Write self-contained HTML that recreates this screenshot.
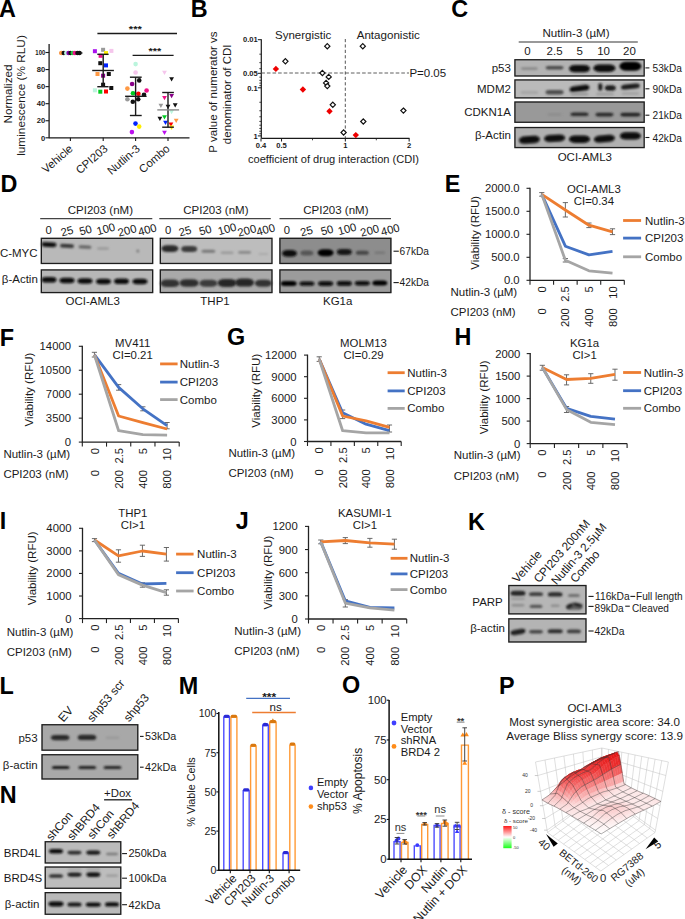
<!DOCTYPE html>
<html><head><meta charset="utf-8"><title>Figure</title>
<style>html,body{margin:0;padding:0;background:#fff;} body{width:685px;height:919px;overflow:hidden;} svg{display:block;} text{font-family:"Liberation Sans", sans-serif;}</style>
</head><body>
<svg width="685" height="919" viewBox="0 0 685 919">
<defs><filter id="bl5" x="-50%" y="-100%" width="200%" height="300%"><feGaussianBlur stdDeviation="0.5"/></filter><filter id="bl6" x="-50%" y="-100%" width="200%" height="300%"><feGaussianBlur stdDeviation="0.6"/></filter><filter id="bl7" x="-50%" y="-100%" width="200%" height="300%"><feGaussianBlur stdDeviation="0.7"/></filter><filter id="bl8" x="-50%" y="-100%" width="200%" height="300%"><feGaussianBlur stdDeviation="0.8"/></filter><filter id="bl9" x="-50%" y="-100%" width="200%" height="300%"><feGaussianBlur stdDeviation="0.9"/></filter><filter id="bl10" x="-50%" y="-100%" width="200%" height="300%"><feGaussianBlur stdDeviation="1.0"/></filter><filter id="bl11" x="-50%" y="-100%" width="200%" height="300%"><feGaussianBlur stdDeviation="1.1"/></filter><filter id="bl12" x="-50%" y="-100%" width="200%" height="300%"><feGaussianBlur stdDeviation="1.2"/></filter><filter id="bl13" x="-50%" y="-100%" width="200%" height="300%"><feGaussianBlur stdDeviation="1.3"/></filter><filter id="bl14" x="-50%" y="-100%" width="200%" height="300%"><feGaussianBlur stdDeviation="1.4"/></filter><filter id="bl15" x="-50%" y="-100%" width="200%" height="300%"><feGaussianBlur stdDeviation="1.5"/></filter><filter id="bl16" x="-50%" y="-100%" width="200%" height="300%"><feGaussianBlur stdDeviation="1.6"/></filter><filter id="bl17" x="-50%" y="-100%" width="200%" height="300%"><feGaussianBlur stdDeviation="1.7"/></filter><filter id="bl18" x="-50%" y="-100%" width="200%" height="300%"><feGaussianBlur stdDeviation="1.8"/></filter><filter id="bl19" x="-50%" y="-100%" width="200%" height="300%"><feGaussianBlur stdDeviation="1.9"/></filter><filter id="bl20" x="-50%" y="-100%" width="200%" height="300%"><feGaussianBlur stdDeviation="2.0"/></filter></defs>
<rect x="0" y="0" width="685" height="919" fill="#fff"/>
<text x="-1.14" y="16.50" font-size="23.4" text-anchor="start" font-weight="bold" fill="#000" >A</text>
<text transform="translate(11.60,94.00) rotate(-90)" font-size="11.7" text-anchor="middle" font-weight="normal" fill="#1a1a1a" >Normalized</text>
<text transform="translate(24.90,95.50) rotate(-90)" font-size="11.8" text-anchor="middle" font-weight="normal" fill="#1a1a1a" >luminescence (% RLU)</text>
<line x1="49.10" y1="43.90" x2="49.10" y2="138.30" stroke="#1a1a1a" stroke-width="1.3" />
<line x1="45.50" y1="137.80" x2="49.10" y2="137.80" stroke="#1a1a1a" stroke-width="1.1" />
<text x="45.30" y="140.50" font-size="7.6" text-anchor="end" font-weight="bold" fill="#1a1a1a" >0</text>
<line x1="45.50" y1="120.74" x2="49.10" y2="120.74" stroke="#1a1a1a" stroke-width="1.1" />
<text x="45.30" y="123.44" font-size="7.6" text-anchor="end" font-weight="bold" fill="#1a1a1a" >20</text>
<line x1="45.50" y1="103.68" x2="49.10" y2="103.68" stroke="#1a1a1a" stroke-width="1.1" />
<text x="45.30" y="106.38" font-size="7.6" text-anchor="end" font-weight="bold" fill="#1a1a1a" >40</text>
<line x1="45.50" y1="86.62" x2="49.10" y2="86.62" stroke="#1a1a1a" stroke-width="1.1" />
<text x="45.30" y="89.32" font-size="7.6" text-anchor="end" font-weight="bold" fill="#1a1a1a" >60</text>
<line x1="45.50" y1="69.56" x2="49.10" y2="69.56" stroke="#1a1a1a" stroke-width="1.1" />
<text x="45.30" y="72.26" font-size="7.6" text-anchor="end" font-weight="bold" fill="#1a1a1a" >80</text>
<line x1="45.50" y1="52.50" x2="49.10" y2="52.50" stroke="#1a1a1a" stroke-width="1.1" />
<text x="45.30" y="55.20" font-size="7.6" text-anchor="end" font-weight="bold" fill="#1a1a1a" textLength="10.0" lengthAdjust="spacingAndGlyphs" >100</text>
<line x1="49.10" y1="137.80" x2="189.50" y2="137.80" stroke="#1a1a1a" stroke-width="1.3" />
<line x1="70.40" y1="137.80" x2="70.40" y2="141.00" stroke="#1a1a1a" stroke-width="1.1" />
<text transform="translate(73.60,149.80) rotate(-41)" font-size="11.3" text-anchor="end" font-weight="normal" fill="#1a1a1a" >Vehicle</text>
<line x1="103.20" y1="137.80" x2="103.20" y2="141.00" stroke="#1a1a1a" stroke-width="1.1" />
<text transform="translate(108.40,149.80) rotate(-41)" font-size="11.3" text-anchor="end" font-weight="normal" fill="#1a1a1a" >CPI203</text>
<line x1="135.60" y1="137.80" x2="135.60" y2="141.00" stroke="#1a1a1a" stroke-width="1.1" />
<text transform="translate(140.80,149.80) rotate(-41)" font-size="11.3" text-anchor="end" font-weight="normal" fill="#1a1a1a" >Nutlin-3</text>
<line x1="168.00" y1="137.80" x2="168.00" y2="141.00" stroke="#1a1a1a" stroke-width="1.1" />
<text transform="translate(170.60,149.80) rotate(-41)" font-size="11.3" text-anchor="end" font-weight="normal" fill="#1a1a1a" >Combo</text>
<line x1="97.40" y1="33.50" x2="177.00" y2="33.50" stroke="#1a1a1a" stroke-width="1.3" />
<text x="135.30" y="32.00" font-size="9.5" text-anchor="middle" font-weight="bold" fill="#1a1a1a" textLength="13" lengthAdjust="spacingAndGlyphs" >***</text>
<line x1="132.60" y1="55.40" x2="173.60" y2="55.40" stroke="#1a1a1a" stroke-width="1.3" />
<text x="154.80" y="54.00" font-size="9.5" text-anchor="middle" font-weight="bold" fill="#1a1a1a" textLength="12.7" lengthAdjust="spacingAndGlyphs" >***</text>
<line x1="59.50" y1="53.00" x2="82.50" y2="53.00" stroke="#1a1a1a" stroke-width="1.2" />
<circle cx="61.3" cy="53.0" r="2.3" fill="#ff9944"/>
<circle cx="63.8" cy="53.0" r="2.3" fill="#111"/>
<circle cx="66.3" cy="53.0" r="2.3" fill="#bbf5dd"/>
<circle cx="68.6" cy="53.0" r="2.3" fill="#8800aa"/>
<circle cx="70.6" cy="53.0" r="2.3" fill="#111"/>
<circle cx="72.8" cy="53.0" r="2.3" fill="#22cc44"/>
<circle cx="74.8" cy="53.0" r="2.3" fill="#ee1188"/>
<circle cx="77.5" cy="53.0" r="2.3" fill="#111"/>
<circle cx="79.5" cy="53.0" r="2.3" fill="#111"/>
<rect x="92.90" y="49.20" width="4.00" height="4.00" fill="#aa11ee" stroke="none" stroke-width="0" />
<rect x="101.10" y="47.80" width="4.00" height="4.00" fill="#9a9a9a" stroke="none" stroke-width="0" />
<rect x="109.40" y="48.90" width="4.00" height="4.00" fill="#f5c6ec" stroke="none" stroke-width="0" />
<rect x="104.00" y="51.10" width="4.00" height="4.00" fill="#ffee00" stroke="none" stroke-width="0" />
<rect x="98.60" y="53.80" width="4.00" height="4.00" fill="#ee1188" stroke="none" stroke-width="0" />
<rect x="98.30" y="61.20" width="4.00" height="4.00" fill="#111" stroke="none" stroke-width="0" />
<rect x="104.00" y="63.40" width="4.00" height="4.00" fill="#0022ff" stroke="none" stroke-width="0" />
<rect x="95.50" y="72.00" width="4.00" height="4.00" fill="#ff9944" stroke="none" stroke-width="0" />
<rect x="101.10" y="73.70" width="4.00" height="4.00" fill="#880088" stroke="none" stroke-width="0" />
<rect x="106.80" y="72.00" width="4.00" height="4.00" fill="#111" stroke="none" stroke-width="0" />
<rect x="101.10" y="82.70" width="4.00" height="4.00" fill="#111" stroke="none" stroke-width="0" />
<rect x="109.30" y="86.00" width="4.00" height="4.00" fill="#111" stroke="none" stroke-width="0" />
<rect x="92.90" y="88.30" width="4.00" height="4.00" fill="#bbf5dd" stroke="none" stroke-width="0" />
<rect x="98.30" y="89.70" width="4.00" height="4.00" fill="#00cc22" stroke="none" stroke-width="0" />
<rect x="104.00" y="89.50" width="4.00" height="4.00" fill="#ff0000" stroke="none" stroke-width="0" />
<line x1="103.20" y1="54.30" x2="103.20" y2="86.70" stroke="#1a1a1a" stroke-width="1.4" />
<line x1="97.30" y1="54.30" x2="108.60" y2="54.30" stroke="#1a1a1a" stroke-width="1.4" />
<line x1="97.30" y1="86.70" x2="108.60" y2="86.70" stroke="#1a1a1a" stroke-width="1.4" />
<line x1="92.20" y1="70.50" x2="113.90" y2="70.50" stroke="#1a1a1a" stroke-width="1.4" />
<circle cx="135.6" cy="64.1" r="2.3" fill="#bbf5dd"/>
<circle cx="135.6" cy="72.5" r="2.3" fill="#f5c6ec"/>
<circle cx="139.2" cy="80.4" r="2.3" fill="#111"/>
<circle cx="132.1" cy="84.0" r="2.3" fill="#880088"/>
<circle cx="127.4" cy="88.6" r="2.3" fill="#ff9944"/>
<circle cx="146.6" cy="90.5" r="2.3" fill="#ee1188"/>
<circle cx="133.0" cy="93.2" r="2.3" fill="#00cc22"/>
<circle cx="138.4" cy="93.7" r="2.3" fill="#ff0000"/>
<circle cx="144.0" cy="94.7" r="2.3" fill="#111"/>
<circle cx="127.4" cy="99.3" r="2.3" fill="#9a9a9a"/>
<circle cx="138.2" cy="99.3" r="2.3" fill="#111"/>
<circle cx="132.8" cy="101.7" r="2.3" fill="#111"/>
<circle cx="135.5" cy="123.6" r="2.3" fill="#0022ff"/>
<circle cx="139.2" cy="126.6" r="2.3" fill="#ffee00"/>
<circle cx="131.9" cy="132.1" r="2.3" fill="#bb11ee"/>
<line x1="135.60" y1="77.20" x2="135.60" y2="115.50" stroke="#1a1a1a" stroke-width="1.4" />
<line x1="129.90" y1="77.20" x2="141.70" y2="77.20" stroke="#1a1a1a" stroke-width="1.4" />
<line x1="129.90" y1="115.50" x2="141.70" y2="115.50" stroke="#1a1a1a" stroke-width="1.4" />
<line x1="125.10" y1="96.30" x2="146.60" y2="96.30" stroke="#1a1a1a" stroke-width="1.4" />
<polygon points="162.10,70.80 166.90,70.80 164.50,75.10" fill="#f5c6ec"/>
<polygon points="169.20,77.20 174.00,77.20 171.60,81.50" fill="#111"/>
<polygon points="162.10,96.00 166.90,96.00 164.50,100.30" fill="#ee1188"/>
<polygon points="169.20,94.00 174.00,94.00 171.60,98.30" fill="#880088"/>
<polygon points="158.50,103.80 163.30,103.80 160.90,108.10" fill="#9a9a9a"/>
<polygon points="165.60,104.80 170.40,104.80 168.00,109.10" fill="#111"/>
<polygon points="172.80,103.30 177.60,103.30 175.20,107.60" fill="#111"/>
<polygon points="169.20,109.90 174.00,109.90 171.60,114.20" fill="#bbf5dd"/>
<polygon points="162.10,115.20 166.90,115.20 164.50,119.50" fill="#00cc22"/>
<polygon points="157.50,116.80 162.30,116.80 159.90,121.10" fill="#111"/>
<polygon points="173.80,118.80 178.60,118.80 176.20,123.10" fill="#ff9944"/>
<polygon points="163.10,120.80 167.90,120.80 165.50,125.10" fill="#0022ff"/>
<polygon points="168.50,122.60 173.30,122.60 170.90,126.90" fill="#ff0000"/>
<polygon points="169.20,125.60 174.00,125.60 171.60,129.90" fill="#ffee00"/>
<polygon points="162.10,130.70 166.90,130.70 164.50,135.00" fill="#bb11ee"/>
<line x1="168.00" y1="92.50" x2="168.00" y2="127.20" stroke="#1a1a1a" stroke-width="1.4" />
<line x1="162.20" y1="92.50" x2="173.90" y2="92.50" stroke="#1a1a1a" stroke-width="1.4" />
<line x1="162.20" y1="127.20" x2="173.90" y2="127.20" stroke="#1a1a1a" stroke-width="1.4" />
<line x1="157.30" y1="109.90" x2="179.10" y2="109.90" stroke="#888" stroke-width="1.4" />
<text x="190.68" y="16.60" font-size="23.4" text-anchor="start" font-weight="bold" fill="#000" >B</text>
<text transform="translate(217.40,92.00) rotate(-90)" font-size="11.5" text-anchor="middle" font-weight="normal" fill="#1a1a1a" >P value of numerator vs</text>
<text transform="translate(230.90,94.30) rotate(-90)" font-size="11.5" text-anchor="middle" font-weight="normal" fill="#1a1a1a" >denominator of CDI</text>
<line x1="261.30" y1="39.20" x2="261.30" y2="138.30" stroke="#1a1a1a" stroke-width="1.2" />
<line x1="257.80" y1="39.70" x2="261.30" y2="39.70" stroke="#1a1a1a" stroke-width="1.0" />
<text x="257.70" y="42.40" font-size="7.6" text-anchor="end" font-weight="bold" fill="#1a1a1a" >0.01</text>
<line x1="257.80" y1="73.32" x2="261.30" y2="73.32" stroke="#1a1a1a" stroke-width="1.0" />
<text x="257.70" y="76.02" font-size="7.6" text-anchor="end" font-weight="bold" fill="#1a1a1a" >0.05</text>
<line x1="257.80" y1="87.80" x2="261.30" y2="87.80" stroke="#1a1a1a" stroke-width="1.0" />
<text x="257.70" y="90.50" font-size="7.6" text-anchor="end" font-weight="bold" fill="#1a1a1a" >0.1</text>
<line x1="257.80" y1="135.90" x2="261.30" y2="135.90" stroke="#1a1a1a" stroke-width="1.0" />
<text x="257.70" y="138.60" font-size="7.6" text-anchor="end" font-weight="bold" fill="#1a1a1a" >1</text>
<line x1="259.30" y1="54.18" x2="261.30" y2="54.18" stroke="#1a1a1a" stroke-width="0.8" />
<line x1="259.30" y1="62.65" x2="261.30" y2="62.65" stroke="#1a1a1a" stroke-width="0.8" />
<line x1="259.30" y1="68.66" x2="261.30" y2="68.66" stroke="#1a1a1a" stroke-width="0.8" />
<line x1="259.30" y1="77.13" x2="261.30" y2="77.13" stroke="#1a1a1a" stroke-width="0.8" />
<line x1="259.30" y1="80.35" x2="261.30" y2="80.35" stroke="#1a1a1a" stroke-width="0.8" />
<line x1="259.30" y1="83.14" x2="261.30" y2="83.14" stroke="#1a1a1a" stroke-width="0.8" />
<line x1="259.30" y1="85.60" x2="261.30" y2="85.60" stroke="#1a1a1a" stroke-width="0.8" />
<line x1="259.30" y1="102.28" x2="261.30" y2="102.28" stroke="#1a1a1a" stroke-width="0.8" />
<line x1="259.30" y1="110.75" x2="261.30" y2="110.75" stroke="#1a1a1a" stroke-width="0.8" />
<line x1="259.30" y1="116.76" x2="261.30" y2="116.76" stroke="#1a1a1a" stroke-width="0.8" />
<line x1="259.30" y1="121.42" x2="261.30" y2="121.42" stroke="#1a1a1a" stroke-width="0.8" />
<line x1="259.30" y1="125.23" x2="261.30" y2="125.23" stroke="#1a1a1a" stroke-width="0.8" />
<line x1="259.30" y1="128.45" x2="261.30" y2="128.45" stroke="#1a1a1a" stroke-width="0.8" />
<line x1="259.30" y1="131.24" x2="261.30" y2="131.24" stroke="#1a1a1a" stroke-width="0.8" />
<line x1="259.30" y1="133.70" x2="261.30" y2="133.70" stroke="#1a1a1a" stroke-width="0.8" />
<line x1="261.30" y1="138.30" x2="409.50" y2="138.30" stroke="#1a1a1a" stroke-width="1.2" />
<line x1="261.00" y1="138.30" x2="261.00" y2="141.50" stroke="#1a1a1a" stroke-width="1.0" />
<text x="261.00" y="147.80" font-size="7.6" text-anchor="middle" font-weight="bold" fill="#1a1a1a" >0.4</text>
<line x1="281.54" y1="138.30" x2="281.54" y2="141.50" stroke="#1a1a1a" stroke-width="1.0" />
<text x="281.54" y="147.80" font-size="7.6" text-anchor="middle" font-weight="bold" fill="#1a1a1a" >0.5</text>
<line x1="345.34" y1="138.30" x2="345.34" y2="141.50" stroke="#1a1a1a" stroke-width="1.0" />
<text x="345.34" y="147.80" font-size="7.6" text-anchor="middle" font-weight="bold" fill="#1a1a1a" >1</text>
<line x1="409.15" y1="138.30" x2="409.15" y2="141.50" stroke="#1a1a1a" stroke-width="1.0" />
<text x="409.15" y="147.80" font-size="7.6" text-anchor="middle" font-weight="bold" fill="#1a1a1a" >2</text>
<line x1="312.51" y1="138.30" x2="312.51" y2="140.30" stroke="#1a1a1a" stroke-width="0.8" />
<line x1="376.32" y1="138.30" x2="376.32" y2="140.30" stroke="#1a1a1a" stroke-width="0.8" />
<line x1="261.30" y1="73.00" x2="409.00" y2="73.00" stroke="#5e5e5e" stroke-width="1.0" stroke-dasharray="3.6,2.0"/>
<line x1="345.30" y1="39.00" x2="345.30" y2="138.30" stroke="#444" stroke-width="0.9" stroke-dasharray="3.2,2.2"/>
<text x="409.40" y="76.80" font-size="11.5" text-anchor="start" font-weight="normal" fill="#1a1a1a" >P=0.05</text>
<text x="275.00" y="38.90" font-size="11.5" text-anchor="start" font-weight="normal" fill="#1a1a1a" textLength="56.2" lengthAdjust="spacingAndGlyphs" >Synergistic</text>
<text x="356.70" y="39.00" font-size="11.5" text-anchor="start" font-weight="normal" fill="#1a1a1a" textLength="63.1" lengthAdjust="spacingAndGlyphs" >Antagonistic</text>
<text x="248.00" y="163.00" font-size="11.5" text-anchor="start" font-weight="normal" fill="#1a1a1a" textLength="171" lengthAdjust="spacingAndGlyphs" >coefficient of drug interaction (CDI)</text>
<polygon points="327.30,43.60 329.90,46.20 327.30,48.80 324.70,46.20" fill="#fff" stroke="#111" stroke-width="1.2"/>
<polygon points="285.40,58.70 288.00,61.30 285.40,63.90 282.80,61.30" fill="#fff" stroke="#111" stroke-width="1.2"/>
<polygon points="322.40,70.40 325.00,73.00 322.40,75.60 319.80,73.00" fill="#fff" stroke="#111" stroke-width="1.2"/>
<polygon points="328.70,74.30 331.30,76.90 328.70,79.50 326.10,76.90" fill="#fff" stroke="#111" stroke-width="1.2"/>
<polygon points="326.10,80.30 328.70,82.90 326.10,85.50 323.50,82.90" fill="#fff" stroke="#111" stroke-width="1.2"/>
<polygon points="327.30,83.50 329.90,86.10 327.30,88.70 324.70,86.10" fill="#fff" stroke="#111" stroke-width="1.2"/>
<polygon points="332.80,102.20 335.40,104.80 332.80,107.40 330.20,104.80" fill="#fff" stroke="#111" stroke-width="1.2"/>
<polygon points="343.60,129.90 346.20,132.50 343.60,135.10 341.00,132.50" fill="#fff" stroke="#111" stroke-width="1.2"/>
<polygon points="362.80,43.60 365.40,46.20 362.80,48.80 360.20,46.20" fill="#fff" stroke="#111" stroke-width="1.2"/>
<polygon points="403.40,108.00 406.00,110.60 403.40,113.20 400.80,110.60" fill="#fff" stroke="#111" stroke-width="1.2"/>
<polygon points="363.30,118.90 365.90,121.50 363.30,124.10 360.70,121.50" fill="#fff" stroke="#111" stroke-width="1.2"/>
<polygon points="275.90,65.70 279.10,68.90 275.90,72.10 272.70,68.90" fill="#ee0000"/>
<polygon points="302.90,86.30 306.10,89.50 302.90,92.70 299.70,89.50" fill="#ee0000"/>
<polygon points="329.50,108.00 332.70,111.20 329.50,114.40 326.30,111.20" fill="#ee0000"/>
<polygon points="355.80,131.90 359.00,135.10 355.80,138.30 352.60,135.10" fill="#ee0000"/>
<text x="451.29" y="16.77" font-size="23.4" text-anchor="start" font-weight="bold" fill="#000" >C</text>
<text x="576.00" y="37.10" font-size="11.6" text-anchor="middle" font-weight="normal" fill="#1a1a1a" >Nutlin-3 (µM)</text>
<line x1="518.70" y1="41.90" x2="637.80" y2="41.90" stroke="#777" stroke-width="1.5" />
<text x="527.50" y="55.00" font-size="11.5" text-anchor="middle" font-weight="normal" fill="#1a1a1a" >0</text>
<text x="554.60" y="55.00" font-size="11.5" text-anchor="middle" font-weight="normal" fill="#1a1a1a" >2.5</text>
<text x="579.60" y="55.00" font-size="11.5" text-anchor="middle" font-weight="normal" fill="#1a1a1a" >5</text>
<text x="603.60" y="55.00" font-size="11.5" text-anchor="middle" font-weight="normal" fill="#1a1a1a" >10</text>
<text x="629.50" y="55.00" font-size="11.5" text-anchor="middle" font-weight="normal" fill="#1a1a1a" >20</text>
<rect x="514.30" y="59.10" width="130.50" height="17.50" fill="#b3b3b3"/>
<rect x="520.90" y="67.30" width="17.00" height="2.60" rx="2.08" ry="1.30" fill="#8a8a8a" filter="url(#bl10)" transform="rotate(0 529.40 68.60)"/>
<rect x="545.60" y="66.10" width="18.00" height="3.40" rx="2.72" ry="1.70" fill="#4a4a4a" filter="url(#bl10)" transform="rotate(0 554.60 67.80)"/>
<rect x="569.00" y="65.00" width="21.00" height="7.20" rx="5.76" ry="3.60" fill="#0a0a0a" filter="url(#bl10)" transform="rotate(0 579.50 68.60)"/>
<rect x="593.40" y="64.50" width="22.00" height="7.40" rx="5.92" ry="3.70" fill="#0a0a0a" filter="url(#bl10)" transform="rotate(0 604.40 68.20)"/>
<rect x="619.40" y="61.80" width="22.00" height="9.00" rx="7.20" ry="4.50" fill="#050505" filter="url(#bl10)" transform="rotate(0 630.40 66.30)"/>
<rect x="514.95" y="59.75" width="129.20" height="16.20" fill="none" stroke="#1e1e1e" stroke-width="1.3"/>
<rect x="514.30" y="79.30" width="130.50" height="19.20" fill="#bababa"/>
<rect x="520.40" y="91.00" width="18.00" height="3.00" rx="2.40" ry="1.50" fill="#a6a6a6" filter="url(#bl12)" transform="rotate(0 529.40 92.50)"/>
<rect x="545.60" y="90.00" width="18.00" height="4.40" rx="3.52" ry="2.20" fill="#4d4d4d" filter="url(#bl10)" transform="rotate(0 554.60 92.20)"/>
<rect x="569.50" y="85.40" width="20.00" height="6.00" rx="4.80" ry="3.00" fill="#111" filter="url(#bl9)" transform="rotate(-8 579.50 88.40)"/>
<rect x="570.50" y="92.50" width="18.00" height="3.00" rx="2.40" ry="1.50" fill="#9a9a9a" filter="url(#bl12)" transform="rotate(0 579.50 94.00)"/>
<rect x="598.30" y="83.25" width="4.00" height="7.50" rx="3.20" ry="2.00" fill="#1a1a1a" filter="url(#bl9)" transform="rotate(0 600.30 87.00)"/>
<rect x="604.80" y="85.25" width="11.00" height="5.50" rx="4.40" ry="2.75" fill="#1a1a1a" filter="url(#bl9)" transform="rotate(0 610.30 88.00)"/>
<rect x="596.00" y="92.50" width="18.00" height="3.00" rx="2.40" ry="1.50" fill="#9f9f9f" filter="url(#bl12)" transform="rotate(0 605.00 94.00)"/>
<rect x="620.90" y="84.10" width="19.00" height="5.00" rx="4.00" ry="2.50" fill="#1e1e1e" filter="url(#bl9)" transform="rotate(-6 630.40 86.60)"/>
<rect x="621.40" y="92.00" width="18.00" height="3.00" rx="2.40" ry="1.50" fill="#a4a4a4" filter="url(#bl12)" transform="rotate(0 630.40 93.50)"/>
<rect x="514.95" y="79.95" width="129.20" height="17.90" fill="none" stroke="#1e1e1e" stroke-width="1.3"/>
<rect x="514.30" y="101.40" width="130.50" height="21.50" fill="#999999"/>
<rect x="547.60" y="113.50" width="14.00" height="2.00" rx="1.60" ry="1.00" fill="#8a8a8a" filter="url(#bl10)" transform="rotate(0 554.60 114.50)"/>
<rect x="570.50" y="112.50" width="18.00" height="3.60" rx="2.88" ry="1.80" fill="#2a2a2a" filter="url(#bl10)" transform="rotate(0 579.50 114.30)"/>
<rect x="595.40" y="112.80" width="18.00" height="3.60" rx="2.88" ry="1.80" fill="#2a2a2a" filter="url(#bl10)" transform="rotate(0 604.40 114.60)"/>
<rect x="620.40" y="112.70" width="20.00" height="3.80" rx="3.04" ry="1.90" fill="#242424" filter="url(#bl10)" transform="rotate(0 630.40 114.60)"/>
<rect x="514.95" y="102.05" width="129.20" height="20.20" fill="none" stroke="#1e1e1e" stroke-width="1.3"/>
<rect x="514.30" y="126.90" width="130.50" height="21.30" fill="#b0b0b0"/>
<rect x="518.90" y="136.10" width="21.00" height="7.40" rx="5.92" ry="3.70" fill="#080808" filter="url(#bl8)" transform="rotate(-4 529.40 139.80)"/>
<rect x="544.10" y="134.80" width="21.00" height="7.00" rx="5.60" ry="3.50" fill="#080808" filter="url(#bl8)" transform="rotate(-3 554.60 138.30)"/>
<rect x="569.00" y="135.50" width="21.00" height="7.40" rx="5.92" ry="3.70" fill="#080808" filter="url(#bl8)" transform="rotate(0 579.50 139.20)"/>
<rect x="593.90" y="135.30" width="21.00" height="7.00" rx="5.60" ry="3.50" fill="#080808" filter="url(#bl8)" transform="rotate(-5 604.40 138.80)"/>
<rect x="619.90" y="132.20" width="21.00" height="7.40" rx="5.92" ry="3.70" fill="#080808" filter="url(#bl8)" transform="rotate(0 630.40 135.90)"/>
<rect x="514.95" y="127.55" width="129.20" height="20.00" fill="none" stroke="#1e1e1e" stroke-width="1.3"/>
<text x="510.90" y="71.50" font-size="11.5" text-anchor="end" font-weight="normal" fill="#1a1a1a" >p53</text>
<text x="510.90" y="93.40" font-size="11.5" text-anchor="end" font-weight="normal" fill="#1a1a1a" >MDM2</text>
<text x="510.90" y="116.40" font-size="11.5" text-anchor="end" font-weight="normal" fill="#1a1a1a" >CDKN1A</text>
<text x="510.90" y="139.30" font-size="11.5" text-anchor="end" font-weight="normal" fill="#1a1a1a" >β-Actin</text>
<line x1="645.40" y1="67.90" x2="649.40" y2="67.90" stroke="#1a1a1a" stroke-width="1.1" />
<text x="652.60" y="71.90" font-size="11.5" text-anchor="start" font-weight="normal" fill="#1a1a1a" textLength="29.3" lengthAdjust="spacingAndGlyphs" >53kDa</text>
<line x1="645.40" y1="88.80" x2="649.40" y2="88.80" stroke="#1a1a1a" stroke-width="1.1" />
<text x="652.60" y="92.80" font-size="11.5" text-anchor="start" font-weight="normal" fill="#1a1a1a" textLength="29.3" lengthAdjust="spacingAndGlyphs" >90kDa</text>
<line x1="645.40" y1="115.20" x2="649.40" y2="115.20" stroke="#1a1a1a" stroke-width="1.1" />
<text x="652.60" y="119.20" font-size="11.5" text-anchor="start" font-weight="normal" fill="#1a1a1a" textLength="29.3" lengthAdjust="spacingAndGlyphs" >21kDa</text>
<line x1="645.40" y1="137.50" x2="649.40" y2="137.50" stroke="#1a1a1a" stroke-width="1.1" />
<text x="652.60" y="141.50" font-size="11.5" text-anchor="start" font-weight="normal" fill="#1a1a1a" textLength="29.3" lengthAdjust="spacingAndGlyphs" >42kDa</text>
<text x="584.80" y="161.40" font-size="11.5" text-anchor="middle" font-weight="normal" fill="#1a1a1a" >OCI-AML3</text>
<text x="0.43" y="191.80" font-size="23.4" text-anchor="start" font-weight="bold" fill="#000" >D</text>
<text x="100.40" y="214.40" font-size="11.5" text-anchor="middle" font-weight="normal" fill="#1a1a1a" >CPI203 (nM)</text>
<line x1="40.20" y1="218.60" x2="152.30" y2="218.60" stroke="#444" stroke-width="1.1" />
<text x="48.70" y="234.20" font-size="11.3" text-anchor="middle" font-weight="normal" fill="#1a1a1a" >0</text>
<text transform="translate(62.00,236.60) rotate(-15)" font-size="11.3" text-anchor="start" font-weight="normal" fill="#1a1a1a" >25</text>
<text transform="translate(80.40,235.60) rotate(-15)" font-size="11.3" text-anchor="start" font-weight="normal" fill="#1a1a1a" >50</text>
<text transform="translate(97.70,235.20) rotate(-15)" font-size="11.3" text-anchor="start" font-weight="normal" fill="#1a1a1a" >100</text>
<text transform="translate(119.00,236.80) rotate(-15)" font-size="11.3" text-anchor="start" font-weight="normal" fill="#1a1a1a" >200</text>
<text transform="translate(139.20,236.00) rotate(-15)" font-size="11.3" text-anchor="start" font-weight="normal" fill="#1a1a1a" >400</text>
<rect x="40.70" y="237.70" width="112.60" height="26.40" fill="#b9b9b9"/>
<rect x="41.50" y="242.30" width="15.00" height="4.60" rx="3.68" ry="2.30" fill="#0d0d0d" filter="url(#bl10)" transform="rotate(3 49.00 244.60)"/>
<rect x="60.00" y="244.10" width="14.00" height="3.60" rx="2.88" ry="1.80" fill="#353535" filter="url(#bl10)" transform="rotate(3 67.00 245.90)"/>
<rect x="78.50" y="245.50" width="13.00" height="3.00" rx="2.40" ry="1.50" fill="#5e5e5e" filter="url(#bl10)" transform="rotate(3 85.00 247.00)"/>
<rect x="97.00" y="247.20" width="12.00" height="2.60" rx="2.08" ry="1.30" fill="#9a9a9a" filter="url(#bl10)" transform="rotate(0 103.00 248.50)"/>
<rect x="136.30" y="249.50" width="3.00" height="3.00" rx="2.40" ry="1.50" fill="#7a7a7a" filter="url(#bl8)" transform="rotate(0 137.80 251.00)"/>
<rect x="41.35" y="238.35" width="111.30" height="25.10" fill="none" stroke="#1e1e1e" stroke-width="1.3"/>
<rect x="40.70" y="269.30" width="112.60" height="23.90" fill="#b7b7b7"/>
<rect x="41.50" y="277.00" width="15.00" height="5.60" rx="4.48" ry="2.80" fill="#0a0a0a" filter="url(#bl10)" transform="rotate(0 49.00 279.80)"/>
<rect x="59.50" y="277.80" width="15.00" height="5.40" rx="4.32" ry="2.70" fill="#0f0f0f" filter="url(#bl10)" transform="rotate(0 67.00 280.50)"/>
<rect x="77.50" y="278.20" width="15.00" height="5.60" rx="4.48" ry="2.80" fill="#111" filter="url(#bl10)" transform="rotate(0 85.00 281.00)"/>
<rect x="96.00" y="278.70" width="15.00" height="5.60" rx="4.48" ry="2.80" fill="#111" filter="url(#bl10)" transform="rotate(0 103.50 281.50)"/>
<rect x="114.00" y="278.40" width="15.00" height="5.60" rx="4.48" ry="2.80" fill="#111" filter="url(#bl10)" transform="rotate(0 121.50 281.20)"/>
<rect x="132.50" y="278.70" width="15.00" height="5.60" rx="4.48" ry="2.80" fill="#111" filter="url(#bl10)" transform="rotate(0 140.00 281.50)"/>
<rect x="41.35" y="269.95" width="111.30" height="22.60" fill="none" stroke="#1e1e1e" stroke-width="1.3"/>
<text x="92.70" y="305.10" font-size="11.5" text-anchor="middle" font-weight="normal" fill="#1a1a1a" >OCI-AML3</text>
<text x="215.90" y="214.40" font-size="11.5" text-anchor="middle" font-weight="normal" fill="#1a1a1a" >CPI203 (nM)</text>
<line x1="159.30" y1="218.60" x2="270.80" y2="218.60" stroke="#444" stroke-width="1.1" />
<text x="168.20" y="234.20" font-size="11.3" text-anchor="middle" font-weight="normal" fill="#1a1a1a" >0</text>
<text transform="translate(179.90,236.60) rotate(-15)" font-size="11.3" text-anchor="start" font-weight="normal" fill="#1a1a1a" >25</text>
<text transform="translate(200.20,235.60) rotate(-15)" font-size="11.3" text-anchor="start" font-weight="normal" fill="#1a1a1a" >50</text>
<text transform="translate(218.90,235.20) rotate(-15)" font-size="11.3" text-anchor="start" font-weight="normal" fill="#1a1a1a" >100</text>
<text transform="translate(238.80,236.80) rotate(-15)" font-size="11.3" text-anchor="start" font-weight="normal" fill="#1a1a1a" >200</text>
<text transform="translate(257.50,236.00) rotate(-15)" font-size="11.3" text-anchor="start" font-weight="normal" fill="#1a1a1a" >400</text>
<rect x="159.70" y="237.70" width="112.90" height="26.40" fill="#bdbdbd"/>
<rect x="161.40" y="245.30" width="17.00" height="6.60" rx="5.28" ry="3.30" fill="#2a2a2a" filter="url(#bl9)" transform="rotate(0 169.90 248.60)"/>
<rect x="181.20" y="246.00" width="16.00" height="6.00" rx="4.80" ry="3.00" fill="#3a3a3a" filter="url(#bl9)" transform="rotate(0 189.20 249.00)"/>
<rect x="201.40" y="249.70" width="14.00" height="3.00" rx="2.40" ry="1.50" fill="#777" filter="url(#bl10)" transform="rotate(0 208.40 251.20)"/>
<rect x="220.60" y="251.60" width="13.00" height="2.40" rx="1.92" ry="1.20" fill="#9a9a9a" filter="url(#bl10)" transform="rotate(0 227.10 252.80)"/>
<rect x="238.10" y="251.00" width="13.00" height="2.80" rx="2.24" ry="1.40" fill="#888" filter="url(#bl10)" transform="rotate(0 244.60 252.40)"/>
<rect x="258.30" y="253.00" width="10.00" height="2.00" rx="1.60" ry="1.00" fill="#aaa" filter="url(#bl10)" transform="rotate(0 263.30 254.00)"/>
<rect x="160.35" y="238.35" width="111.60" height="25.10" fill="none" stroke="#1e1e1e" stroke-width="1.3"/>
<rect x="159.70" y="269.30" width="112.90" height="23.90" fill="#a9a9a9"/>
<rect x="160.40" y="279.55" width="19.00" height="7.50" rx="6.00" ry="3.75" fill="#333" filter="url(#bl13)" transform="rotate(0 169.90 283.30)"/>
<rect x="179.70" y="279.25" width="19.00" height="7.50" rx="6.00" ry="3.75" fill="#2e2e2e" filter="url(#bl13)" transform="rotate(0 189.20 283.00)"/>
<rect x="199.40" y="279.80" width="18.00" height="7.00" rx="5.60" ry="3.50" fill="#3a3a3a" filter="url(#bl13)" transform="rotate(0 208.40 283.30)"/>
<rect x="217.60" y="279.00" width="19.00" height="8.00" rx="6.40" ry="4.00" fill="#262626" filter="url(#bl13)" transform="rotate(0 227.10 283.00)"/>
<rect x="235.10" y="278.60" width="19.00" height="8.00" rx="6.40" ry="4.00" fill="#262626" filter="url(#bl13)" transform="rotate(0 244.60 282.60)"/>
<rect x="254.80" y="279.80" width="17.00" height="7.00" rx="5.60" ry="3.50" fill="#333" filter="url(#bl13)" transform="rotate(0 263.30 283.30)"/>
<rect x="160.35" y="269.95" width="111.60" height="22.60" fill="none" stroke="#1e1e1e" stroke-width="1.3"/>
<text x="215.00" y="305.10" font-size="11.5" text-anchor="middle" font-weight="normal" fill="#1a1a1a" >THP1</text>
<text x="335.90" y="214.40" font-size="11.5" text-anchor="middle" font-weight="normal" fill="#1a1a1a" >CPI203 (nM)</text>
<line x1="279.50" y1="218.60" x2="391.00" y2="218.60" stroke="#444" stroke-width="1.1" />
<text x="286.80" y="234.20" font-size="11.3" text-anchor="middle" font-weight="normal" fill="#1a1a1a" >0</text>
<text transform="translate(301.50,236.60) rotate(-15)" font-size="11.3" text-anchor="start" font-weight="normal" fill="#1a1a1a" >25</text>
<text transform="translate(321.90,235.60) rotate(-15)" font-size="11.3" text-anchor="start" font-weight="normal" fill="#1a1a1a" >50</text>
<text transform="translate(338.90,235.20) rotate(-15)" font-size="11.3" text-anchor="start" font-weight="normal" fill="#1a1a1a" >100</text>
<text transform="translate(361.60,236.80) rotate(-15)" font-size="11.3" text-anchor="start" font-weight="normal" fill="#1a1a1a" >200</text>
<text transform="translate(382.10,236.00) rotate(-15)" font-size="11.3" text-anchor="start" font-weight="normal" fill="#1a1a1a" >400</text>
<rect x="279.30" y="237.70" width="112.20" height="26.40" fill="#8d8d8d"/>
<rect x="282.00" y="250.10" width="15.00" height="6.60" rx="5.28" ry="3.30" fill="#111" filter="url(#bl9)" transform="rotate(0 289.50 253.40)"/>
<rect x="300.40" y="250.50" width="13.00" height="5.00" rx="4.00" ry="2.50" fill="#555" filter="url(#bl10)" transform="rotate(0 306.90 253.00)"/>
<rect x="317.60" y="249.30" width="16.00" height="7.00" rx="5.60" ry="3.50" fill="#050505" filter="url(#bl9)" transform="rotate(0 325.60 252.80)"/>
<rect x="336.80" y="249.00" width="15.00" height="6.00" rx="4.80" ry="3.00" fill="#151515" filter="url(#bl9)" transform="rotate(0 344.30 252.00)"/>
<rect x="355.80" y="250.80" width="13.00" height="4.00" rx="3.20" ry="2.00" fill="#444" filter="url(#bl10)" transform="rotate(0 362.30 252.80)"/>
<rect x="374.30" y="251.50" width="11.00" height="2.60" rx="2.08" ry="1.30" fill="#777" filter="url(#bl10)" transform="rotate(0 379.80 252.80)"/>
<rect x="279.95" y="238.35" width="110.90" height="25.10" fill="none" stroke="#1e1e1e" stroke-width="1.3"/>
<rect x="279.30" y="269.30" width="112.20" height="23.90" fill="#9b9b9b"/>
<rect x="280.70" y="281.10" width="16.00" height="5.00" rx="4.00" ry="2.50" fill="#050505" filter="url(#bl9)" transform="rotate(0 288.70 283.60)"/>
<rect x="299.40" y="281.40" width="15.00" height="4.40" rx="3.52" ry="2.20" fill="#0a0a0a" filter="url(#bl9)" transform="rotate(0 306.90 283.60)"/>
<rect x="318.10" y="281.30" width="15.00" height="4.60" rx="3.68" ry="2.30" fill="#080808" filter="url(#bl9)" transform="rotate(0 325.60 283.60)"/>
<rect x="336.80" y="281.10" width="15.00" height="4.60" rx="3.68" ry="2.30" fill="#080808" filter="url(#bl9)" transform="rotate(0 344.30 283.40)"/>
<rect x="354.80" y="281.00" width="15.00" height="4.40" rx="3.52" ry="2.20" fill="#0a0a0a" filter="url(#bl9)" transform="rotate(0 362.30 283.20)"/>
<rect x="372.30" y="280.50" width="15.00" height="5.00" rx="4.00" ry="2.50" fill="#050505" filter="url(#bl9)" transform="rotate(0 379.80 283.00)"/>
<rect x="279.95" y="269.95" width="110.90" height="22.60" fill="none" stroke="#1e1e1e" stroke-width="1.3"/>
<text x="337.70" y="305.10" font-size="11.5" text-anchor="middle" font-weight="normal" fill="#1a1a1a" >KG1a</text>
<text x="37.60" y="256.90" font-size="11.5" text-anchor="end" font-weight="normal" fill="#1a1a1a" >C-MYC</text>
<text x="37.80" y="283.30" font-size="11.5" text-anchor="end" font-weight="normal" fill="#1a1a1a" >β-Actin</text>
<line x1="393.50" y1="251.20" x2="398.80" y2="251.20" stroke="#1a1a1a" stroke-width="1.1" />
<text x="399.60" y="255.00" font-size="10.6" text-anchor="start" font-weight="normal" fill="#1a1a1a" textLength="29.4" lengthAdjust="spacingAndGlyphs" >67kDa</text>
<line x1="393.50" y1="282.60" x2="398.80" y2="282.60" stroke="#1a1a1a" stroke-width="1.1" />
<text x="399.60" y="286.40" font-size="10.6" text-anchor="start" font-weight="normal" fill="#1a1a1a" textLength="29.4" lengthAdjust="spacingAndGlyphs" >42kDa</text>
<text x="444.78" y="191.80" font-size="23.4" text-anchor="start" font-weight="bold" fill="#000" >E</text>
<line x1="530.00" y1="187.80" x2="530.00" y2="280.80" stroke="#222" stroke-width="1.3" />
<line x1="526.50" y1="280.30" x2="530.00" y2="280.30" stroke="#222" stroke-width="1.1" />
<text x="519.60" y="284.30" font-size="11.3" text-anchor="end" font-weight="normal" fill="#1a1a1a" >0.0</text>
<line x1="526.50" y1="257.30" x2="530.00" y2="257.30" stroke="#222" stroke-width="1.1" />
<text x="519.60" y="261.30" font-size="11.3" text-anchor="end" font-weight="normal" fill="#1a1a1a" >500.0</text>
<line x1="526.50" y1="234.30" x2="530.00" y2="234.30" stroke="#222" stroke-width="1.1" />
<text x="519.60" y="238.30" font-size="11.3" text-anchor="end" font-weight="normal" fill="#1a1a1a" >1000.0</text>
<line x1="526.50" y1="211.30" x2="530.00" y2="211.30" stroke="#222" stroke-width="1.1" />
<text x="519.60" y="215.30" font-size="11.3" text-anchor="end" font-weight="normal" fill="#1a1a1a" >1500.0</text>
<line x1="526.50" y1="188.30" x2="530.00" y2="188.30" stroke="#222" stroke-width="1.1" />
<text x="519.60" y="192.30" font-size="11.3" text-anchor="end" font-weight="normal" fill="#1a1a1a" >2000.0</text>
<line x1="530.00" y1="280.30" x2="624.30" y2="280.30" stroke="#222" stroke-width="1.3" />
<line x1="530.00" y1="280.30" x2="530.00" y2="284.80" stroke="#222" stroke-width="1.1" />
<line x1="553.58" y1="280.30" x2="553.58" y2="284.80" stroke="#222" stroke-width="1.1" />
<line x1="577.15" y1="280.30" x2="577.15" y2="284.80" stroke="#222" stroke-width="1.1" />
<line x1="600.72" y1="280.30" x2="600.72" y2="284.80" stroke="#222" stroke-width="1.1" />
<line x1="624.30" y1="280.30" x2="624.30" y2="284.80" stroke="#222" stroke-width="1.1" />
<text transform="translate(478.80,232.80) rotate(-90)" font-size="11.5" text-anchor="middle" font-weight="normal" fill="#1a1a1a" >Viability (RFU)</text>
<text x="593.90" y="193.20" font-size="11.4" text-anchor="middle" font-weight="normal" fill="#1a1a1a" >OCI-AML3</text>
<text x="593.90" y="204.90" font-size="11.4" text-anchor="middle" font-weight="normal" fill="#1a1a1a" >CI=0.34</text>
<line x1="541.79" y1="192.60" x2="541.79" y2="196.20" stroke="#5a5a5a" stroke-width="0.9" />
<line x1="539.19" y1="192.60" x2="544.39" y2="192.60" stroke="#5a5a5a" stroke-width="0.9" />
<line x1="539.19" y1="196.20" x2="544.39" y2="196.20" stroke="#5a5a5a" stroke-width="0.9" />
<line x1="565.36" y1="202.60" x2="565.36" y2="217.00" stroke="#5a5a5a" stroke-width="0.9" />
<line x1="562.76" y1="202.60" x2="567.96" y2="202.60" stroke="#5a5a5a" stroke-width="0.9" />
<line x1="562.76" y1="217.00" x2="567.96" y2="217.00" stroke="#5a5a5a" stroke-width="0.9" />
<line x1="588.94" y1="223.00" x2="588.94" y2="227.60" stroke="#5a5a5a" stroke-width="0.9" />
<line x1="586.34" y1="223.00" x2="591.54" y2="223.00" stroke="#5a5a5a" stroke-width="0.9" />
<line x1="586.34" y1="227.60" x2="591.54" y2="227.60" stroke="#5a5a5a" stroke-width="0.9" />
<line x1="612.51" y1="228.80" x2="612.51" y2="234.60" stroke="#5a5a5a" stroke-width="0.9" />
<line x1="609.91" y1="228.80" x2="615.11" y2="228.80" stroke="#5a5a5a" stroke-width="0.9" />
<line x1="609.91" y1="234.60" x2="615.11" y2="234.60" stroke="#5a5a5a" stroke-width="0.9" />
<line x1="565.36" y1="258.50" x2="565.36" y2="262.00" stroke="#5a5a5a" stroke-width="0.9" />
<line x1="562.76" y1="258.50" x2="567.96" y2="258.50" stroke="#5a5a5a" stroke-width="0.9" />
<line x1="562.76" y1="262.00" x2="567.96" y2="262.00" stroke="#5a5a5a" stroke-width="0.9" />
<polyline points="541.79,194.40 565.36,246.20 588.94,254.90 612.51,251.40" fill="none" stroke="#4472C4" stroke-width="2.8" stroke-linejoin="round" stroke-linecap="butt" />
<polyline points="541.79,194.40 565.36,210.00 588.94,225.20 612.51,231.80" fill="none" stroke="#ED7D31" stroke-width="2.8" stroke-linejoin="round" stroke-linecap="butt" />
<polyline points="541.79,194.40 565.36,260.30 588.94,270.80 612.51,273.10" fill="none" stroke="#A5A5A5" stroke-width="2.8" stroke-linejoin="round" stroke-linecap="butt" />
<line x1="623.10" y1="220.50" x2="641.10" y2="220.50" stroke="#ED7D31" stroke-width="2.8" />
<text x="645.00" y="224.50" font-size="11.5" text-anchor="start" font-weight="normal" fill="#1a1a1a" >Nutlin-3</text>
<line x1="623.10" y1="238.10" x2="641.10" y2="238.10" stroke="#4472C4" stroke-width="2.8" />
<text x="645.00" y="242.10" font-size="11.5" text-anchor="start" font-weight="normal" fill="#1a1a1a" >CPI203</text>
<line x1="623.10" y1="256.80" x2="641.10" y2="256.80" stroke="#A5A5A5" stroke-width="2.8" />
<text x="645.00" y="260.80" font-size="11.5" text-anchor="start" font-weight="normal" fill="#1a1a1a" >Combo</text>
<text x="450.50" y="296.00" font-size="11.5" text-anchor="start" font-weight="normal" fill="#1a1a1a" >Nutlin-3 (µM)</text>
<text x="450.50" y="316.20" font-size="11.5" text-anchor="start" font-weight="normal" fill="#1a1a1a" >CPI203 (nM)</text>
<text transform="translate(545.89,286.10) rotate(-90)" font-size="11.3" text-anchor="end" font-weight="normal" fill="#1a1a1a" >0</text>
<text transform="translate(545.89,308.10) rotate(-90)" font-size="11.3" text-anchor="end" font-weight="normal" fill="#1a1a1a" >0</text>
<text transform="translate(569.46,286.10) rotate(-90)" font-size="11.3" text-anchor="end" font-weight="normal" fill="#1a1a1a" >2.5</text>
<text transform="translate(569.46,308.10) rotate(-90)" font-size="11.3" text-anchor="end" font-weight="normal" fill="#1a1a1a" >200</text>
<text transform="translate(593.04,286.10) rotate(-90)" font-size="11.3" text-anchor="end" font-weight="normal" fill="#1a1a1a" >5</text>
<text transform="translate(593.04,308.10) rotate(-90)" font-size="11.3" text-anchor="end" font-weight="normal" fill="#1a1a1a" >400</text>
<text transform="translate(616.61,286.10) rotate(-90)" font-size="11.3" text-anchor="end" font-weight="normal" fill="#1a1a1a" >10</text>
<text transform="translate(616.61,308.10) rotate(-90)" font-size="11.3" text-anchor="end" font-weight="normal" fill="#1a1a1a" >800</text>
<text x="-0.22" y="345.50" font-size="23.4" text-anchor="start" font-weight="bold" fill="#000" >F</text>
<line x1="82.30" y1="345.80" x2="82.30" y2="442.60" stroke="#222" stroke-width="1.3" />
<line x1="78.80" y1="442.10" x2="82.30" y2="442.10" stroke="#222" stroke-width="1.1" />
<text x="71.00" y="446.10" font-size="11.3" text-anchor="end" font-weight="normal" fill="#1a1a1a" >0</text>
<line x1="78.80" y1="418.15" x2="82.30" y2="418.15" stroke="#222" stroke-width="1.1" />
<text x="71.00" y="422.15" font-size="11.3" text-anchor="end" font-weight="normal" fill="#1a1a1a" >3500</text>
<line x1="78.80" y1="394.20" x2="82.30" y2="394.20" stroke="#222" stroke-width="1.1" />
<text x="71.00" y="398.20" font-size="11.3" text-anchor="end" font-weight="normal" fill="#1a1a1a" >7000</text>
<line x1="78.80" y1="370.25" x2="82.30" y2="370.25" stroke="#222" stroke-width="1.1" />
<text x="71.00" y="374.25" font-size="11.3" text-anchor="end" font-weight="normal" fill="#1a1a1a" >10500</text>
<line x1="78.80" y1="346.30" x2="82.30" y2="346.30" stroke="#222" stroke-width="1.1" />
<text x="71.00" y="350.30" font-size="11.3" text-anchor="end" font-weight="normal" fill="#1a1a1a" >14000</text>
<line x1="82.30" y1="442.10" x2="179.20" y2="442.10" stroke="#222" stroke-width="1.3" />
<line x1="82.30" y1="442.10" x2="82.30" y2="446.60" stroke="#222" stroke-width="1.1" />
<line x1="106.52" y1="442.10" x2="106.52" y2="446.60" stroke="#222" stroke-width="1.1" />
<line x1="130.75" y1="442.10" x2="130.75" y2="446.60" stroke="#222" stroke-width="1.1" />
<line x1="154.97" y1="442.10" x2="154.97" y2="446.60" stroke="#222" stroke-width="1.1" />
<line x1="179.20" y1="442.10" x2="179.20" y2="446.60" stroke="#222" stroke-width="1.1" />
<text transform="translate(33.10,389.60) rotate(-90)" font-size="11.5" text-anchor="middle" font-weight="normal" fill="#1a1a1a" >Viability (RFU)</text>
<text x="132.70" y="346.90" font-size="11.4" text-anchor="middle" font-weight="normal" fill="#1a1a1a" >MV411</text>
<text x="132.70" y="358.50" font-size="11.4" text-anchor="middle" font-weight="normal" fill="#1a1a1a" >CI=0.21</text>
<line x1="94.41" y1="352.30" x2="94.41" y2="357.00" stroke="#5a5a5a" stroke-width="0.9" />
<line x1="91.81" y1="352.30" x2="97.01" y2="352.30" stroke="#5a5a5a" stroke-width="0.9" />
<line x1="91.81" y1="357.00" x2="97.01" y2="357.00" stroke="#5a5a5a" stroke-width="0.9" />
<line x1="118.64" y1="384.60" x2="118.64" y2="390.20" stroke="#5a5a5a" stroke-width="0.9" />
<line x1="116.04" y1="384.60" x2="121.24" y2="384.60" stroke="#5a5a5a" stroke-width="0.9" />
<line x1="116.04" y1="390.20" x2="121.24" y2="390.20" stroke="#5a5a5a" stroke-width="0.9" />
<line x1="142.86" y1="406.80" x2="142.86" y2="410.80" stroke="#5a5a5a" stroke-width="0.9" />
<line x1="140.26" y1="406.80" x2="145.46" y2="406.80" stroke="#5a5a5a" stroke-width="0.9" />
<line x1="140.26" y1="410.80" x2="145.46" y2="410.80" stroke="#5a5a5a" stroke-width="0.9" />
<line x1="167.09" y1="422.50" x2="167.09" y2="428.80" stroke="#5a5a5a" stroke-width="0.9" />
<line x1="164.49" y1="422.50" x2="169.69" y2="422.50" stroke="#5a5a5a" stroke-width="0.9" />
<line x1="164.49" y1="428.80" x2="169.69" y2="428.80" stroke="#5a5a5a" stroke-width="0.9" />
<polyline points="94.41,354.70 118.64,387.40 142.86,408.80 167.09,425.70" fill="none" stroke="#4472C4" stroke-width="2.8" stroke-linejoin="round" stroke-linecap="butt" />
<polyline points="94.41,354.70 118.64,416.00 142.86,422.60 167.09,429.00" fill="none" stroke="#ED7D31" stroke-width="2.8" stroke-linejoin="round" stroke-linecap="butt" />
<polyline points="94.41,354.70 118.64,430.70 142.86,434.70 167.09,435.10" fill="none" stroke="#A5A5A5" stroke-width="2.8" stroke-linejoin="round" stroke-linecap="butt" />
<line x1="160.10" y1="363.90" x2="177.60" y2="363.90" stroke="#ED7D31" stroke-width="2.8" />
<text x="179.80" y="367.90" font-size="11.5" text-anchor="start" font-weight="normal" fill="#1a1a1a" >Nutlin-3</text>
<line x1="160.10" y1="382.10" x2="177.60" y2="382.10" stroke="#4472C4" stroke-width="2.8" />
<text x="179.80" y="386.10" font-size="11.5" text-anchor="start" font-weight="normal" fill="#1a1a1a" >CPI203</text>
<line x1="160.10" y1="399.60" x2="177.60" y2="399.60" stroke="#A5A5A5" stroke-width="2.8" />
<text x="179.80" y="403.60" font-size="11.5" text-anchor="start" font-weight="normal" fill="#1a1a1a" >Combo</text>
<text x="3.40" y="457.80" font-size="11.5" text-anchor="start" font-weight="normal" fill="#1a1a1a" >Nutlin-3 (µM)</text>
<text x="3.40" y="478.00" font-size="11.5" text-anchor="start" font-weight="normal" fill="#1a1a1a" >CPI203 (nM)</text>
<text transform="translate(98.51,447.90) rotate(-90)" font-size="11.3" text-anchor="end" font-weight="normal" fill="#1a1a1a" >0</text>
<text transform="translate(98.51,469.90) rotate(-90)" font-size="11.3" text-anchor="end" font-weight="normal" fill="#1a1a1a" >0</text>
<text transform="translate(122.74,447.90) rotate(-90)" font-size="11.3" text-anchor="end" font-weight="normal" fill="#1a1a1a" >2.5</text>
<text transform="translate(122.74,469.90) rotate(-90)" font-size="11.3" text-anchor="end" font-weight="normal" fill="#1a1a1a" >200</text>
<text transform="translate(146.96,447.90) rotate(-90)" font-size="11.3" text-anchor="end" font-weight="normal" fill="#1a1a1a" >5</text>
<text transform="translate(146.96,469.90) rotate(-90)" font-size="11.3" text-anchor="end" font-weight="normal" fill="#1a1a1a" >400</text>
<text transform="translate(171.19,447.90) rotate(-90)" font-size="11.3" text-anchor="end" font-weight="normal" fill="#1a1a1a" >10</text>
<text transform="translate(171.19,469.90) rotate(-90)" font-size="11.3" text-anchor="end" font-weight="normal" fill="#1a1a1a" >800</text>
<text x="227.09" y="345.27" font-size="23.4" text-anchor="start" font-weight="bold" fill="#000" >G</text>
<line x1="307.50" y1="354.60" x2="307.50" y2="442.00" stroke="#222" stroke-width="1.3" />
<line x1="304.00" y1="441.50" x2="307.50" y2="441.50" stroke="#222" stroke-width="1.1" />
<text x="296.50" y="445.50" font-size="11.3" text-anchor="end" font-weight="normal" fill="#1a1a1a" >0</text>
<line x1="304.00" y1="419.90" x2="307.50" y2="419.90" stroke="#222" stroke-width="1.1" />
<text x="296.50" y="423.90" font-size="11.3" text-anchor="end" font-weight="normal" fill="#1a1a1a" >3000</text>
<line x1="304.00" y1="398.30" x2="307.50" y2="398.30" stroke="#222" stroke-width="1.1" />
<text x="296.50" y="402.30" font-size="11.3" text-anchor="end" font-weight="normal" fill="#1a1a1a" >6000</text>
<line x1="304.00" y1="376.70" x2="307.50" y2="376.70" stroke="#222" stroke-width="1.1" />
<text x="296.50" y="380.70" font-size="11.3" text-anchor="end" font-weight="normal" fill="#1a1a1a" >9000</text>
<line x1="304.00" y1="355.10" x2="307.50" y2="355.10" stroke="#222" stroke-width="1.1" />
<text x="296.50" y="359.10" font-size="11.3" text-anchor="end" font-weight="normal" fill="#1a1a1a" >12000</text>
<line x1="307.50" y1="441.50" x2="401.20" y2="441.50" stroke="#222" stroke-width="1.3" />
<line x1="307.50" y1="441.50" x2="307.50" y2="446.00" stroke="#222" stroke-width="1.1" />
<line x1="330.93" y1="441.50" x2="330.93" y2="446.00" stroke="#222" stroke-width="1.1" />
<line x1="354.35" y1="441.50" x2="354.35" y2="446.00" stroke="#222" stroke-width="1.1" />
<line x1="377.77" y1="441.50" x2="377.77" y2="446.00" stroke="#222" stroke-width="1.1" />
<line x1="401.20" y1="441.50" x2="401.20" y2="446.00" stroke="#222" stroke-width="1.1" />
<text transform="translate(259.90,390.70) rotate(-90)" font-size="11.5" text-anchor="middle" font-weight="normal" fill="#1a1a1a" >Viability (RFU)</text>
<text x="363.50" y="347.10" font-size="11.4" text-anchor="middle" font-weight="normal" fill="#1a1a1a" >MOLM13</text>
<text x="363.50" y="359.10" font-size="11.4" text-anchor="middle" font-weight="normal" fill="#1a1a1a" >CI=0.29</text>
<line x1="319.21" y1="356.80" x2="319.21" y2="361.40" stroke="#5a5a5a" stroke-width="0.9" />
<line x1="316.61" y1="356.80" x2="321.81" y2="356.80" stroke="#5a5a5a" stroke-width="0.9" />
<line x1="316.61" y1="361.40" x2="321.81" y2="361.40" stroke="#5a5a5a" stroke-width="0.9" />
<line x1="342.64" y1="410.00" x2="342.64" y2="418.60" stroke="#5a5a5a" stroke-width="0.9" />
<line x1="340.04" y1="410.00" x2="345.24" y2="410.00" stroke="#5a5a5a" stroke-width="0.9" />
<line x1="340.04" y1="418.60" x2="345.24" y2="418.60" stroke="#5a5a5a" stroke-width="0.9" />
<line x1="389.49" y1="425.00" x2="389.49" y2="432.00" stroke="#5a5a5a" stroke-width="0.9" />
<line x1="386.89" y1="425.00" x2="392.09" y2="425.00" stroke="#5a5a5a" stroke-width="0.9" />
<line x1="386.89" y1="432.00" x2="392.09" y2="432.00" stroke="#5a5a5a" stroke-width="0.9" />
<polyline points="319.21,359.10 342.64,412.80 366.06,424.20 389.49,430.70" fill="none" stroke="#4472C4" stroke-width="2.8" stroke-linejoin="round" stroke-linecap="butt" />
<polyline points="319.21,359.10 342.64,416.00 366.06,420.90 389.49,427.40" fill="none" stroke="#ED7D31" stroke-width="2.8" stroke-linejoin="round" stroke-linecap="butt" />
<polyline points="319.21,359.10 342.64,430.70 366.06,432.90 389.49,432.90" fill="none" stroke="#A5A5A5" stroke-width="2.8" stroke-linejoin="round" stroke-linecap="butt" />
<line x1="387.60" y1="372.70" x2="404.70" y2="372.70" stroke="#ED7D31" stroke-width="2.8" />
<text x="407.30" y="376.70" font-size="11.5" text-anchor="start" font-weight="normal" fill="#1a1a1a" >Nutlin-3</text>
<line x1="387.60" y1="390.90" x2="404.70" y2="390.90" stroke="#4472C4" stroke-width="2.8" />
<text x="407.30" y="394.90" font-size="11.5" text-anchor="start" font-weight="normal" fill="#1a1a1a" >CPI203</text>
<line x1="387.60" y1="408.40" x2="404.70" y2="408.40" stroke="#A5A5A5" stroke-width="2.8" />
<text x="407.30" y="412.40" font-size="11.5" text-anchor="start" font-weight="normal" fill="#1a1a1a" >Combo</text>
<text x="228.40" y="457.20" font-size="11.5" text-anchor="start" font-weight="normal" fill="#1a1a1a" >Nutlin-3 (µM)</text>
<text x="228.40" y="477.40" font-size="11.5" text-anchor="start" font-weight="normal" fill="#1a1a1a" >CPI203 (nM)</text>
<text transform="translate(323.31,447.30) rotate(-90)" font-size="11.3" text-anchor="end" font-weight="normal" fill="#1a1a1a" >0</text>
<text transform="translate(323.31,469.30) rotate(-90)" font-size="11.3" text-anchor="end" font-weight="normal" fill="#1a1a1a" >0</text>
<text transform="translate(346.74,447.30) rotate(-90)" font-size="11.3" text-anchor="end" font-weight="normal" fill="#1a1a1a" >2.5</text>
<text transform="translate(346.74,469.30) rotate(-90)" font-size="11.3" text-anchor="end" font-weight="normal" fill="#1a1a1a" >200</text>
<text transform="translate(370.16,447.30) rotate(-90)" font-size="11.3" text-anchor="end" font-weight="normal" fill="#1a1a1a" >5</text>
<text transform="translate(370.16,469.30) rotate(-90)" font-size="11.3" text-anchor="end" font-weight="normal" fill="#1a1a1a" >400</text>
<text transform="translate(393.59,447.30) rotate(-90)" font-size="11.3" text-anchor="end" font-weight="normal" fill="#1a1a1a" >10</text>
<text transform="translate(393.59,469.30) rotate(-90)" font-size="11.3" text-anchor="end" font-weight="normal" fill="#1a1a1a" >800</text>
<text x="454.58" y="344.60" font-size="23.4" text-anchor="start" font-weight="bold" fill="#000" >H</text>
<line x1="530.20" y1="353.10" x2="530.20" y2="444.10" stroke="#222" stroke-width="1.3" />
<line x1="526.70" y1="443.60" x2="530.20" y2="443.60" stroke="#222" stroke-width="1.1" />
<text x="520.30" y="447.60" font-size="11.3" text-anchor="end" font-weight="normal" fill="#1a1a1a" >0</text>
<line x1="526.70" y1="421.10" x2="530.20" y2="421.10" stroke="#222" stroke-width="1.1" />
<text x="520.30" y="425.10" font-size="11.3" text-anchor="end" font-weight="normal" fill="#1a1a1a" >500</text>
<line x1="526.70" y1="398.60" x2="530.20" y2="398.60" stroke="#222" stroke-width="1.1" />
<text x="520.30" y="402.60" font-size="11.3" text-anchor="end" font-weight="normal" fill="#1a1a1a" >1000</text>
<line x1="526.70" y1="376.10" x2="530.20" y2="376.10" stroke="#222" stroke-width="1.1" />
<text x="520.30" y="380.10" font-size="11.3" text-anchor="end" font-weight="normal" fill="#1a1a1a" >1500</text>
<line x1="526.70" y1="353.60" x2="530.20" y2="353.60" stroke="#222" stroke-width="1.1" />
<text x="520.30" y="357.60" font-size="11.3" text-anchor="end" font-weight="normal" fill="#1a1a1a" >2000</text>
<line x1="530.20" y1="443.60" x2="627.10" y2="443.60" stroke="#222" stroke-width="1.3" />
<line x1="530.20" y1="443.60" x2="530.20" y2="448.10" stroke="#222" stroke-width="1.1" />
<line x1="554.43" y1="443.60" x2="554.43" y2="448.10" stroke="#222" stroke-width="1.1" />
<line x1="578.65" y1="443.60" x2="578.65" y2="448.10" stroke="#222" stroke-width="1.1" />
<line x1="602.88" y1="443.60" x2="602.88" y2="448.10" stroke="#222" stroke-width="1.1" />
<line x1="627.10" y1="443.60" x2="627.10" y2="448.10" stroke="#222" stroke-width="1.1" />
<text transform="translate(487.80,397.30) rotate(-90)" font-size="11.5" text-anchor="middle" font-weight="normal" fill="#1a1a1a" >Viability (RFU)</text>
<text x="584.60" y="346.80" font-size="11.4" text-anchor="middle" font-weight="normal" fill="#1a1a1a" >KG1a</text>
<text x="584.60" y="359.20" font-size="11.4" text-anchor="middle" font-weight="normal" fill="#1a1a1a" >CI&gt;1</text>
<line x1="542.31" y1="365.30" x2="542.31" y2="370.20" stroke="#5a5a5a" stroke-width="0.9" />
<line x1="539.71" y1="365.30" x2="544.91" y2="365.30" stroke="#5a5a5a" stroke-width="0.9" />
<line x1="539.71" y1="370.20" x2="544.91" y2="370.20" stroke="#5a5a5a" stroke-width="0.9" />
<line x1="566.54" y1="374.80" x2="566.54" y2="384.90" stroke="#5a5a5a" stroke-width="0.9" />
<line x1="563.94" y1="374.80" x2="569.14" y2="374.80" stroke="#5a5a5a" stroke-width="0.9" />
<line x1="563.94" y1="384.90" x2="569.14" y2="384.90" stroke="#5a5a5a" stroke-width="0.9" />
<line x1="590.76" y1="373.70" x2="590.76" y2="383.30" stroke="#5a5a5a" stroke-width="0.9" />
<line x1="588.16" y1="373.70" x2="593.36" y2="373.70" stroke="#5a5a5a" stroke-width="0.9" />
<line x1="588.16" y1="383.30" x2="593.36" y2="383.30" stroke="#5a5a5a" stroke-width="0.9" />
<line x1="614.99" y1="369.20" x2="614.99" y2="380.20" stroke="#5a5a5a" stroke-width="0.9" />
<line x1="612.39" y1="369.20" x2="617.59" y2="369.20" stroke="#5a5a5a" stroke-width="0.9" />
<line x1="612.39" y1="380.20" x2="617.59" y2="380.20" stroke="#5a5a5a" stroke-width="0.9" />
<line x1="566.54" y1="406.50" x2="566.54" y2="412.50" stroke="#5a5a5a" stroke-width="0.9" />
<line x1="563.94" y1="406.50" x2="569.14" y2="406.50" stroke="#5a5a5a" stroke-width="0.9" />
<line x1="563.94" y1="412.50" x2="569.14" y2="412.50" stroke="#5a5a5a" stroke-width="0.9" />
<polyline points="542.31,367.40 566.54,408.30 590.76,416.40 614.99,419.20" fill="none" stroke="#4472C4" stroke-width="2.8" stroke-linejoin="round" stroke-linecap="butt" />
<polyline points="542.31,367.40 566.54,379.50 590.76,378.40 614.99,374.40" fill="none" stroke="#ED7D31" stroke-width="2.8" stroke-linejoin="round" stroke-linecap="butt" />
<polyline points="542.31,367.40 566.54,409.40 590.76,422.30 614.99,424.60" fill="none" stroke="#A5A5A5" stroke-width="2.8" stroke-linejoin="round" stroke-linecap="butt" />
<line x1="623.10" y1="372.50" x2="641.10" y2="372.50" stroke="#ED7D31" stroke-width="2.8" />
<text x="643.70" y="376.50" font-size="11.5" text-anchor="start" font-weight="normal" fill="#1a1a1a" >Nutlin-3</text>
<line x1="623.10" y1="390.70" x2="641.10" y2="390.70" stroke="#4472C4" stroke-width="2.8" />
<text x="643.70" y="394.70" font-size="11.5" text-anchor="start" font-weight="normal" fill="#1a1a1a" >CPI203</text>
<line x1="623.10" y1="408.30" x2="641.10" y2="408.30" stroke="#A5A5A5" stroke-width="2.8" />
<text x="643.70" y="412.30" font-size="11.5" text-anchor="start" font-weight="normal" fill="#1a1a1a" >Combo</text>
<text x="453.80" y="459.30" font-size="11.5" text-anchor="start" font-weight="normal" fill="#1a1a1a" >Nutlin-3 (µM)</text>
<text x="453.80" y="479.50" font-size="11.5" text-anchor="start" font-weight="normal" fill="#1a1a1a" >CPI203 (nM)</text>
<text transform="translate(546.41,449.40) rotate(-90)" font-size="11.3" text-anchor="end" font-weight="normal" fill="#1a1a1a" >0</text>
<text transform="translate(546.41,471.40) rotate(-90)" font-size="11.3" text-anchor="end" font-weight="normal" fill="#1a1a1a" >0</text>
<text transform="translate(570.64,449.40) rotate(-90)" font-size="11.3" text-anchor="end" font-weight="normal" fill="#1a1a1a" >2.5</text>
<text transform="translate(570.64,471.40) rotate(-90)" font-size="11.3" text-anchor="end" font-weight="normal" fill="#1a1a1a" >200</text>
<text transform="translate(594.86,449.40) rotate(-90)" font-size="11.3" text-anchor="end" font-weight="normal" fill="#1a1a1a" >5</text>
<text transform="translate(594.86,471.40) rotate(-90)" font-size="11.3" text-anchor="end" font-weight="normal" fill="#1a1a1a" >400</text>
<text transform="translate(619.09,449.40) rotate(-90)" font-size="11.3" text-anchor="end" font-weight="normal" fill="#1a1a1a" >10</text>
<text transform="translate(619.09,471.40) rotate(-90)" font-size="11.3" text-anchor="end" font-weight="normal" fill="#1a1a1a" >800</text>
<text x="-0.22" y="528.60" font-size="23.4" text-anchor="start" font-weight="bold" fill="#000" >I</text>
<line x1="82.50" y1="527.80" x2="82.50" y2="619.10" stroke="#222" stroke-width="1.3" />
<line x1="79.00" y1="618.60" x2="82.50" y2="618.60" stroke="#222" stroke-width="1.1" />
<text x="71.50" y="622.60" font-size="11.3" text-anchor="end" font-weight="normal" fill="#1a1a1a" >0</text>
<line x1="79.00" y1="596.02" x2="82.50" y2="596.02" stroke="#222" stroke-width="1.1" />
<text x="71.50" y="600.02" font-size="11.3" text-anchor="end" font-weight="normal" fill="#1a1a1a" >1000</text>
<line x1="79.00" y1="573.45" x2="82.50" y2="573.45" stroke="#222" stroke-width="1.1" />
<text x="71.50" y="577.45" font-size="11.3" text-anchor="end" font-weight="normal" fill="#1a1a1a" >2000</text>
<line x1="79.00" y1="550.88" x2="82.50" y2="550.88" stroke="#222" stroke-width="1.1" />
<text x="71.50" y="554.88" font-size="11.3" text-anchor="end" font-weight="normal" fill="#1a1a1a" >3000</text>
<line x1="79.00" y1="528.30" x2="82.50" y2="528.30" stroke="#222" stroke-width="1.1" />
<text x="71.50" y="532.30" font-size="11.3" text-anchor="end" font-weight="normal" fill="#1a1a1a" >4000</text>
<line x1="82.50" y1="618.60" x2="178.40" y2="618.60" stroke="#222" stroke-width="1.3" />
<line x1="82.50" y1="618.60" x2="82.50" y2="623.10" stroke="#222" stroke-width="1.1" />
<line x1="106.47" y1="618.60" x2="106.47" y2="623.10" stroke="#222" stroke-width="1.1" />
<line x1="130.45" y1="618.60" x2="130.45" y2="623.10" stroke="#222" stroke-width="1.1" />
<line x1="154.43" y1="618.60" x2="154.43" y2="623.10" stroke="#222" stroke-width="1.1" />
<line x1="178.40" y1="618.60" x2="178.40" y2="623.10" stroke="#222" stroke-width="1.1" />
<text transform="translate(35.80,568.40) rotate(-90)" font-size="11.5" text-anchor="middle" font-weight="normal" fill="#1a1a1a" >Viability (RFU)</text>
<text x="132.90" y="517.10" font-size="11.4" text-anchor="middle" font-weight="normal" fill="#1a1a1a" >THP1</text>
<text x="132.90" y="529.10" font-size="11.4" text-anchor="middle" font-weight="normal" fill="#1a1a1a" >CI&gt;1</text>
<line x1="94.49" y1="538.60" x2="94.49" y2="541.60" stroke="#5a5a5a" stroke-width="0.9" />
<line x1="91.89" y1="538.60" x2="97.09" y2="538.60" stroke="#5a5a5a" stroke-width="0.9" />
<line x1="91.89" y1="541.60" x2="97.09" y2="541.60" stroke="#5a5a5a" stroke-width="0.9" />
<line x1="118.46" y1="549.80" x2="118.46" y2="562.20" stroke="#5a5a5a" stroke-width="0.9" />
<line x1="115.86" y1="549.80" x2="121.06" y2="549.80" stroke="#5a5a5a" stroke-width="0.9" />
<line x1="115.86" y1="562.20" x2="121.06" y2="562.20" stroke="#5a5a5a" stroke-width="0.9" />
<line x1="142.44" y1="545.20" x2="142.44" y2="556.40" stroke="#5a5a5a" stroke-width="0.9" />
<line x1="139.84" y1="545.20" x2="145.04" y2="545.20" stroke="#5a5a5a" stroke-width="0.9" />
<line x1="139.84" y1="556.40" x2="145.04" y2="556.40" stroke="#5a5a5a" stroke-width="0.9" />
<line x1="166.41" y1="547.50" x2="166.41" y2="561.10" stroke="#5a5a5a" stroke-width="0.9" />
<line x1="163.81" y1="547.50" x2="169.01" y2="547.50" stroke="#5a5a5a" stroke-width="0.9" />
<line x1="163.81" y1="561.10" x2="169.01" y2="561.10" stroke="#5a5a5a" stroke-width="0.9" />
<line x1="166.41" y1="589.80" x2="166.41" y2="595.20" stroke="#5a5a5a" stroke-width="0.9" />
<line x1="163.81" y1="589.80" x2="169.01" y2="589.80" stroke="#5a5a5a" stroke-width="0.9" />
<line x1="163.81" y1="595.20" x2="169.01" y2="595.20" stroke="#5a5a5a" stroke-width="0.9" />
<line x1="142.44" y1="582.80" x2="142.44" y2="587.20" stroke="#5a5a5a" stroke-width="0.9" />
<line x1="139.84" y1="582.80" x2="145.04" y2="582.80" stroke="#5a5a5a" stroke-width="0.9" />
<line x1="139.84" y1="587.20" x2="145.04" y2="587.20" stroke="#5a5a5a" stroke-width="0.9" />
<polyline points="94.49,540.00 118.46,573.40 142.44,584.00 166.41,583.30" fill="none" stroke="#4472C4" stroke-width="2.8" stroke-linejoin="round" stroke-linecap="butt" />
<polyline points="94.49,540.00 118.46,555.90 142.44,551.00 166.41,554.10" fill="none" stroke="#ED7D31" stroke-width="2.8" stroke-linejoin="round" stroke-linecap="butt" />
<polyline points="94.49,540.00 118.46,574.60 142.44,585.10 166.41,592.60" fill="none" stroke="#A5A5A5" stroke-width="2.8" stroke-linejoin="round" stroke-linecap="butt" />
<line x1="176.10" y1="554.10" x2="193.60" y2="554.10" stroke="#ED7D31" stroke-width="2.8" />
<text x="197.10" y="558.10" font-size="11.5" text-anchor="start" font-weight="normal" fill="#1a1a1a" >Nutlin-3</text>
<line x1="176.10" y1="572.70" x2="193.60" y2="572.70" stroke="#4472C4" stroke-width="2.8" />
<text x="197.10" y="576.70" font-size="11.5" text-anchor="start" font-weight="normal" fill="#1a1a1a" >CPI203</text>
<line x1="176.10" y1="591.00" x2="193.60" y2="591.00" stroke="#A5A5A5" stroke-width="2.8" />
<text x="197.10" y="595.00" font-size="11.5" text-anchor="start" font-weight="normal" fill="#1a1a1a" >Combo</text>
<text x="6.70" y="636.00" font-size="11.5" text-anchor="start" font-weight="normal" fill="#1a1a1a" >Nutlin-3 (µM)</text>
<text x="6.70" y="656.20" font-size="11.5" text-anchor="start" font-weight="normal" fill="#1a1a1a" >CPI203 (nM)</text>
<text transform="translate(98.59,624.40) rotate(-90)" font-size="11.3" text-anchor="end" font-weight="normal" fill="#1a1a1a" >0</text>
<text transform="translate(98.59,646.40) rotate(-90)" font-size="11.3" text-anchor="end" font-weight="normal" fill="#1a1a1a" >0</text>
<text transform="translate(122.56,624.40) rotate(-90)" font-size="11.3" text-anchor="end" font-weight="normal" fill="#1a1a1a" >2.5</text>
<text transform="translate(122.56,646.40) rotate(-90)" font-size="11.3" text-anchor="end" font-weight="normal" fill="#1a1a1a" >200</text>
<text transform="translate(146.54,624.40) rotate(-90)" font-size="11.3" text-anchor="end" font-weight="normal" fill="#1a1a1a" >5</text>
<text transform="translate(146.54,646.40) rotate(-90)" font-size="11.3" text-anchor="end" font-weight="normal" fill="#1a1a1a" >400</text>
<text transform="translate(170.51,624.40) rotate(-90)" font-size="11.3" text-anchor="end" font-weight="normal" fill="#1a1a1a" >10</text>
<text transform="translate(170.51,646.40) rotate(-90)" font-size="11.3" text-anchor="end" font-weight="normal" fill="#1a1a1a" >800</text>
<text x="235.80" y="528.97" font-size="23.4" text-anchor="start" font-weight="bold" fill="#000" >J</text>
<line x1="308.50" y1="525.90" x2="308.50" y2="619.50" stroke="#222" stroke-width="1.3" />
<line x1="305.00" y1="619.00" x2="308.50" y2="619.00" stroke="#222" stroke-width="1.1" />
<text x="297.70" y="623.00" font-size="11.3" text-anchor="end" font-weight="normal" fill="#1a1a1a" >0</text>
<line x1="305.00" y1="595.85" x2="308.50" y2="595.85" stroke="#222" stroke-width="1.1" />
<text x="297.70" y="599.85" font-size="11.3" text-anchor="end" font-weight="normal" fill="#1a1a1a" >300</text>
<line x1="305.00" y1="572.70" x2="308.50" y2="572.70" stroke="#222" stroke-width="1.1" />
<text x="297.70" y="576.70" font-size="11.3" text-anchor="end" font-weight="normal" fill="#1a1a1a" >600</text>
<line x1="305.00" y1="549.55" x2="308.50" y2="549.55" stroke="#222" stroke-width="1.1" />
<text x="297.70" y="553.55" font-size="11.3" text-anchor="end" font-weight="normal" fill="#1a1a1a" >900</text>
<line x1="305.00" y1="526.40" x2="308.50" y2="526.40" stroke="#222" stroke-width="1.1" />
<text x="297.70" y="530.40" font-size="11.3" text-anchor="end" font-weight="normal" fill="#1a1a1a" >1200</text>
<line x1="308.50" y1="619.00" x2="406.70" y2="619.00" stroke="#222" stroke-width="1.3" />
<line x1="308.50" y1="619.00" x2="308.50" y2="623.50" stroke="#222" stroke-width="1.1" />
<line x1="333.05" y1="619.00" x2="333.05" y2="623.50" stroke="#222" stroke-width="1.1" />
<line x1="357.60" y1="619.00" x2="357.60" y2="623.50" stroke="#222" stroke-width="1.1" />
<line x1="382.15" y1="619.00" x2="382.15" y2="623.50" stroke="#222" stroke-width="1.1" />
<line x1="406.70" y1="619.00" x2="406.70" y2="623.50" stroke="#222" stroke-width="1.1" />
<text transform="translate(272.10,572.50) rotate(-90)" font-size="11.5" text-anchor="middle" font-weight="normal" fill="#1a1a1a" >Viability (RFU)</text>
<text x="364.90" y="517.10" font-size="11.4" text-anchor="middle" font-weight="normal" fill="#1a1a1a" >KASUMI-1</text>
<text x="364.90" y="529.10" font-size="11.4" text-anchor="middle" font-weight="normal" fill="#1a1a1a" >CI&gt;1</text>
<line x1="320.77" y1="540.00" x2="320.77" y2="543.80" stroke="#5a5a5a" stroke-width="0.9" />
<line x1="318.17" y1="540.00" x2="323.38" y2="540.00" stroke="#5a5a5a" stroke-width="0.9" />
<line x1="318.17" y1="543.80" x2="323.38" y2="543.80" stroke="#5a5a5a" stroke-width="0.9" />
<line x1="345.32" y1="537.60" x2="345.32" y2="543.60" stroke="#5a5a5a" stroke-width="0.9" />
<line x1="342.72" y1="537.60" x2="347.93" y2="537.60" stroke="#5a5a5a" stroke-width="0.9" />
<line x1="342.72" y1="543.60" x2="347.93" y2="543.60" stroke="#5a5a5a" stroke-width="0.9" />
<line x1="369.88" y1="538.40" x2="369.88" y2="547.20" stroke="#5a5a5a" stroke-width="0.9" />
<line x1="367.27" y1="538.40" x2="372.48" y2="538.40" stroke="#5a5a5a" stroke-width="0.9" />
<line x1="367.27" y1="547.20" x2="372.48" y2="547.20" stroke="#5a5a5a" stroke-width="0.9" />
<line x1="394.42" y1="539.20" x2="394.42" y2="549.20" stroke="#5a5a5a" stroke-width="0.9" />
<line x1="391.82" y1="539.20" x2="397.02" y2="539.20" stroke="#5a5a5a" stroke-width="0.9" />
<line x1="391.82" y1="549.20" x2="397.02" y2="549.20" stroke="#5a5a5a" stroke-width="0.9" />
<line x1="345.32" y1="599.60" x2="345.32" y2="607.00" stroke="#5a5a5a" stroke-width="0.9" />
<line x1="342.72" y1="599.60" x2="347.93" y2="599.60" stroke="#5a5a5a" stroke-width="0.9" />
<line x1="342.72" y1="607.00" x2="347.93" y2="607.00" stroke="#5a5a5a" stroke-width="0.9" />
<polyline points="320.77,541.90 345.32,600.80 369.88,607.30 394.42,607.80" fill="none" stroke="#4472C4" stroke-width="2.8" stroke-linejoin="round" stroke-linecap="butt" />
<polyline points="320.77,541.90 345.32,540.50 369.88,542.80 394.42,544.20" fill="none" stroke="#ED7D31" stroke-width="2.8" stroke-linejoin="round" stroke-linecap="butt" />
<polyline points="320.77,541.90 345.32,603.10 369.88,607.80 394.42,610.10" fill="none" stroke="#A5A5A5" stroke-width="2.8" stroke-linejoin="round" stroke-linecap="butt" />
<line x1="390.60" y1="558.30" x2="407.50" y2="558.30" stroke="#ED7D31" stroke-width="2.8" />
<text x="409.80" y="562.30" font-size="11.5" text-anchor="start" font-weight="normal" fill="#1a1a1a" >Nutlin-3</text>
<line x1="390.60" y1="573.90" x2="407.50" y2="573.90" stroke="#4472C4" stroke-width="2.8" />
<text x="409.80" y="577.90" font-size="11.5" text-anchor="start" font-weight="normal" fill="#1a1a1a" >CPI203</text>
<line x1="390.60" y1="589.60" x2="407.50" y2="589.60" stroke="#A5A5A5" stroke-width="2.8" />
<text x="409.80" y="593.60" font-size="11.5" text-anchor="start" font-weight="normal" fill="#1a1a1a" >Combo</text>
<text x="234.30" y="634.70" font-size="11.5" text-anchor="start" font-weight="normal" fill="#1a1a1a" >Nutlin-3 (µM)</text>
<text x="234.30" y="654.90" font-size="11.5" text-anchor="start" font-weight="normal" fill="#1a1a1a" >CPI203 (nM)</text>
<text transform="translate(324.88,624.80) rotate(-90)" font-size="11.3" text-anchor="end" font-weight="normal" fill="#1a1a1a" >0</text>
<text transform="translate(324.88,646.80) rotate(-90)" font-size="11.3" text-anchor="end" font-weight="normal" fill="#1a1a1a" >0</text>
<text transform="translate(349.43,624.80) rotate(-90)" font-size="11.3" text-anchor="end" font-weight="normal" fill="#1a1a1a" >2.5</text>
<text transform="translate(349.43,646.80) rotate(-90)" font-size="11.3" text-anchor="end" font-weight="normal" fill="#1a1a1a" >200</text>
<text transform="translate(373.98,624.80) rotate(-90)" font-size="11.3" text-anchor="end" font-weight="normal" fill="#1a1a1a" >5</text>
<text transform="translate(373.98,646.80) rotate(-90)" font-size="11.3" text-anchor="end" font-weight="normal" fill="#1a1a1a" >400</text>
<text transform="translate(398.52,624.80) rotate(-90)" font-size="11.3" text-anchor="end" font-weight="normal" fill="#1a1a1a" >10</text>
<text transform="translate(398.52,646.80) rotate(-90)" font-size="11.3" text-anchor="end" font-weight="normal" fill="#1a1a1a" >800</text>
<text x="467.88" y="529.90" font-size="23.4" text-anchor="start" font-weight="bold" fill="#000" >K</text>
<text transform="translate(517.60,583.60) rotate(-49)" font-size="11.8" text-anchor="start" font-weight="normal" fill="#1a1a1a" >Vehicle</text>
<text transform="translate(539.00,583.60) rotate(-49)" font-size="11.8" text-anchor="start" font-weight="normal" fill="#1a1a1a" >CPI203 200nM</text>
<text transform="translate(556.60,585.60) rotate(-49)" font-size="11.8" text-anchor="start" font-weight="normal" fill="#1a1a1a" >Nutlin-3 2.5µM</text>
<text transform="translate(575.40,583.60) rotate(-49)" font-size="11.8" text-anchor="start" font-weight="normal" fill="#1a1a1a" >Combo</text>
<rect x="508.20" y="584.90" width="78.40" height="29.60" fill="#b6b6b6"/>
<rect x="510.50" y="590.70" width="15.00" height="5.00" rx="4.00" ry="2.50" fill="#262626" filter="url(#bl10)" transform="rotate(0 518.00 593.20)"/>
<rect x="529.00" y="592.30" width="14.00" height="3.80" rx="3.04" ry="1.90" fill="#3e3e3e" filter="url(#bl10)" transform="rotate(0 536.00 594.20)"/>
<rect x="547.95" y="592.20" width="14.50" height="4.40" rx="3.52" ry="2.20" fill="#2a2a2a" filter="url(#bl10)" transform="rotate(0 555.20 594.40)"/>
<rect x="567.90" y="593.90" width="12.00" height="3.00" rx="2.40" ry="1.50" fill="#707070" filter="url(#bl10)" transform="rotate(0 573.90 595.40)"/>
<rect x="511.00" y="597.60" width="14.00" height="2.40" rx="1.92" ry="1.20" fill="#9a9a9a" filter="url(#bl10)" transform="rotate(0 518.00 598.80)"/>
<rect x="511.50" y="603.90" width="13.00" height="2.60" rx="2.08" ry="1.30" fill="#8c8c8c" filter="url(#bl10)" transform="rotate(0 518.00 605.20)"/>
<rect x="529.50" y="604.80" width="13.00" height="3.20" rx="2.56" ry="1.60" fill="#555" filter="url(#bl10)" transform="rotate(0 536.00 606.40)"/>
<rect x="550.70" y="604.60" width="9.00" height="2.40" rx="1.92" ry="1.20" fill="#8e8e8e" filter="url(#bl10)" transform="rotate(0 555.20 605.80)"/>
<rect x="567.00" y="605.30" width="15.00" height="4.60" rx="3.68" ry="2.30" fill="#6a6a6a" filter="url(#bl13)" transform="rotate(0 574.50 607.60)"/>
<rect x="565.80" y="603.90" width="8.00" height="4.20" rx="3.36" ry="2.10" fill="#262626" filter="url(#bl9)" transform="rotate(-28 569.80 606.00)"/>
<rect x="572.60" y="602.90" width="10.00" height="4.20" rx="3.36" ry="2.10" fill="#2a2a2a" filter="url(#bl9)" transform="rotate(14 577.60 605.00)"/>
<rect x="508.85" y="585.55" width="77.10" height="28.30" fill="none" stroke="#1e1e1e" stroke-width="1.3"/>
<rect x="508.20" y="618.20" width="78.40" height="24.40" fill="#b4b4b4"/>
<rect x="510.50" y="629.60" width="15.00" height="4.80" rx="3.84" ry="2.40" fill="#1a1a1a" filter="url(#bl10)" transform="rotate(-10 518.00 632.00)"/>
<rect x="529.00" y="630.10" width="14.00" height="3.40" rx="2.72" ry="1.70" fill="#444" filter="url(#bl10)" transform="rotate(0 536.00 631.80)"/>
<rect x="547.70" y="629.20" width="15.00" height="4.00" rx="3.20" ry="2.00" fill="#2e2e2e" filter="url(#bl10)" transform="rotate(0 555.20 631.20)"/>
<rect x="566.90" y="629.60" width="14.00" height="3.60" rx="2.88" ry="1.80" fill="#3e3e3e" filter="url(#bl10)" transform="rotate(0 573.90 631.40)"/>
<rect x="508.85" y="618.85" width="77.10" height="23.10" fill="none" stroke="#1e1e1e" stroke-width="1.3"/>
<text x="502.80" y="605.70" font-size="11.5" text-anchor="end" font-weight="normal" fill="#1a1a1a" >PARP</text>
<text x="504.90" y="632.00" font-size="11.5" text-anchor="end" font-weight="normal" fill="#1a1a1a" >β-actin</text>
<line x1="588.40" y1="596.40" x2="593.60" y2="596.40" stroke="#1a1a1a" stroke-width="1.1" />
<text x="595.00" y="599.90" font-size="10.0" text-anchor="start" font-weight="normal" fill="#1a1a1a" textLength="34.6" lengthAdjust="spacingAndGlyphs" >116kDa</text>
<line x1="630.40" y1="596.40" x2="635.20" y2="596.40" stroke="#1a1a1a" stroke-width="1.1" />
<text x="636.00" y="599.90" font-size="10.0" text-anchor="start" font-weight="normal" fill="#1a1a1a" textLength="46.6" lengthAdjust="spacingAndGlyphs" >Full length</text>
<line x1="588.40" y1="606.40" x2="593.60" y2="606.40" stroke="#1a1a1a" stroke-width="1.1" />
<text x="594.60" y="611.50" font-size="10.0" text-anchor="start" font-weight="normal" fill="#1a1a1a" textLength="29.1" lengthAdjust="spacingAndGlyphs" >89kDa</text>
<line x1="625.20" y1="606.20" x2="629.80" y2="606.20" stroke="#1a1a1a" stroke-width="1.1" />
<text x="632.10" y="611.50" font-size="10.0" text-anchor="start" font-weight="normal" fill="#1a1a1a" textLength="36.8" lengthAdjust="spacingAndGlyphs" >Cleaved</text>
<line x1="588.40" y1="631.00" x2="593.60" y2="631.00" stroke="#1a1a1a" stroke-width="1.1" />
<text x="594.60" y="634.80" font-size="10.0" text-anchor="start" font-weight="normal" fill="#1a1a1a" textLength="29.9" lengthAdjust="spacingAndGlyphs" >42kDa</text>
<text x="-0.42" y="693.80" font-size="23.4" text-anchor="start" font-weight="bold" fill="#000" >L</text>
<text transform="translate(63.60,722.80) rotate(-50)" font-size="11.8" text-anchor="start" font-weight="normal" fill="#1a1a1a" >EV</text>
<text transform="translate(92.40,722.80) rotate(-50)" font-size="11.8" text-anchor="start" font-weight="normal" fill="#1a1a1a" >shp53 scr</text>
<text transform="translate(129.00,722.60) rotate(-50)" font-size="11.8" text-anchor="start" font-weight="normal" fill="#1a1a1a" >shp53</text>
<rect x="41.40" y="724.10" width="97.00" height="26.70" fill="#a8a8a8"/>
<rect x="50.95" y="735.00" width="18.50" height="5.20" rx="4.16" ry="2.60" fill="#2a2a2a" filter="url(#bl10)" transform="rotate(0 60.20 737.60)"/>
<rect x="77.75" y="734.80" width="18.50" height="5.20" rx="4.16" ry="2.60" fill="#2a2a2a" filter="url(#bl10)" transform="rotate(0 87.00 737.40)"/>
<rect x="105.50" y="736.60" width="14.00" height="2.40" rx="1.92" ry="1.20" fill="#9a9a9a" filter="url(#bl12)" transform="rotate(0 112.50 737.80)"/>
<rect x="42.05" y="724.75" width="95.70" height="25.40" fill="none" stroke="#1e1e1e" stroke-width="1.3"/>
<rect x="41.40" y="754.10" width="97.00" height="25.50" fill="#a9a9a9"/>
<rect x="51.70" y="765.90" width="18.00" height="3.00" rx="2.40" ry="1.50" fill="#1e1e1e" filter="url(#bl9)" transform="rotate(0 60.70 767.40)"/>
<rect x="78.30" y="765.90" width="18.00" height="3.00" rx="2.40" ry="1.50" fill="#222" filter="url(#bl9)" transform="rotate(0 87.30 767.40)"/>
<rect x="103.50" y="766.10" width="18.00" height="3.00" rx="2.40" ry="1.50" fill="#252525" filter="url(#bl9)" transform="rotate(0 112.50 767.60)"/>
<rect x="42.05" y="754.75" width="95.70" height="24.20" fill="none" stroke="#1e1e1e" stroke-width="1.3"/>
<text x="37.60" y="741.70" font-size="11.5" text-anchor="end" font-weight="normal" fill="#1a1a1a" >p53</text>
<text x="37.60" y="769.00" font-size="11.5" text-anchor="end" font-weight="normal" fill="#1a1a1a" >β-actin</text>
<line x1="140.00" y1="736.40" x2="143.60" y2="736.40" stroke="#1a1a1a" stroke-width="1.1" />
<text x="145.00" y="739.80" font-size="10.8" text-anchor="start" font-weight="normal" fill="#1a1a1a" >53kDa</text>
<line x1="140.00" y1="767.20" x2="143.60" y2="767.20" stroke="#1a1a1a" stroke-width="1.1" />
<text x="145.00" y="770.60" font-size="10.8" text-anchor="start" font-weight="normal" fill="#1a1a1a" >42kDa</text>
<text x="-0.22" y="802.90" font-size="23.4" text-anchor="start" font-weight="bold" fill="#000" >N</text>
<text x="104.10" y="796.90" font-size="11.5" text-anchor="start" font-weight="normal" fill="#1a1a1a" textLength="26.9" lengthAdjust="spacingAndGlyphs" >+Dox</text>
<line x1="104.10" y1="799.80" x2="132.10" y2="799.80" stroke="#1a1a1a" stroke-width="1.3" />
<text transform="translate(51.60,841.60) rotate(-50)" font-size="11.7" text-anchor="start" font-weight="normal" fill="#1a1a1a" >shCon</text>
<text transform="translate(72.60,841.10) rotate(-50)" font-size="11.7" text-anchor="start" font-weight="normal" fill="#1a1a1a" >shBRD4</text>
<text transform="translate(92.80,839.80) rotate(-50)" font-size="11.7" text-anchor="start" font-weight="normal" fill="#1a1a1a" >shCon</text>
<text transform="translate(111.90,839.40) rotate(-50)" font-size="11.7" text-anchor="start" font-weight="normal" fill="#1a1a1a" >shBRD4</text>
<rect x="44.60" y="841.10" width="76.80" height="22.50" fill="#bbbbbb"/>
<rect x="49.00" y="849.10" width="14.00" height="4.40" rx="3.52" ry="2.20" fill="#111" filter="url(#bl10)" transform="rotate(0 56.00 851.30)"/>
<rect x="67.50" y="850.80" width="14.00" height="3.60" rx="2.88" ry="1.80" fill="#2e2e2e" filter="url(#bl10)" transform="rotate(0 74.50 852.60)"/>
<rect x="86.30" y="850.50" width="14.00" height="4.20" rx="3.36" ry="2.10" fill="#1a1a1a" filter="url(#bl10)" transform="rotate(0 93.30 852.60)"/>
<rect x="106.00" y="852.80" width="12.00" height="2.40" rx="1.92" ry="1.20" fill="#7a7a7a" filter="url(#bl10)" transform="rotate(0 112.00 854.00)"/>
<rect x="45.25" y="841.75" width="75.50" height="21.20" fill="none" stroke="#1e1e1e" stroke-width="1.3"/>
<rect x="44.60" y="866.40" width="76.80" height="22.50" fill="#bdbdbd"/>
<rect x="49.00" y="874.20" width="14.00" height="3.60" rx="2.88" ry="1.80" fill="#2e2e2e" filter="url(#bl10)" transform="rotate(0 56.00 876.00)"/>
<rect x="67.50" y="872.50" width="14.00" height="4.20" rx="3.36" ry="2.10" fill="#222" filter="url(#bl10)" transform="rotate(0 74.50 874.60)"/>
<rect x="86.30" y="872.30" width="14.00" height="4.60" rx="3.68" ry="2.30" fill="#151515" filter="url(#bl10)" transform="rotate(0 93.30 874.60)"/>
<rect x="106.00" y="874.40" width="12.00" height="2.40" rx="1.92" ry="1.20" fill="#9a9a9a" filter="url(#bl10)" transform="rotate(0 112.00 875.60)"/>
<rect x="67.50" y="868.50" width="14.00" height="2.00" rx="1.60" ry="1.00" fill="#a5a5a5" filter="url(#bl10)" transform="rotate(0 74.50 869.50)"/>
<rect x="86.30" y="868.50" width="14.00" height="2.00" rx="1.60" ry="1.00" fill="#9f9f9f" filter="url(#bl10)" transform="rotate(0 93.30 869.50)"/>
<rect x="45.25" y="867.05" width="75.50" height="21.20" fill="none" stroke="#1e1e1e" stroke-width="1.3"/>
<rect x="44.60" y="892.00" width="76.80" height="22.90" fill="#b9b9b9"/>
<rect x="48.50" y="901.60" width="15.00" height="4.80" rx="3.84" ry="2.40" fill="#0d0d0d" filter="url(#bl10)" transform="rotate(0 56.00 904.00)"/>
<rect x="67.50" y="902.60" width="14.00" height="4.00" rx="3.20" ry="2.00" fill="#151515" filter="url(#bl10)" transform="rotate(0 74.50 904.60)"/>
<rect x="85.80" y="902.40" width="15.00" height="4.40" rx="3.52" ry="2.20" fill="#111" filter="url(#bl10)" transform="rotate(0 93.30 904.60)"/>
<rect x="105.00" y="902.20" width="14.00" height="4.40" rx="3.52" ry="2.20" fill="#111" filter="url(#bl10)" transform="rotate(0 112.00 904.40)"/>
<rect x="45.25" y="892.65" width="75.50" height="21.60" fill="none" stroke="#1e1e1e" stroke-width="1.3"/>
<text x="40.80" y="856.90" font-size="11.5" text-anchor="end" font-weight="normal" fill="#1a1a1a" >BRD4L</text>
<text x="42.10" y="881.50" font-size="11.5" text-anchor="end" font-weight="normal" fill="#1a1a1a" >BRD4S</text>
<text x="39.50" y="907.50" font-size="11.5" text-anchor="end" font-weight="normal" fill="#1a1a1a" >β-actin</text>
<line x1="122.10" y1="853.60" x2="127.00" y2="853.60" stroke="#1a1a1a" stroke-width="1.1" />
<text x="128.50" y="857.40" font-size="11.0" text-anchor="start" font-weight="normal" fill="#1a1a1a" >250kDa</text>
<line x1="122.10" y1="878.20" x2="127.00" y2="878.20" stroke="#1a1a1a" stroke-width="1.1" />
<text x="128.50" y="882.00" font-size="11.0" text-anchor="start" font-weight="normal" fill="#1a1a1a" >100kDa</text>
<line x1="122.10" y1="904.70" x2="127.00" y2="904.70" stroke="#1a1a1a" stroke-width="1.1" />
<text x="128.50" y="908.50" font-size="11.0" text-anchor="start" font-weight="normal" fill="#1a1a1a" >42kDa</text>
<text x="178.68" y="693.60" font-size="23.4" text-anchor="start" font-weight="bold" fill="#000" >M</text>
<text transform="translate(195.30,792.00) rotate(-90)" font-size="10.8" text-anchor="middle" font-weight="normal" fill="#1a1a1a" >% Viable Cells</text>
<path d="M223.80,870.30 V717.34 H229.50 V870.30" fill="none" stroke="#4d4dff" stroke-width="1.4"/>
<path d="M230.90,870.30 V717.34 H236.90 V870.30" fill="none" stroke="#ff9a36" stroke-width="1.4"/>
<rect x="223.60" y="714.84" width="6.10" height="3.0" rx="1.5" fill="#2b2bd6"/>
<rect x="230.70" y="714.84" width="6.40" height="3.0" rx="1.5" fill="#d9780f"/>
<path d="M243.20,870.30 V790.72 H249.20 V870.30" fill="none" stroke="#4d4dff" stroke-width="1.4"/>
<path d="M250.60,870.30 V746.34 H256.10 V870.30" fill="none" stroke="#ff9a36" stroke-width="1.4"/>
<rect x="243.00" y="788.22" width="6.40" height="3.0" rx="1.5" fill="#2b2bd6"/>
<rect x="250.40" y="743.84" width="5.90" height="3.0" rx="1.5" fill="#d9780f"/>
<path d="M262.70,870.30 V725.49 H268.30 V870.30" fill="none" stroke="#4d4dff" stroke-width="1.4"/>
<path d="M269.70,870.30 V722.51 H276.10 V870.30" fill="none" stroke="#ff9a36" stroke-width="1.4"/>
<rect x="262.50" y="722.99" width="6.00" height="3.0" rx="1.5" fill="#2b2bd6"/>
<rect x="269.50" y="720.01" width="6.80" height="3.0" rx="1.5" fill="#d9780f"/>
<path d="M283.00,870.30 V853.44 H288.40 V870.30" fill="none" stroke="#4d4dff" stroke-width="1.4"/>
<path d="M289.80,870.30 V745.09 H295.10 V870.30" fill="none" stroke="#ff9a36" stroke-width="1.4"/>
<rect x="282.80" y="850.94" width="5.80" height="3.0" rx="1.5" fill="#2b2bd6"/>
<rect x="289.60" y="742.59" width="5.70" height="3.0" rx="1.5" fill="#d9780f"/>
<polygon points="270.6,722.8 272.9,718.2 275.2,722.8" fill="#d9780f"/>
<polygon points="262.8,726.2 265.0,722.2 267.2,726.2" fill="#2b2bd6"/>
<line x1="218.80" y1="712.00" x2="218.80" y2="871.00" stroke="#111" stroke-width="1.5" />
<line x1="218.10" y1="870.30" x2="300.20" y2="870.30" stroke="#111" stroke-width="1.5" />
<line x1="230.30" y1="870.30" x2="230.30" y2="873.30" stroke="#111" stroke-width="1.1" />
<line x1="250.00" y1="870.30" x2="250.00" y2="873.30" stroke="#111" stroke-width="1.1" />
<line x1="269.30" y1="870.30" x2="269.30" y2="873.30" stroke="#111" stroke-width="1.1" />
<line x1="289.10" y1="870.30" x2="289.10" y2="873.30" stroke="#111" stroke-width="1.1" />
<line x1="216.40" y1="870.30" x2="218.80" y2="870.30" stroke="#111" stroke-width="1.1" />
<text x="216.40" y="874.10" font-size="10.6" text-anchor="end" font-weight="normal" fill="#1a1a1a" >0</text>
<line x1="216.40" y1="831.10" x2="218.80" y2="831.10" stroke="#111" stroke-width="1.1" />
<text x="216.40" y="834.90" font-size="10.6" text-anchor="end" font-weight="normal" fill="#1a1a1a" >25</text>
<line x1="216.40" y1="791.90" x2="218.80" y2="791.90" stroke="#111" stroke-width="1.1" />
<text x="216.40" y="795.70" font-size="10.6" text-anchor="end" font-weight="normal" fill="#1a1a1a" >50</text>
<line x1="216.40" y1="752.70" x2="218.80" y2="752.70" stroke="#111" stroke-width="1.1" />
<text x="216.40" y="756.50" font-size="10.6" text-anchor="end" font-weight="normal" fill="#1a1a1a" >75</text>
<line x1="216.40" y1="713.50" x2="218.80" y2="713.50" stroke="#111" stroke-width="1.1" />
<text x="216.40" y="717.30" font-size="10.6" text-anchor="end" font-weight="normal" fill="#1a1a1a" >100</text>
<text transform="translate(237.50,879.00) rotate(-45)" font-size="11.8" text-anchor="end" font-weight="normal" fill="#1a1a1a" >Vehicle</text>
<text transform="translate(256.50,879.00) rotate(-45)" font-size="11.8" text-anchor="end" font-weight="normal" fill="#1a1a1a" >CPI203</text>
<text transform="translate(275.00,879.00) rotate(-45)" font-size="11.8" text-anchor="end" font-weight="normal" fill="#1a1a1a" >Nutlin-3</text>
<text transform="translate(295.80,879.00) rotate(-45)" font-size="11.8" text-anchor="end" font-weight="normal" fill="#1a1a1a" >Combo</text>
<line x1="246.20" y1="698.40" x2="290.00" y2="698.40" stroke="#4472C4" stroke-width="1.3" />
<text x="269.20" y="701.00" font-size="10" text-anchor="middle" font-weight="bold" fill="#1a1a1a" textLength="14" lengthAdjust="spacingAndGlyphs" >***</text>
<line x1="252.20" y1="712.50" x2="295.80" y2="712.50" stroke="#ED7D31" stroke-width="1.3" />
<text x="275.70" y="710.80" font-size="11.6" text-anchor="middle" font-weight="normal" fill="#1a1a1a" >ns</text>
<circle cx="310.9" cy="787.9" r="2.3" fill="#3f3fff"/>
<circle cx="310.9" cy="806.6" r="2.3" fill="#ff8c1a"/>
<text x="316.90" y="786.30" font-size="11.0" text-anchor="start" font-weight="normal" fill="#1a1a1a" >Empty</text>
<text x="316.90" y="798.00" font-size="11.0" text-anchor="start" font-weight="normal" fill="#1a1a1a" >Vector</text>
<text x="316.90" y="809.90" font-size="11.0" text-anchor="start" font-weight="normal" fill="#1a1a1a" >shp53</text>
<text x="342.09" y="693.17" font-size="23.4" text-anchor="start" font-weight="bold" fill="#000" >O</text>
<text transform="translate(362.40,780.90) rotate(-90)" font-size="12.0" text-anchor="middle" font-weight="normal" fill="#1a1a1a" >% Apoptosis</text>
<path d="M394.00,859.20 V841.77 H400.10 V859.20" fill="none" stroke="#4d4dff" stroke-width="1.4"/>
<path d="M401.50,859.20 V842.41 H408.00 V859.20" fill="none" stroke="#ff9a36" stroke-width="1.4"/>
<path d="M414.30,859.20 V845.91 H420.30 V859.20" fill="none" stroke="#4d4dff" stroke-width="1.4"/>
<path d="M421.70,859.20 V824.44 H427.70 V859.20" fill="none" stroke="#ff9a36" stroke-width="1.4"/>
<path d="M434.10,859.20 V825.56 H440.10 V859.20" fill="none" stroke="#4d4dff" stroke-width="1.4"/>
<path d="M441.50,859.20 V823.49 H448.10 V859.20" fill="none" stroke="#ff9a36" stroke-width="1.4"/>
<path d="M454.10,859.20 V825.56 H460.10 V859.20" fill="none" stroke="#4d4dff" stroke-width="1.4"/>
<path d="M461.50,859.20 V745.10 H468.40 V859.20" fill="none" stroke="#ff9a36" stroke-width="1.4"/>
<circle cx="396.5" cy="840.5" r="1.9" fill="#3a3aff"/>
<circle cx="398.5" cy="838.5" r="1.9" fill="#3a3aff"/>
<circle cx="404.5" cy="841.5" r="1.9" fill="#ff8c1a"/>
<circle cx="406.0" cy="843.0" r="1.9" fill="#ff8c1a"/>
<circle cx="417.3" cy="845.1" r="1.9" fill="#3a3aff"/>
<circle cx="424.7" cy="823.8" r="1.9" fill="#ff8c1a"/>
<circle cx="437.0" cy="825.5" r="1.9" fill="#3a3aff"/>
<circle cx="444.8" cy="822.0" r="1.9" fill="#ff8c1a"/>
<circle cx="446.5" cy="824.0" r="1.9" fill="#ff8c1a"/>
<line x1="397.00" y1="837.50" x2="397.00" y2="844.00" stroke="#333" stroke-width="0.9" />
<line x1="394.70" y1="837.50" x2="399.30" y2="837.50" stroke="#333" stroke-width="0.9" />
<line x1="394.70" y1="844.00" x2="399.30" y2="844.00" stroke="#333" stroke-width="0.9" />
<line x1="404.70" y1="839.60" x2="404.70" y2="844.00" stroke="#333" stroke-width="0.9" />
<line x1="402.40" y1="839.60" x2="407.00" y2="839.60" stroke="#333" stroke-width="0.9" />
<line x1="402.40" y1="844.00" x2="407.00" y2="844.00" stroke="#333" stroke-width="0.9" />
<line x1="424.70" y1="822.60" x2="424.70" y2="825.00" stroke="#333" stroke-width="0.9" />
<line x1="422.40" y1="822.60" x2="427.00" y2="822.60" stroke="#333" stroke-width="0.9" />
<line x1="422.40" y1="825.00" x2="427.00" y2="825.00" stroke="#333" stroke-width="0.9" />
<line x1="437.00" y1="823.60" x2="437.00" y2="827.20" stroke="#333" stroke-width="0.9" />
<line x1="434.70" y1="823.60" x2="439.30" y2="823.60" stroke="#333" stroke-width="0.9" />
<line x1="434.70" y1="827.20" x2="439.30" y2="827.20" stroke="#333" stroke-width="0.9" />
<line x1="444.80" y1="820.00" x2="444.80" y2="826.20" stroke="#333" stroke-width="0.9" />
<line x1="442.50" y1="820.00" x2="447.10" y2="820.00" stroke="#333" stroke-width="0.9" />
<line x1="442.50" y1="826.20" x2="447.10" y2="826.20" stroke="#333" stroke-width="0.9" />
<polygon points="453.10,827.50 455.30,823.60 457.50,827.50" fill="#3a3aff"/>
<polygon points="456.80,827.50 459.00,823.60 461.20,827.50" fill="#3a3aff"/>
<polygon points="454.90,832.90 457.10,829.00 459.30,832.90" fill="#3a3aff"/>
<line x1="457.10" y1="822.30" x2="457.10" y2="829.50" stroke="#333" stroke-width="0.9" />
<line x1="454.80" y1="822.30" x2="459.40" y2="822.30" stroke="#333" stroke-width="0.9" />
<line x1="454.80" y1="829.50" x2="459.40" y2="829.50" stroke="#333" stroke-width="0.9" />
<polygon points="460.40,736.60 462.80,732.40 465.20,736.60" fill="#ff8c1a"/>
<polygon points="464.10,736.20 466.50,732.00 468.90,736.20" fill="#ff8c1a"/>
<polygon points="462.30,764.80 464.70,760.60 467.10,764.80" fill="#ff8c1a"/>
<line x1="464.70" y1="727.80" x2="464.70" y2="761.00" stroke="#333" stroke-width="0.9" />
<line x1="462.40" y1="727.80" x2="467.00" y2="727.80" stroke="#333" stroke-width="0.9" />
<line x1="462.40" y1="761.00" x2="467.00" y2="761.00" stroke="#333" stroke-width="0.9" />
<line x1="389.10" y1="700.00" x2="389.10" y2="859.90" stroke="#111" stroke-width="1.5" />
<line x1="388.40" y1="859.20" x2="472.00" y2="859.20" stroke="#111" stroke-width="1.5" />
<line x1="401.00" y1="859.20" x2="401.00" y2="862.20" stroke="#111" stroke-width="1.1" />
<line x1="421.00" y1="859.20" x2="421.00" y2="862.20" stroke="#111" stroke-width="1.1" />
<line x1="440.90" y1="859.20" x2="440.90" y2="862.20" stroke="#111" stroke-width="1.1" />
<line x1="460.80" y1="859.20" x2="460.80" y2="862.20" stroke="#111" stroke-width="1.1" />
<line x1="386.70" y1="859.20" x2="389.10" y2="859.20" stroke="#111" stroke-width="1.1" />
<text x="386.50" y="863.20" font-size="11.3" text-anchor="end" font-weight="normal" fill="#1a1a1a" >0</text>
<line x1="386.70" y1="819.45" x2="389.10" y2="819.45" stroke="#111" stroke-width="1.1" />
<text x="386.50" y="823.45" font-size="11.3" text-anchor="end" font-weight="normal" fill="#1a1a1a" >25</text>
<line x1="386.70" y1="779.70" x2="389.10" y2="779.70" stroke="#111" stroke-width="1.1" />
<text x="386.50" y="783.70" font-size="11.3" text-anchor="end" font-weight="normal" fill="#1a1a1a" >50</text>
<line x1="386.70" y1="739.95" x2="389.10" y2="739.95" stroke="#111" stroke-width="1.1" />
<text x="386.50" y="743.95" font-size="11.3" text-anchor="end" font-weight="normal" fill="#1a1a1a" >75</text>
<line x1="386.70" y1="700.20" x2="389.10" y2="700.20" stroke="#111" stroke-width="1.1" />
<text x="386.50" y="704.20" font-size="11.3" text-anchor="end" font-weight="normal" fill="#1a1a1a" >100</text>
<text transform="translate(408.00,870.50) rotate(-47)" font-size="12.4" text-anchor="end" font-weight="normal" fill="#1a1a1a" >Vehicle</text>
<text transform="translate(428.00,870.50) rotate(-47)" font-size="12.4" text-anchor="end" font-weight="normal" fill="#1a1a1a" >DOX</text>
<text transform="translate(448.00,870.50) rotate(-47)" font-size="12.4" text-anchor="end" font-weight="normal" fill="#1a1a1a" >Nutlin</text>
<text transform="translate(468.00,870.50) rotate(-47)" font-size="12.4" text-anchor="end" font-weight="normal" fill="#1a1a1a" >Nutlin + DOX</text>
<line x1="396.50" y1="833.40" x2="404.40" y2="833.40" stroke="#8a8a8a" stroke-width="1.0" />
<text x="400.45" y="831.00" font-size="11.0" text-anchor="middle" font-weight="normal" fill="#333" >ns</text>
<line x1="417.30" y1="816.00" x2="425.30" y2="816.00" stroke="#8a8a8a" stroke-width="1.0" />
<text x="421.30" y="818.00" font-size="9.5" text-anchor="middle" font-weight="bold" fill="#333" >***</text>
<line x1="435.80" y1="816.00" x2="444.50" y2="816.00" stroke="#8a8a8a" stroke-width="1.0" />
<text x="440.15" y="813.40" font-size="11.0" text-anchor="middle" font-weight="normal" fill="#333" >ns</text>
<line x1="456.70" y1="722.20" x2="464.50" y2="722.20" stroke="#8a8a8a" stroke-width="1.0" />
<text x="460.60" y="724.00" font-size="9.5" text-anchor="middle" font-weight="bold" fill="#333" >**</text>
<circle cx="394.0" cy="723.0" r="2.4" fill="#3f3fff"/>
<circle cx="394.0" cy="746.4" r="2.4" fill="#ff8c1a"/>
<text x="400.70" y="721.30" font-size="11.2" text-anchor="start" font-weight="normal" fill="#1a1a1a" >Empty</text>
<text x="400.70" y="733.30" font-size="11.2" text-anchor="start" font-weight="normal" fill="#1a1a1a" >Vector</text>
<text x="400.70" y="744.40" font-size="11.2" text-anchor="start" font-weight="normal" fill="#1a1a1a" >shRNA</text>
<text x="400.70" y="756.40" font-size="11.2" text-anchor="start" font-weight="normal" fill="#1a1a1a" >BRD4 2</text>
<text x="499.08" y="693.70" font-size="23.4" text-anchor="start" font-weight="bold" fill="#000" >P</text>
<text x="594.60" y="711.90" font-size="11.5" text-anchor="middle" font-weight="normal" fill="#1a1a1a" >OCI-AML3</text>
<text x="594.60" y="726.30" font-size="11.5" text-anchor="middle" font-weight="normal" fill="#1a1a1a" textLength="170.6" lengthAdjust="spacingAndGlyphs" >Most synergistic area score: 34.0</text>
<text x="594.60" y="740.30" font-size="11.5" text-anchor="middle" font-weight="normal" fill="#1a1a1a" textLength="176.6" lengthAdjust="spacingAndGlyphs" >Average Bliss synergy score: 13.9</text>
<line x1="600.80" y1="871.00" x2="655.00" y2="832.50" stroke="#c4c4c4" stroke-width="0.55" />
<line x1="655.00" y1="832.50" x2="668.40" y2="762.00" stroke="#c4c4c4" stroke-width="0.55" />
<line x1="595.47" y1="867.15" x2="649.68" y2="828.55" stroke="#c4c4c4" stroke-width="0.55" />
<line x1="649.68" y1="828.55" x2="661.74" y2="760.60" stroke="#c4c4c4" stroke-width="0.55" />
<line x1="590.14" y1="863.30" x2="644.36" y2="824.60" stroke="#c4c4c4" stroke-width="0.55" />
<line x1="644.36" y1="824.60" x2="655.08" y2="759.20" stroke="#c4c4c4" stroke-width="0.55" />
<line x1="584.81" y1="859.45" x2="639.04" y2="820.65" stroke="#c4c4c4" stroke-width="0.55" />
<line x1="639.04" y1="820.65" x2="648.42" y2="757.80" stroke="#c4c4c4" stroke-width="0.55" />
<line x1="579.48" y1="855.60" x2="633.72" y2="816.70" stroke="#c4c4c4" stroke-width="0.55" />
<line x1="633.72" y1="816.70" x2="641.76" y2="756.40" stroke="#c4c4c4" stroke-width="0.55" />
<line x1="574.15" y1="851.75" x2="628.40" y2="812.75" stroke="#c4c4c4" stroke-width="0.55" />
<line x1="628.40" y1="812.75" x2="635.10" y2="755.00" stroke="#c4c4c4" stroke-width="0.55" />
<line x1="568.82" y1="847.90" x2="623.08" y2="808.80" stroke="#c4c4c4" stroke-width="0.55" />
<line x1="623.08" y1="808.80" x2="628.44" y2="753.60" stroke="#c4c4c4" stroke-width="0.55" />
<line x1="563.49" y1="844.05" x2="617.76" y2="804.85" stroke="#c4c4c4" stroke-width="0.55" />
<line x1="617.76" y1="804.85" x2="621.78" y2="752.20" stroke="#c4c4c4" stroke-width="0.55" />
<line x1="558.16" y1="840.20" x2="612.44" y2="800.90" stroke="#c4c4c4" stroke-width="0.55" />
<line x1="612.44" y1="800.90" x2="615.12" y2="750.80" stroke="#c4c4c4" stroke-width="0.55" />
<line x1="552.83" y1="836.35" x2="607.12" y2="796.95" stroke="#c4c4c4" stroke-width="0.55" />
<line x1="607.12" y1="796.95" x2="608.46" y2="749.40" stroke="#c4c4c4" stroke-width="0.55" />
<line x1="547.50" y1="832.50" x2="601.80" y2="793.00" stroke="#c4c4c4" stroke-width="0.55" />
<line x1="601.80" y1="793.00" x2="601.80" y2="748.00" stroke="#c4c4c4" stroke-width="0.55" />
<line x1="600.80" y1="871.00" x2="547.50" y2="832.50" stroke="#c4c4c4" stroke-width="0.55" />
<line x1="547.50" y1="832.50" x2="535.50" y2="762.00" stroke="#c4c4c4" stroke-width="0.55" />
<line x1="608.54" y1="865.50" x2="555.26" y2="826.86" stroke="#c4c4c4" stroke-width="0.55" />
<line x1="555.26" y1="826.86" x2="544.97" y2="760.00" stroke="#c4c4c4" stroke-width="0.55" />
<line x1="616.29" y1="860.00" x2="563.01" y2="821.21" stroke="#c4c4c4" stroke-width="0.55" />
<line x1="563.01" y1="821.21" x2="554.44" y2="758.00" stroke="#c4c4c4" stroke-width="0.55" />
<line x1="624.03" y1="854.50" x2="570.77" y2="815.57" stroke="#c4c4c4" stroke-width="0.55" />
<line x1="570.77" y1="815.57" x2="563.91" y2="756.00" stroke="#c4c4c4" stroke-width="0.55" />
<line x1="631.77" y1="849.00" x2="578.53" y2="809.93" stroke="#c4c4c4" stroke-width="0.55" />
<line x1="578.53" y1="809.93" x2="573.39" y2="754.00" stroke="#c4c4c4" stroke-width="0.55" />
<line x1="639.51" y1="843.50" x2="586.29" y2="804.29" stroke="#c4c4c4" stroke-width="0.55" />
<line x1="586.29" y1="804.29" x2="582.86" y2="752.00" stroke="#c4c4c4" stroke-width="0.55" />
<line x1="647.26" y1="838.00" x2="594.04" y2="798.64" stroke="#c4c4c4" stroke-width="0.55" />
<line x1="594.04" y1="798.64" x2="592.33" y2="750.00" stroke="#c4c4c4" stroke-width="0.55" />
<line x1="655.00" y1="832.50" x2="601.80" y2="793.00" stroke="#c4c4c4" stroke-width="0.55" />
<line x1="601.80" y1="793.00" x2="601.80" y2="748.00" stroke="#c4c4c4" stroke-width="0.55" />
<line x1="547.10" y1="830.17" x2="601.80" y2="791.51" stroke="#c4c4c4" stroke-width="0.55" />
<line x1="655.44" y1="830.17" x2="601.80" y2="791.51" stroke="#c4c4c4" stroke-width="0.55" />
<line x1="545.11" y1="818.47" x2="601.80" y2="784.04" stroke="#c4c4c4" stroke-width="0.55" />
<line x1="657.67" y1="818.47" x2="601.80" y2="784.04" stroke="#c4c4c4" stroke-width="0.55" />
<line x1="542.94" y1="805.71" x2="601.80" y2="775.90" stroke="#c4c4c4" stroke-width="0.55" />
<line x1="660.09" y1="805.71" x2="601.80" y2="775.90" stroke="#c4c4c4" stroke-width="0.55" />
<line x1="540.49" y1="791.33" x2="601.80" y2="766.72" stroke="#c4c4c4" stroke-width="0.55" />
<line x1="662.83" y1="791.33" x2="601.80" y2="766.72" stroke="#c4c4c4" stroke-width="0.55" />
<line x1="537.80" y1="775.54" x2="601.80" y2="756.64" stroke="#c4c4c4" stroke-width="0.55" />
<line x1="665.83" y1="775.54" x2="601.80" y2="756.64" stroke="#c4c4c4" stroke-width="0.55" />
<line x1="535.50" y1="762.00" x2="601.80" y2="748.00" stroke="#c4c4c4" stroke-width="0.55" />
<line x1="668.40" y1="762.00" x2="601.80" y2="748.00" stroke="#c4c4c4" stroke-width="0.55" />
<line x1="544.10" y1="830.17" x2="547.10" y2="830.17" stroke="#999" stroke-width="0.5" />
<line x1="542.11" y1="818.47" x2="545.11" y2="818.47" stroke="#999" stroke-width="0.5" />
<line x1="539.94" y1="805.71" x2="542.94" y2="805.71" stroke="#999" stroke-width="0.5" />
<line x1="537.49" y1="791.33" x2="540.49" y2="791.33" stroke="#999" stroke-width="0.5" />
<line x1="534.80" y1="775.54" x2="537.80" y2="775.54" stroke="#999" stroke-width="0.5" />
<polygon points="601.8,758.6 599.7,759.6 601.8,758.7 603.9,757.7" fill="rgb(237,52,52)" stroke="rgb(237,52,52)" stroke-width="0.45"/>
<polygon points="599.7,759.4 597.6,760.5 599.7,759.6 601.8,758.6" fill="rgb(237,53,53)" stroke="rgb(237,53,53)" stroke-width="0.45"/>
<polygon points="603.9,757.5 601.8,758.6 603.9,757.7 606.1,756.6" fill="rgb(235,46,46)" stroke="rgb(235,46,46)" stroke-width="0.45"/>
<polygon points="606.1,756.3 603.9,757.5 606.1,756.6 608.3,755.5" fill="rgb(233,40,40)" stroke="rgb(233,40,40)" stroke-width="0.45"/>
<polygon points="601.8,758.3 599.7,759.4 601.8,758.6 603.9,757.5" fill="rgb(235,47,47)" stroke="rgb(235,47,47)" stroke-width="0.45"/>
<polygon points="597.6,760.3 595.5,761.5 597.6,760.5 599.7,759.4" fill="rgb(237,54,54)" stroke="rgb(237,54,54)" stroke-width="0.45"/>
<polygon points="608.3,755.2 606.1,756.3 608.3,755.5 610.5,754.5" fill="rgb(231,34,34)" stroke="rgb(231,34,34)" stroke-width="0.45"/>
<polygon points="604.0,757.0 601.8,758.3 603.9,757.5 606.1,756.3" fill="rgb(233,41,41)" stroke="rgb(233,41,41)" stroke-width="0.45"/>
<polygon points="599.7,759.1 597.6,760.3 599.7,759.4 601.8,758.3" fill="rgb(235,48,48)" stroke="rgb(235,48,48)" stroke-width="0.45"/>
<polygon points="595.4,761.3 593.4,762.5 595.5,761.5 597.6,760.3" fill="rgb(238,55,55)" stroke="rgb(238,55,55)" stroke-width="0.45"/>
<polygon points="610.6,754.5 608.3,755.2 610.5,754.5 612.7,753.7" fill="rgb(230,29,29)" stroke="rgb(230,29,29)" stroke-width="0.45"/>
<polygon points="606.2,755.9 604.0,757.0 606.1,756.3 608.3,755.2" fill="rgb(231,35,35)" stroke="rgb(231,35,35)" stroke-width="0.45"/>
<polygon points="601.8,757.8 599.7,759.1 601.8,758.3 604.0,757.0" fill="rgb(233,41,41)" stroke="rgb(233,41,41)" stroke-width="0.45"/>
<polygon points="593.3,762.3 591.3,763.5 593.4,762.5 595.4,761.3" fill="rgb(238,58,58)" stroke="rgb(238,58,58)" stroke-width="0.45"/>
<polygon points="597.5,760.0 595.4,761.3 597.6,760.3 599.7,759.1" fill="rgb(236,48,48)" stroke="rgb(236,48,48)" stroke-width="0.45"/>
<polygon points="608.4,755.4 606.2,755.9 608.3,755.2 610.6,754.5" fill="rgb(230,30,30)" stroke="rgb(230,30,30)" stroke-width="0.45"/>
<polygon points="612.8,753.9 610.6,754.5 612.7,753.7 615.0,752.8" fill="rgb(228,25,25)" stroke="rgb(228,25,25)" stroke-width="0.45"/>
<polygon points="599.7,758.7 597.5,760.0 599.7,759.1 601.8,757.8" fill="rgb(234,42,42)" stroke="rgb(234,42,42)" stroke-width="0.45"/>
<polygon points="595.4,761.1 593.3,762.3 595.4,761.3 597.5,760.0" fill="rgb(236,50,50)" stroke="rgb(236,50,50)" stroke-width="0.45"/>
<polygon points="591.2,763.4 589.2,764.5 591.3,763.5 593.3,762.3" fill="rgb(238,62,62)" stroke="rgb(238,62,62)" stroke-width="0.45"/>
<polygon points="604.0,756.7 601.8,757.8 604.0,757.0 606.2,755.9" fill="rgb(232,35,35)" stroke="rgb(232,35,35)" stroke-width="0.45"/>
<polygon points="615.1,753.1 612.8,753.9 615.0,752.8 617.3,752.0" fill="rgb(227,21,21)" stroke="rgb(227,21,21)" stroke-width="0.45"/>
<polygon points="597.5,759.8 595.4,761.1 597.5,760.0 599.7,758.7" fill="rgb(234,43,43)" stroke="rgb(234,43,43)" stroke-width="0.45"/>
<polygon points="593.3,762.2 591.2,763.4 593.3,762.3 595.4,761.1" fill="rgb(236,51,51)" stroke="rgb(236,51,51)" stroke-width="0.45"/>
<polygon points="610.6,754.9 608.4,755.4 610.6,754.5 612.8,753.9" fill="rgb(229,27,27)" stroke="rgb(229,27,27)" stroke-width="0.45"/>
<polygon points="606.2,756.3 604.0,756.7 606.2,755.9 608.4,755.4" fill="rgb(230,31,31)" stroke="rgb(230,31,31)" stroke-width="0.45"/>
<polygon points="601.8,757.6 599.7,758.7 601.8,757.8 604.0,756.7" fill="rgb(232,36,36)" stroke="rgb(232,36,36)" stroke-width="0.45"/>
<polygon points="589.1,764.4 587.1,765.5 589.2,764.5 591.2,763.4" fill="rgb(239,65,65)" stroke="rgb(239,65,65)" stroke-width="0.45"/>
<polygon points="595.4,761.0 593.3,762.2 595.4,761.1 597.5,759.8" fill="rgb(235,45,45)" stroke="rgb(235,45,45)" stroke-width="0.45"/>
<polygon points="617.1,756.9 615.1,753.1 617.3,752.0 619.3,755.7" fill="rgb(228,24,24)" stroke="rgb(228,24,24)" stroke-width="0.45"/>
<polygon points="612.8,754.3 610.6,754.9 612.8,753.9 615.1,753.1" fill="rgb(228,23,23)" stroke="rgb(228,23,23)" stroke-width="0.45"/>
<polygon points="608.4,756.0 606.2,756.3 608.4,755.4 610.6,754.9" fill="rgb(229,28,28)" stroke="rgb(229,28,28)" stroke-width="0.45"/>
<polygon points="604.0,757.4 601.8,757.6 604.0,756.7 606.2,756.3" fill="rgb(231,32,32)" stroke="rgb(231,32,32)" stroke-width="0.45"/>
<polygon points="599.7,758.8 597.5,759.8 599.7,758.7 601.8,757.6" fill="rgb(232,38,38)" stroke="rgb(232,38,38)" stroke-width="0.45"/>
<polygon points="591.2,763.3 589.1,764.4 591.2,763.4 593.3,762.2" fill="rgb(237,52,52)" stroke="rgb(237,52,52)" stroke-width="0.45"/>
<polygon points="587.0,765.7 585.0,766.6 587.1,765.5 589.1,764.4" fill="rgb(239,69,69)" stroke="rgb(239,69,69)" stroke-width="0.45"/>
<polygon points="614.9,758.1 612.8,754.3 615.1,753.1 617.1,756.9" fill="rgb(229,26,26)" stroke="rgb(229,26,26)" stroke-width="0.45"/>
<polygon points="610.6,755.5 608.4,756.0 610.6,754.9 612.8,754.3" fill="rgb(228,25,25)" stroke="rgb(228,25,25)" stroke-width="0.45"/>
<polygon points="601.8,758.7 599.7,758.8 601.8,757.6 604.0,757.4" fill="rgb(231,34,34)" stroke="rgb(231,34,34)" stroke-width="0.45"/>
<polygon points="593.2,762.2 591.2,763.3 593.3,762.2 595.4,761.0" fill="rgb(235,47,47)" stroke="rgb(235,47,47)" stroke-width="0.45"/>
<polygon points="585.0,767.1 583.0,768.0 585.0,766.6 587.0,765.7" fill="rgb(240,74,74)" stroke="rgb(240,74,74)" stroke-width="0.45"/>
<polygon points="618.7,765.4 617.1,756.9 619.3,755.7 620.9,764.3" fill="rgb(234,42,42)" stroke="rgb(234,42,42)" stroke-width="0.45"/>
<polygon points="606.2,757.1 604.0,757.4 606.2,756.3 608.4,756.0" fill="rgb(230,30,30)" stroke="rgb(230,30,30)" stroke-width="0.45"/>
<polygon points="597.5,760.0 595.4,761.0 597.5,759.8 599.7,758.8" fill="rgb(233,40,40)" stroke="rgb(233,40,40)" stroke-width="0.45"/>
<polygon points="589.1,764.7 587.0,765.7 589.1,764.4 591.2,763.3" fill="rgb(237,54,54)" stroke="rgb(237,54,54)" stroke-width="0.45"/>
<polygon points="620.2,774.1 618.7,765.4 620.9,764.3 622.3,773.1" fill="rgb(241,89,89)" stroke="rgb(241,89,89)" stroke-width="0.45"/>
<polygon points="608.4,756.9 606.2,757.1 608.4,756.0 610.6,755.5" fill="rgb(229,27,27)" stroke="rgb(229,27,27)" stroke-width="0.45"/>
<polygon points="604.0,758.6 601.8,758.7 604.0,757.4 606.2,757.1" fill="rgb(230,32,32)" stroke="rgb(230,32,32)" stroke-width="0.45"/>
<polygon points="599.7,760.1 597.5,760.0 599.7,758.8 601.8,758.7" fill="rgb(232,36,36)" stroke="rgb(232,36,36)" stroke-width="0.45"/>
<polygon points="591.1,763.6 589.1,764.7 591.2,763.3 593.2,762.2" fill="rgb(236,49,49)" stroke="rgb(236,49,49)" stroke-width="0.45"/>
<polygon points="616.6,766.5 614.9,758.1 617.1,756.9 618.7,765.4" fill="rgb(234,43,43)" stroke="rgb(234,43,43)" stroke-width="0.45"/>
<polygon points="612.7,759.4 610.6,755.5 612.8,754.3 614.9,758.1" fill="rgb(229,28,28)" stroke="rgb(229,28,28)" stroke-width="0.45"/>
<polygon points="595.4,761.3 593.2,762.2 595.4,761.0 597.5,760.0" fill="rgb(233,41,41)" stroke="rgb(233,41,41)" stroke-width="0.45"/>
<polygon points="587.0,766.2 585.0,767.1 587.0,765.7 589.1,764.7" fill="rgb(238,60,60)" stroke="rgb(238,60,60)" stroke-width="0.45"/>
<polygon points="582.9,768.6 580.9,769.3 583.0,768.0 585.0,767.1" fill="rgb(240,81,81)" stroke="rgb(240,81,81)" stroke-width="0.45"/>
<polygon points="606.2,758.5 604.0,758.6 606.2,757.1 608.4,756.9" fill="rgb(230,30,30)" stroke="rgb(230,30,30)" stroke-width="0.45"/>
<polygon points="601.8,760.1 599.7,760.1 601.8,758.7 604.0,758.6" fill="rgb(231,34,34)" stroke="rgb(231,34,34)" stroke-width="0.45"/>
<polygon points="621.7,782.4 620.2,774.1 622.3,773.1 623.6,781.6" fill="rgb(248,166,166)" stroke="rgb(248,166,166)" stroke-width="0.45"/>
<polygon points="618.2,775.0 616.6,766.5 618.7,765.4 620.2,774.1" fill="rgb(241,92,92)" stroke="rgb(241,92,92)" stroke-width="0.45"/>
<polygon points="614.4,767.6 612.7,759.4 614.9,758.1 616.6,766.5" fill="rgb(235,45,45)" stroke="rgb(235,45,45)" stroke-width="0.45"/>
<polygon points="610.5,760.7 608.4,756.9 610.6,755.5 612.7,759.4" fill="rgb(230,31,31)" stroke="rgb(230,31,31)" stroke-width="0.45"/>
<polygon points="597.5,761.5 595.4,761.3 597.5,760.0 599.7,760.1" fill="rgb(233,38,38)" stroke="rgb(233,38,38)" stroke-width="0.45"/>
<polygon points="593.2,762.8 591.1,763.6 593.2,762.2 595.4,761.3" fill="rgb(234,44,44)" stroke="rgb(234,44,44)" stroke-width="0.45"/>
<polygon points="589.0,765.3 587.0,766.2 589.1,764.7 591.1,763.6" fill="rgb(237,51,51)" stroke="rgb(237,51,51)" stroke-width="0.45"/>
<polygon points="584.9,767.8 582.9,768.6 585.0,767.1 587.0,766.2" fill="rgb(239,67,67)" stroke="rgb(239,67,67)" stroke-width="0.45"/>
<polygon points="580.9,770.1 578.9,770.7 580.9,769.3 582.9,768.6" fill="rgb(241,87,87)" stroke="rgb(241,87,87)" stroke-width="0.45"/>
<polygon points="604.0,760.2 601.8,760.1 604.0,758.6 606.2,758.5" fill="rgb(231,33,33)" stroke="rgb(231,33,33)" stroke-width="0.45"/>
<polygon points="623.5,785.4 621.7,782.4 623.6,781.6 625.4,784.6" fill="rgb(252,219,219)" stroke="rgb(252,219,219)" stroke-width="0.45"/>
<polygon points="619.7,783.2 618.2,775.0 620.2,774.1 621.7,782.4" fill="rgb(248,166,166)" stroke="rgb(248,166,166)" stroke-width="0.45"/>
<polygon points="616.1,776.0 614.4,767.6 616.6,766.5 618.2,775.0" fill="rgb(242,94,94)" stroke="rgb(242,94,94)" stroke-width="0.45"/>
<polygon points="608.3,762.2 606.2,758.5 608.4,756.9 610.5,760.7" fill="rgb(231,33,33)" stroke="rgb(231,33,33)" stroke-width="0.45"/>
<polygon points="599.7,761.7 597.5,761.5 599.7,760.1 601.8,760.1" fill="rgb(232,37,37)" stroke="rgb(232,37,37)" stroke-width="0.45"/>
<polygon points="595.4,763.1 593.2,762.8 595.4,761.3 597.5,761.5" fill="rgb(233,41,41)" stroke="rgb(233,41,41)" stroke-width="0.45"/>
<polygon points="591.1,764.6 589.0,765.3 591.1,763.6 593.2,762.8" fill="rgb(235,47,47)" stroke="rgb(235,47,47)" stroke-width="0.45"/>
<polygon points="587.0,767.0 584.9,767.8 587.0,766.2 589.0,765.3" fill="rgb(237,54,54)" stroke="rgb(237,54,54)" stroke-width="0.45"/>
<polygon points="578.8,771.3 576.9,772.1 578.9,770.7 580.9,770.1" fill="rgb(242,93,93)" stroke="rgb(242,93,93)" stroke-width="0.45"/>
<polygon points="612.3,768.7 610.5,760.7 612.7,759.4 614.4,767.6" fill="rgb(235,47,47)" stroke="rgb(235,47,47)" stroke-width="0.45"/>
<polygon points="582.9,769.4 580.9,770.1 582.9,768.6 584.9,767.8" fill="rgb(240,75,75)" stroke="rgb(240,75,75)" stroke-width="0.45"/>
<polygon points="621.5,786.2 619.7,783.2 621.7,782.4 623.5,785.4" fill="rgb(252,218,218)" stroke="rgb(252,218,218)" stroke-width="0.45"/>
<polygon points="601.8,761.8 599.7,761.7 601.8,760.1 604.0,760.2" fill="rgb(232,36,36)" stroke="rgb(232,36,36)" stroke-width="0.45"/>
<polygon points="593.2,765.0 591.1,764.6 593.2,762.8 595.4,763.1" fill="rgb(234,44,44)" stroke="rgb(234,44,44)" stroke-width="0.45"/>
<polygon points="625.4,786.5 623.5,785.4 625.4,784.6 627.4,785.7" fill="rgb(252,229,229)" stroke="rgb(252,229,229)" stroke-width="0.45"/>
<polygon points="614.0,777.0 612.3,768.7 614.4,767.6 616.1,776.0" fill="rgb(242,97,97)" stroke="rgb(242,97,97)" stroke-width="0.45"/>
<polygon points="610.2,770.0 608.3,762.2 610.5,760.7 612.3,768.7" fill="rgb(236,49,49)" stroke="rgb(236,49,49)" stroke-width="0.45"/>
<polygon points="606.1,763.8 604.0,760.2 606.2,758.5 608.3,762.2" fill="rgb(232,36,36)" stroke="rgb(232,36,36)" stroke-width="0.45"/>
<polygon points="597.5,763.4 595.4,763.1 597.5,761.5 599.7,761.7" fill="rgb(233,40,40)" stroke="rgb(233,40,40)" stroke-width="0.45"/>
<polygon points="584.9,768.7 582.9,769.4 584.9,767.8 587.0,767.0" fill="rgb(238,62,62)" stroke="rgb(238,62,62)" stroke-width="0.45"/>
<polygon points="580.8,770.5 578.8,771.3 580.9,770.1 582.9,769.4" fill="rgb(240,80,80)" stroke="rgb(240,80,80)" stroke-width="0.45"/>
<polygon points="576.8,772.5 574.9,773.5 576.9,772.1 578.8,771.3" fill="rgb(242,97,97)" stroke="rgb(242,97,97)" stroke-width="0.45"/>
<polygon points="617.7,784.1 616.1,776.0 618.2,775.0 619.7,783.2" fill="rgb(248,167,167)" stroke="rgb(248,167,167)" stroke-width="0.45"/>
<polygon points="589.0,766.5 587.0,767.0 589.0,765.3 591.1,764.6" fill="rgb(236,50,50)" stroke="rgb(236,50,50)" stroke-width="0.45"/>
<polygon points="627.4,787.7 625.4,786.5 627.4,785.7 629.3,786.8" fill="rgb(253,231,231)" stroke="rgb(253,231,231)" stroke-width="0.45"/>
<polygon points="612.0,777.9 610.2,770.0 612.3,768.7 614.0,777.0" fill="rgb(242,100,100)" stroke="rgb(242,100,100)" stroke-width="0.45"/>
<polygon points="608.1,771.3 606.1,763.8 608.3,762.2 610.2,770.0" fill="rgb(236,51,51)" stroke="rgb(236,51,51)" stroke-width="0.45"/>
<polygon points="599.7,763.7 597.5,763.4 599.7,761.7 601.8,761.8" fill="rgb(233,39,39)" stroke="rgb(233,39,39)" stroke-width="0.45"/>
<polygon points="582.8,769.6 580.8,770.5 582.9,769.4 584.9,768.7" fill="rgb(239,68,68)" stroke="rgb(239,68,68)" stroke-width="0.45"/>
<polygon points="578.7,771.3 576.8,772.5 578.8,771.3 580.8,770.5" fill="rgb(241,83,83)" stroke="rgb(241,83,83)" stroke-width="0.45"/>
<polygon points="623.4,787.4 621.5,786.2 623.5,785.4 625.4,786.5" fill="rgb(252,228,228)" stroke="rgb(252,228,228)" stroke-width="0.45"/>
<polygon points="619.5,787.0 617.7,784.1 619.7,783.2 621.5,786.2" fill="rgb(251,217,217)" stroke="rgb(251,217,217)" stroke-width="0.45"/>
<polygon points="615.7,784.8 614.0,777.0 616.1,776.0 617.7,784.1" fill="rgb(248,167,167)" stroke="rgb(248,167,167)" stroke-width="0.45"/>
<polygon points="603.9,765.4 601.8,761.8 604.0,760.2 606.1,763.8" fill="rgb(233,39,39)" stroke="rgb(233,39,39)" stroke-width="0.45"/>
<polygon points="595.4,765.3 593.2,765.0 595.4,763.1 597.5,763.4" fill="rgb(234,43,43)" stroke="rgb(234,43,43)" stroke-width="0.45"/>
<polygon points="591.2,766.9 589.0,766.5 591.1,764.6 593.2,765.0" fill="rgb(235,48,48)" stroke="rgb(235,48,48)" stroke-width="0.45"/>
<polygon points="587.0,768.3 584.9,768.7 587.0,767.0 589.0,766.5" fill="rgb(237,53,53)" stroke="rgb(237,53,53)" stroke-width="0.45"/>
<polygon points="574.7,773.6 572.9,775.0 574.9,773.5 576.8,772.5" fill="rgb(243,102,102)" stroke="rgb(243,102,102)" stroke-width="0.45"/>
<polygon points="609.9,778.9 608.1,771.3 610.2,770.0 612.0,777.9" fill="rgb(243,103,103)" stroke="rgb(243,103,103)" stroke-width="0.45"/>
<polygon points="580.7,770.1 578.7,771.3 580.8,770.5 582.8,769.6" fill="rgb(239,69,69)" stroke="rgb(239,69,69)" stroke-width="0.45"/>
<polygon points="629.3,788.8 627.4,787.7 629.3,786.8 631.3,787.9" fill="rgb(253,233,233)" stroke="rgb(253,233,233)" stroke-width="0.45"/>
<polygon points="625.4,788.5 623.4,787.4 625.4,786.5 627.4,787.7" fill="rgb(253,230,230)" stroke="rgb(253,230,230)" stroke-width="0.45"/>
<polygon points="621.5,788.2 619.5,787.0 621.5,786.2 623.4,787.4" fill="rgb(252,227,227)" stroke="rgb(252,227,227)" stroke-width="0.45"/>
<polygon points="617.5,787.8 615.7,784.8 617.7,784.1 619.5,787.0" fill="rgb(251,216,216)" stroke="rgb(251,216,216)" stroke-width="0.45"/>
<polygon points="613.7,785.5 612.0,777.9 614.0,777.0 615.7,784.8" fill="rgb(248,167,167)" stroke="rgb(248,167,167)" stroke-width="0.45"/>
<polygon points="605.9,772.6 603.9,765.4 606.1,763.8 608.1,771.3" fill="rgb(237,53,53)" stroke="rgb(237,53,53)" stroke-width="0.45"/>
<polygon points="601.8,767.1 599.7,763.7 601.8,761.8 603.9,765.4" fill="rgb(234,43,43)" stroke="rgb(234,43,43)" stroke-width="0.45"/>
<polygon points="597.5,765.7 595.4,765.3 597.5,763.4 599.7,763.7" fill="rgb(234,43,43)" stroke="rgb(234,43,43)" stroke-width="0.45"/>
<polygon points="593.3,767.3 591.2,766.9 593.2,765.0 595.4,765.3" fill="rgb(235,47,47)" stroke="rgb(235,47,47)" stroke-width="0.45"/>
<polygon points="589.1,768.8 587.0,768.3 589.0,766.5 591.2,766.9" fill="rgb(237,51,51)" stroke="rgb(237,51,51)" stroke-width="0.45"/>
<polygon points="584.8,769.1 582.8,769.6 584.9,768.7 587.0,768.3" fill="rgb(238,57,57)" stroke="rgb(238,57,57)" stroke-width="0.45"/>
<polygon points="576.6,772.2 574.7,773.6 576.8,772.5 578.7,771.3" fill="rgb(241,85,85)" stroke="rgb(241,85,85)" stroke-width="0.45"/>
<polygon points="572.7,774.8 570.9,776.4 572.9,775.0 574.7,773.6" fill="rgb(243,107,107)" stroke="rgb(243,107,107)" stroke-width="0.45"/>
<polygon points="631.3,789.8 629.3,788.8 631.3,787.9 633.3,788.8" fill="rgb(253,233,233)" stroke="rgb(253,233,233)" stroke-width="0.45"/>
<polygon points="623.4,789.4 621.5,788.2 623.4,787.4 625.4,788.5" fill="rgb(253,230,230)" stroke="rgb(253,230,230)" stroke-width="0.45"/>
<polygon points="615.5,788.4 613.7,785.5 615.7,784.8 617.5,787.8" fill="rgb(251,214,214)" stroke="rgb(251,214,214)" stroke-width="0.45"/>
<polygon points="607.8,779.9 605.9,772.6 608.1,771.3 609.9,778.9" fill="rgb(243,106,106)" stroke="rgb(243,106,106)" stroke-width="0.45"/>
<polygon points="599.7,768.9 597.5,765.7 599.7,763.7 601.8,767.1" fill="rgb(235,46,46)" stroke="rgb(235,46,46)" stroke-width="0.45"/>
<polygon points="595.4,767.7 593.3,767.3 595.4,765.3 597.5,765.7" fill="rgb(235,46,46)" stroke="rgb(235,46,46)" stroke-width="0.45"/>
<polygon points="587.0,769.7 584.8,769.1 587.0,768.3 589.1,768.8" fill="rgb(237,53,53)" stroke="rgb(237,53,53)" stroke-width="0.45"/>
<polygon points="578.6,770.7 576.6,772.2 578.7,771.3 580.7,770.1" fill="rgb(239,69,69)" stroke="rgb(239,69,69)" stroke-width="0.45"/>
<polygon points="570.7,776.1 568.9,777.9 570.9,776.4 572.7,774.8" fill="rgb(244,111,111)" stroke="rgb(244,111,111)" stroke-width="0.45"/>
<polygon points="627.3,789.7 625.4,788.5 627.4,787.7 629.3,788.8" fill="rgb(253,232,232)" stroke="rgb(253,232,232)" stroke-width="0.45"/>
<polygon points="619.5,789.0 617.5,787.8 619.5,787.0 621.5,788.2" fill="rgb(252,226,226)" stroke="rgb(252,226,226)" stroke-width="0.45"/>
<polygon points="611.7,786.2 609.9,778.9 612.0,777.9 613.7,785.5" fill="rgb(248,167,167)" stroke="rgb(248,167,167)" stroke-width="0.45"/>
<polygon points="603.8,773.9 601.8,767.1 603.9,765.4 605.9,772.6" fill="rgb(238,58,58)" stroke="rgb(238,58,58)" stroke-width="0.45"/>
<polygon points="591.2,769.3 589.1,768.8 591.2,766.9 593.3,767.3" fill="rgb(236,51,51)" stroke="rgb(236,51,51)" stroke-width="0.45"/>
<polygon points="582.7,769.4 580.7,770.1 582.8,769.6 584.8,769.1" fill="rgb(238,56,56)" stroke="rgb(238,56,56)" stroke-width="0.45"/>
<polygon points="574.6,773.0 572.7,774.8 574.7,773.6 576.6,772.2" fill="rgb(241,88,88)" stroke="rgb(241,88,88)" stroke-width="0.45"/>
<polygon points="568.7,777.4 566.9,779.4 568.9,777.9 570.7,776.1" fill="rgb(244,117,117)" stroke="rgb(244,117,117)" stroke-width="0.45"/>
<polygon points="633.2,790.7 631.3,789.8 633.3,788.8 635.2,789.8" fill="rgb(253,233,233)" stroke="rgb(253,233,233)" stroke-width="0.45"/>
<polygon points="629.3,790.7 627.3,789.7 629.3,788.8 631.3,789.8" fill="rgb(253,233,233)" stroke="rgb(253,233,233)" stroke-width="0.45"/>
<polygon points="621.4,790.3 619.5,789.0 621.5,788.2 623.4,789.4" fill="rgb(252,229,229)" stroke="rgb(252,229,229)" stroke-width="0.45"/>
<polygon points="617.5,789.8 615.5,788.4 617.5,787.8 619.5,789.0" fill="rgb(252,225,225)" stroke="rgb(252,225,225)" stroke-width="0.45"/>
<polygon points="613.6,789.1 611.7,786.2 613.7,785.5 615.5,788.4" fill="rgb(251,211,211)" stroke="rgb(251,211,211)" stroke-width="0.45"/>
<polygon points="605.8,780.8 603.8,773.9 605.9,772.6 607.8,779.9" fill="rgb(243,109,109)" stroke="rgb(243,109,109)" stroke-width="0.45"/>
<polygon points="593.3,769.7 591.2,769.3 593.3,767.3 595.4,767.7" fill="rgb(236,50,50)" stroke="rgb(236,50,50)" stroke-width="0.45"/>
<polygon points="589.1,770.4 587.0,769.7 589.1,768.8 591.2,769.3" fill="rgb(237,53,53)" stroke="rgb(237,53,53)" stroke-width="0.45"/>
<polygon points="584.8,770.3 582.7,769.4 584.8,769.1 587.0,769.7" fill="rgb(237,54,54)" stroke="rgb(237,54,54)" stroke-width="0.45"/>
<polygon points="576.4,771.2 574.6,773.0 576.6,772.2 578.6,770.7" fill="rgb(239,69,69)" stroke="rgb(239,69,69)" stroke-width="0.45"/>
<polygon points="572.5,774.2 570.7,776.1 572.7,774.8 574.6,773.0" fill="rgb(241,91,91)" stroke="rgb(241,91,91)" stroke-width="0.45"/>
<polygon points="625.3,790.7 623.4,789.4 625.4,788.5 627.3,789.7" fill="rgb(253,232,232)" stroke="rgb(253,232,232)" stroke-width="0.45"/>
<polygon points="609.7,786.8 607.8,779.9 609.9,778.9 611.7,786.2" fill="rgb(248,166,166)" stroke="rgb(248,166,166)" stroke-width="0.45"/>
<polygon points="601.7,775.3 599.7,768.9 601.8,767.1 603.8,773.9" fill="rgb(239,65,65)" stroke="rgb(239,65,65)" stroke-width="0.45"/>
<polygon points="597.5,770.8 595.4,767.7 597.5,765.7 599.7,768.9" fill="rgb(236,50,50)" stroke="rgb(236,50,50)" stroke-width="0.45"/>
<polygon points="580.6,769.8 578.6,770.7 580.7,770.1 582.7,769.4" fill="rgb(238,55,55)" stroke="rgb(238,55,55)" stroke-width="0.45"/>
<polygon points="631.3,791.6 629.3,790.7 631.3,789.8 633.2,790.7" fill="rgb(253,233,233)" stroke="rgb(253,233,233)" stroke-width="0.45"/>
<polygon points="619.4,791.2 617.5,789.8 619.5,789.0 621.4,790.3" fill="rgb(252,228,228)" stroke="rgb(252,228,228)" stroke-width="0.45"/>
<polygon points="591.2,771.1 589.1,770.4 591.2,769.3 593.3,769.7" fill="rgb(237,53,53)" stroke="rgb(237,53,53)" stroke-width="0.45"/>
<polygon points="587.0,771.2 584.8,770.3 587.0,769.7 589.1,770.4" fill="rgb(237,54,54)" stroke="rgb(237,54,54)" stroke-width="0.45"/>
<polygon points="574.4,772.2 572.5,774.2 574.6,773.0 576.4,771.2" fill="rgb(239,70,70)" stroke="rgb(239,70,70)" stroke-width="0.45"/>
<polygon points="635.2,791.6 633.2,790.7 635.2,789.8 637.2,790.7" fill="rgb(253,233,233)" stroke="rgb(253,233,233)" stroke-width="0.45"/>
<polygon points="627.3,791.6 625.3,790.7 627.3,789.7 629.3,790.7" fill="rgb(253,233,233)" stroke="rgb(253,233,233)" stroke-width="0.45"/>
<polygon points="623.4,791.6 621.4,790.3 623.4,789.4 625.3,790.7" fill="rgb(253,232,232)" stroke="rgb(253,232,232)" stroke-width="0.45"/>
<polygon points="615.5,790.5 613.6,789.1 615.5,788.4 617.5,789.8" fill="rgb(252,223,223)" stroke="rgb(252,223,223)" stroke-width="0.45"/>
<polygon points="611.6,789.7 609.7,786.8 611.7,786.2 613.6,789.1" fill="rgb(251,209,209)" stroke="rgb(251,209,209)" stroke-width="0.45"/>
<polygon points="607.7,787.4 605.8,780.8 607.8,779.9 609.7,786.8" fill="rgb(248,166,166)" stroke="rgb(248,166,166)" stroke-width="0.45"/>
<polygon points="603.7,781.8 601.7,775.3 603.8,773.9 605.8,780.8" fill="rgb(244,112,112)" stroke="rgb(244,112,112)" stroke-width="0.45"/>
<polygon points="599.7,776.7 597.5,770.8 599.7,768.9 601.7,775.3" fill="rgb(239,72,72)" stroke="rgb(239,72,72)" stroke-width="0.45"/>
<polygon points="595.4,772.6 593.3,769.7 595.4,767.7 597.5,770.8" fill="rgb(237,53,53)" stroke="rgb(237,53,53)" stroke-width="0.45"/>
<polygon points="582.7,770.9 580.6,769.8 582.7,769.4 584.8,770.3" fill="rgb(237,53,53)" stroke="rgb(237,53,53)" stroke-width="0.45"/>
<polygon points="578.4,770.1 576.4,771.2 578.6,770.7 580.6,769.8" fill="rgb(237,54,54)" stroke="rgb(237,54,54)" stroke-width="0.45"/>
<polygon points="570.4,775.3 568.7,777.4 570.7,776.1 572.5,774.2" fill="rgb(242,95,95)" stroke="rgb(242,95,95)" stroke-width="0.45"/>
<polygon points="566.7,778.8 565.0,780.9 566.9,779.4 568.7,777.4" fill="rgb(245,122,122)" stroke="rgb(245,122,122)" stroke-width="0.45"/>
<polygon points="589.1,772.1 587.0,771.2 589.1,770.4 591.2,771.1" fill="rgb(237,54,54)" stroke="rgb(237,54,54)" stroke-width="0.45"/>
<polygon points="637.2,792.6 635.2,791.6 637.2,790.7 639.2,791.6" fill="rgb(253,233,233)" stroke="rgb(253,233,233)" stroke-width="0.45"/>
<polygon points="633.2,792.6 631.3,791.6 633.2,790.7 635.2,791.6" fill="rgb(253,233,233)" stroke="rgb(253,233,233)" stroke-width="0.45"/>
<polygon points="629.3,792.6 627.3,791.6 629.3,790.7 631.3,791.6" fill="rgb(253,233,233)" stroke="rgb(253,233,233)" stroke-width="0.45"/>
<polygon points="625.3,792.6 623.4,791.6 625.3,790.7 627.3,791.6" fill="rgb(253,233,233)" stroke="rgb(253,233,233)" stroke-width="0.45"/>
<polygon points="621.4,792.6 619.4,791.2 621.4,790.3 623.4,791.6" fill="rgb(253,232,232)" stroke="rgb(253,232,232)" stroke-width="0.45"/>
<polygon points="617.5,792.0 615.5,790.5 617.5,789.8 619.4,791.2" fill="rgb(252,227,227)" stroke="rgb(252,227,227)" stroke-width="0.45"/>
<polygon points="613.5,791.3 611.6,789.7 613.6,789.1 615.5,790.5" fill="rgb(252,221,221)" stroke="rgb(252,221,221)" stroke-width="0.45"/>
<polygon points="609.6,790.3 607.7,787.4 609.7,786.8 611.6,789.7" fill="rgb(251,206,206)" stroke="rgb(251,206,206)" stroke-width="0.45"/>
<polygon points="601.7,782.7 599.7,776.7 601.7,775.3 603.7,781.8" fill="rgb(244,115,115)" stroke="rgb(244,115,115)" stroke-width="0.45"/>
<polygon points="593.3,774.0 591.2,771.1 593.3,769.7 595.4,772.6" fill="rgb(238,58,58)" stroke="rgb(238,58,58)" stroke-width="0.45"/>
<polygon points="584.9,772.1 582.7,770.9 584.8,770.3 587.0,771.2" fill="rgb(237,54,54)" stroke="rgb(237,54,54)" stroke-width="0.45"/>
<polygon points="580.6,771.5 578.4,770.1 580.6,769.8 582.7,770.9" fill="rgb(237,53,53)" stroke="rgb(237,53,53)" stroke-width="0.45"/>
<polygon points="576.3,771.0 574.4,772.2 576.4,771.2 578.4,770.1" fill="rgb(237,54,54)" stroke="rgb(237,54,54)" stroke-width="0.45"/>
<polygon points="572.3,773.1 570.4,775.3 572.5,774.2 574.4,772.2" fill="rgb(239,73,73)" stroke="rgb(239,73,73)" stroke-width="0.45"/>
<polygon points="568.4,776.5 566.7,778.8 568.7,777.4 570.4,775.3" fill="rgb(242,99,99)" stroke="rgb(242,99,99)" stroke-width="0.45"/>
<polygon points="564.7,780.2 563.0,782.5 565.0,780.9 566.7,778.8" fill="rgb(245,127,127)" stroke="rgb(245,127,127)" stroke-width="0.45"/>
<polygon points="605.7,787.9 603.7,781.8 605.8,780.8 607.7,787.4" fill="rgb(248,165,165)" stroke="rgb(248,165,165)" stroke-width="0.45"/>
<polygon points="597.6,778.1 595.4,772.6 597.5,770.8 599.7,776.7" fill="rgb(240,79,79)" stroke="rgb(240,79,79)" stroke-width="0.45"/>
<polygon points="631.2,793.5 629.3,792.6 631.3,791.6 633.2,792.6" fill="rgb(253,233,233)" stroke="rgb(253,233,233)" stroke-width="0.45"/>
<polygon points="623.3,793.5 621.4,792.6 623.4,791.6 625.3,792.6" fill="rgb(253,233,233)" stroke="rgb(253,233,233)" stroke-width="0.45"/>
<polygon points="615.5,792.9 613.5,791.3 615.5,790.5 617.5,792.0" fill="rgb(252,226,226)" stroke="rgb(252,226,226)" stroke-width="0.45"/>
<polygon points="587.0,773.3 584.9,772.1 587.0,771.2 589.1,772.1" fill="rgb(238,56,56)" stroke="rgb(238,56,56)" stroke-width="0.45"/>
<polygon points="578.5,772.5 576.3,771.0 578.4,770.1 580.6,771.5" fill="rgb(237,53,53)" stroke="rgb(237,53,53)" stroke-width="0.45"/>
<polygon points="574.2,771.9 572.3,773.1 574.4,772.2 576.3,771.0" fill="rgb(238,55,55)" stroke="rgb(238,55,55)" stroke-width="0.45"/>
<polygon points="570.2,774.1 568.4,776.5 570.4,775.3 572.3,773.1" fill="rgb(240,76,76)" stroke="rgb(240,76,76)" stroke-width="0.45"/>
<polygon points="562.7,781.7 561.0,784.0 563.0,782.5 564.7,780.2" fill="rgb(246,133,133)" stroke="rgb(246,133,133)" stroke-width="0.45"/>
<polygon points="639.2,793.4 637.2,792.6 639.2,791.6 641.1,792.4" fill="rgb(253,232,232)" stroke="rgb(253,232,232)" stroke-width="0.45"/>
<polygon points="635.2,793.5 633.2,792.6 635.2,791.6 637.2,792.6" fill="rgb(253,233,233)" stroke="rgb(253,233,233)" stroke-width="0.45"/>
<polygon points="627.3,793.5 625.3,792.6 627.3,791.6 629.3,792.6" fill="rgb(253,233,233)" stroke="rgb(253,233,233)" stroke-width="0.45"/>
<polygon points="619.4,793.5 617.5,792.0 619.4,791.2 621.4,792.6" fill="rgb(253,231,231)" stroke="rgb(253,231,231)" stroke-width="0.45"/>
<polygon points="611.5,792.0 609.6,790.3 611.6,789.7 613.5,791.3" fill="rgb(252,219,219)" stroke="rgb(252,219,219)" stroke-width="0.45"/>
<polygon points="607.6,790.8 605.7,787.9 607.7,787.4 609.6,790.3" fill="rgb(250,202,202)" stroke="rgb(250,202,202)" stroke-width="0.45"/>
<polygon points="599.6,783.6 597.6,778.1 599.7,776.7 601.7,782.7" fill="rgb(244,118,118)" stroke="rgb(244,118,118)" stroke-width="0.45"/>
<polygon points="595.5,779.2 593.3,774.0 595.4,772.6 597.6,778.1" fill="rgb(241,85,85)" stroke="rgb(241,85,85)" stroke-width="0.45"/>
<polygon points="591.3,775.1 589.1,772.1 591.2,771.1 593.3,774.0" fill="rgb(238,63,63)" stroke="rgb(238,63,63)" stroke-width="0.45"/>
<polygon points="582.8,772.9 580.6,771.5 582.7,770.9 584.9,772.1" fill="rgb(237,54,54)" stroke="rgb(237,54,54)" stroke-width="0.45"/>
<polygon points="566.4,777.7 564.7,780.2 566.7,778.8 568.4,776.5" fill="rgb(243,103,103)" stroke="rgb(243,103,103)" stroke-width="0.45"/>
<polygon points="603.7,788.4 601.7,782.7 603.7,781.8 605.7,787.9" fill="rgb(248,163,163)" stroke="rgb(248,163,163)" stroke-width="0.45"/>
<polygon points="576.4,773.5 574.2,771.9 576.3,771.0 578.5,772.5" fill="rgb(237,53,53)" stroke="rgb(237,53,53)" stroke-width="0.45"/>
<polygon points="641.1,794.2 639.2,793.4 641.1,792.4 643.1,793.2" fill="rgb(253,231,231)" stroke="rgb(253,231,231)" stroke-width="0.45"/>
<polygon points="637.2,794.4 635.2,793.5 637.2,792.6 639.2,793.4" fill="rgb(253,233,233)" stroke="rgb(253,233,233)" stroke-width="0.45"/>
<polygon points="629.2,794.5 627.3,793.5 629.3,792.6 631.2,793.5" fill="rgb(253,233,233)" stroke="rgb(253,233,233)" stroke-width="0.45"/>
<polygon points="625.3,794.5 623.3,793.5 625.3,792.6 627.3,793.5" fill="rgb(253,233,233)" stroke="rgb(253,233,233)" stroke-width="0.45"/>
<polygon points="621.4,794.5 619.4,793.5 621.4,792.6 623.3,793.5" fill="rgb(253,233,233)" stroke="rgb(253,233,233)" stroke-width="0.45"/>
<polygon points="613.5,793.7 611.5,792.0 613.5,791.3 615.5,792.9" fill="rgb(252,225,225)" stroke="rgb(252,225,225)" stroke-width="0.45"/>
<polygon points="597.6,784.6 595.5,779.2 597.6,778.1 599.6,783.6" fill="rgb(245,121,121)" stroke="rgb(245,121,121)" stroke-width="0.45"/>
<polygon points="584.9,774.4 582.8,772.9 584.9,772.1 587.0,773.3" fill="rgb(238,58,58)" stroke="rgb(238,58,58)" stroke-width="0.45"/>
<polygon points="580.7,774.0 578.5,772.5 580.6,771.5 582.8,772.9" fill="rgb(238,55,55)" stroke="rgb(238,55,55)" stroke-width="0.45"/>
<polygon points="568.1,775.2 566.4,777.7 568.4,776.5 570.2,774.1" fill="rgb(240,79,79)" stroke="rgb(240,79,79)" stroke-width="0.45"/>
<polygon points="564.4,779.2 562.7,781.7 564.7,780.2 566.4,777.7" fill="rgb(243,108,108)" stroke="rgb(243,108,108)" stroke-width="0.45"/>
<polygon points="560.7,783.2 559.1,785.5 561.0,784.0 562.7,781.7" fill="rgb(246,140,140)" stroke="rgb(246,140,140)" stroke-width="0.45"/>
<polygon points="633.2,794.5 631.2,793.5 633.2,792.6 635.2,793.5" fill="rgb(253,233,233)" stroke="rgb(253,233,233)" stroke-width="0.45"/>
<polygon points="617.4,794.4 615.5,792.9 617.5,792.0 619.4,793.5" fill="rgb(253,231,231)" stroke="rgb(253,231,231)" stroke-width="0.45"/>
<polygon points="609.6,792.6 607.6,790.8 609.6,790.3 611.5,792.0" fill="rgb(251,216,216)" stroke="rgb(251,216,216)" stroke-width="0.45"/>
<polygon points="605.6,791.3 603.7,788.4 605.7,787.9 607.6,790.8" fill="rgb(250,198,198)" stroke="rgb(250,198,198)" stroke-width="0.45"/>
<polygon points="601.6,788.9 599.6,783.6 601.7,782.7 603.7,788.4" fill="rgb(248,162,162)" stroke="rgb(248,162,162)" stroke-width="0.45"/>
<polygon points="593.4,780.3 591.3,775.1 593.3,774.0 595.5,779.2" fill="rgb(241,89,89)" stroke="rgb(241,89,89)" stroke-width="0.45"/>
<polygon points="589.2,776.3 587.0,773.3 589.1,772.1 591.3,775.1" fill="rgb(239,66,66)" stroke="rgb(239,66,66)" stroke-width="0.45"/>
<polygon points="572.1,772.7 570.2,774.1 572.3,773.1 574.2,771.9" fill="rgb(238,57,57)" stroke="rgb(238,57,57)" stroke-width="0.45"/>
<polygon points="623.3,795.4 621.4,794.5 623.3,793.5 625.3,794.5" fill="rgb(253,233,233)" stroke="rgb(253,233,233)" stroke-width="0.45"/>
<polygon points="582.8,775.6 580.7,774.0 582.8,772.9 584.9,774.4" fill="rgb(238,61,61)" stroke="rgb(238,61,61)" stroke-width="0.45"/>
<polygon points="566.1,776.7 564.4,779.2 566.4,777.7 568.1,775.2" fill="rgb(241,84,84)" stroke="rgb(241,84,84)" stroke-width="0.45"/>
<polygon points="643.1,795.0 641.1,794.2 643.1,793.2 645.1,793.9" fill="rgb(253,230,230)" stroke="rgb(253,230,230)" stroke-width="0.45"/>
<polygon points="639.1,795.3 637.2,794.4 639.2,793.4 641.1,794.2" fill="rgb(253,232,232)" stroke="rgb(253,232,232)" stroke-width="0.45"/>
<polygon points="635.2,795.4 633.2,794.5 635.2,793.5 637.2,794.4" fill="rgb(253,233,233)" stroke="rgb(253,233,233)" stroke-width="0.45"/>
<polygon points="631.2,795.4 629.2,794.5 631.2,793.5 633.2,794.5" fill="rgb(253,233,233)" stroke="rgb(253,233,233)" stroke-width="0.45"/>
<polygon points="627.3,795.4 625.3,794.5 627.3,793.5 629.2,794.5" fill="rgb(253,233,233)" stroke="rgb(253,233,233)" stroke-width="0.45"/>
<polygon points="619.4,795.4 617.4,794.4 619.4,793.5 621.4,794.5" fill="rgb(253,233,233)" stroke="rgb(253,233,233)" stroke-width="0.45"/>
<polygon points="615.4,795.4 613.5,793.7 615.5,792.9 617.4,794.4" fill="rgb(253,230,230)" stroke="rgb(253,230,230)" stroke-width="0.45"/>
<polygon points="611.5,794.5 609.6,792.6 611.5,792.0 613.5,793.7" fill="rgb(252,223,223)" stroke="rgb(252,223,223)" stroke-width="0.45"/>
<polygon points="607.6,793.3 605.6,791.3 607.6,790.8 609.6,792.6" fill="rgb(251,213,213)" stroke="rgb(251,213,213)" stroke-width="0.45"/>
<polygon points="603.6,791.8 601.6,788.9 603.7,788.4 605.6,791.3" fill="rgb(250,194,194)" stroke="rgb(250,194,194)" stroke-width="0.45"/>
<polygon points="599.6,789.7 597.6,784.6 599.6,783.6 601.6,788.9" fill="rgb(248,161,161)" stroke="rgb(248,161,161)" stroke-width="0.45"/>
<polygon points="595.6,785.6 593.4,780.3 595.5,779.2 597.6,784.6" fill="rgb(245,123,123)" stroke="rgb(245,123,123)" stroke-width="0.45"/>
<polygon points="591.4,781.4 589.2,776.3 591.3,775.1 593.4,780.3" fill="rgb(241,92,92)" stroke="rgb(241,92,92)" stroke-width="0.45"/>
<polygon points="587.1,777.5 584.9,774.4 587.0,773.3 589.2,776.3" fill="rgb(239,70,70)" stroke="rgb(239,70,70)" stroke-width="0.45"/>
<polygon points="578.6,775.1 576.4,773.5 578.5,772.5 580.7,774.0" fill="rgb(238,58,58)" stroke="rgb(238,58,58)" stroke-width="0.45"/>
<polygon points="574.3,774.5 572.1,772.7 574.2,771.9 576.4,773.5" fill="rgb(237,54,54)" stroke="rgb(237,54,54)" stroke-width="0.45"/>
<polygon points="570.0,773.8 568.1,775.2 570.2,774.1 572.1,772.7" fill="rgb(238,59,59)" stroke="rgb(238,59,59)" stroke-width="0.45"/>
<polygon points="562.4,780.8 560.7,783.2 562.7,781.7 564.4,779.2" fill="rgb(244,114,114)" stroke="rgb(244,114,114)" stroke-width="0.45"/>
<polygon points="558.8,784.8 557.2,787.0 559.1,785.5 560.7,783.2" fill="rgb(247,146,146)" stroke="rgb(247,146,146)" stroke-width="0.45"/>
<polygon points="645.1,795.9 643.1,795.0 645.1,793.9 647.1,794.8" fill="rgb(252,229,229)" stroke="rgb(252,229,229)" stroke-width="0.45"/>
<polygon points="641.1,796.1 639.1,795.3 641.1,794.2 643.1,795.0" fill="rgb(253,231,231)" stroke="rgb(253,231,231)" stroke-width="0.45"/>
<polygon points="637.1,796.3 635.2,795.4 637.2,794.4 639.1,795.3" fill="rgb(253,233,233)" stroke="rgb(253,233,233)" stroke-width="0.45"/>
<polygon points="633.2,796.4 631.2,795.4 633.2,794.5 635.2,795.4" fill="rgb(253,233,233)" stroke="rgb(253,233,233)" stroke-width="0.45"/>
<polygon points="629.2,796.4 627.3,795.4 629.2,794.5 631.2,795.4" fill="rgb(253,233,233)" stroke="rgb(253,233,233)" stroke-width="0.45"/>
<polygon points="625.3,796.3 623.3,795.4 625.3,794.5 627.3,795.4" fill="rgb(253,233,233)" stroke="rgb(253,233,233)" stroke-width="0.45"/>
<polygon points="621.3,796.3 619.4,795.4 621.4,794.5 623.3,795.4" fill="rgb(253,233,233)" stroke="rgb(253,233,233)" stroke-width="0.45"/>
<polygon points="617.4,796.3 615.4,795.4 617.4,794.4 619.4,795.4" fill="rgb(253,233,233)" stroke="rgb(253,233,233)" stroke-width="0.45"/>
<polygon points="609.5,795.3 607.6,793.3 609.6,792.6 611.5,794.5" fill="rgb(252,222,222)" stroke="rgb(252,222,222)" stroke-width="0.45"/>
<polygon points="601.6,792.6 599.6,789.7 601.6,788.9 603.6,791.8" fill="rgb(250,192,192)" stroke="rgb(250,192,192)" stroke-width="0.45"/>
<polygon points="593.5,786.6 591.4,781.4 593.4,780.3 595.6,785.6" fill="rgb(245,125,125)" stroke="rgb(245,125,125)" stroke-width="0.45"/>
<polygon points="585.0,778.8 582.8,775.6 584.9,774.4 587.1,777.5" fill="rgb(240,74,74)" stroke="rgb(240,74,74)" stroke-width="0.45"/>
<polygon points="580.7,776.8 578.6,775.1 580.7,774.0 582.8,775.6" fill="rgb(239,65,65)" stroke="rgb(239,65,65)" stroke-width="0.45"/>
<polygon points="576.5,776.2 574.3,774.5 576.4,773.5 578.6,775.1" fill="rgb(238,61,61)" stroke="rgb(238,61,61)" stroke-width="0.45"/>
<polygon points="572.2,775.6 570.0,773.8 572.1,772.7 574.3,774.5" fill="rgb(238,56,56)" stroke="rgb(238,56,56)" stroke-width="0.45"/>
<polygon points="568.0,775.2 566.1,776.7 568.1,775.2 570.0,773.8" fill="rgb(238,64,64)" stroke="rgb(238,64,64)" stroke-width="0.45"/>
<polygon points="564.1,778.2 562.4,780.8 564.4,779.2 566.1,776.7" fill="rgb(241,90,90)" stroke="rgb(241,90,90)" stroke-width="0.45"/>
<polygon points="556.9,786.9 555.2,788.7 557.2,787.0 558.8,784.8" fill="rgb(247,155,155)" stroke="rgb(247,155,155)" stroke-width="0.45"/>
<polygon points="613.4,796.3 611.5,794.5 613.5,793.7 615.4,795.4" fill="rgb(253,230,230)" stroke="rgb(253,230,230)" stroke-width="0.45"/>
<polygon points="605.6,793.9 603.6,791.8 605.6,791.3 607.6,793.3" fill="rgb(251,210,210)" stroke="rgb(251,210,210)" stroke-width="0.45"/>
<polygon points="597.6,790.6 595.6,785.6 597.6,784.6 599.6,789.7" fill="rgb(248,162,162)" stroke="rgb(248,162,162)" stroke-width="0.45"/>
<polygon points="589.3,782.5 587.1,777.5 589.2,776.3 591.4,781.4" fill="rgb(242,95,95)" stroke="rgb(242,95,95)" stroke-width="0.45"/>
<polygon points="560.4,782.3 558.8,784.8 560.7,783.2 562.4,780.8" fill="rgb(244,120,120)" stroke="rgb(244,120,120)" stroke-width="0.45"/>
<polygon points="639.1,797.2 637.1,796.3 639.1,795.3 641.1,796.1" fill="rgb(253,232,232)" stroke="rgb(253,232,232)" stroke-width="0.45"/>
<polygon points="623.3,797.3 621.3,796.3 623.3,795.4 625.3,796.3" fill="rgb(253,233,233)" stroke="rgb(253,233,233)" stroke-width="0.45"/>
<polygon points="578.7,778.0 576.5,776.2 578.6,775.1 580.7,776.8" fill="rgb(239,68,68)" stroke="rgb(239,68,68)" stroke-width="0.45"/>
<polygon points="570.2,777.2 568.0,775.2 570.0,773.8 572.2,775.6" fill="rgb(238,60,60)" stroke="rgb(238,60,60)" stroke-width="0.45"/>
<polygon points="555.1,789.4 553.4,790.7 555.2,788.7 556.9,786.9" fill="rgb(248,166,166)" stroke="rgb(248,166,166)" stroke-width="0.45"/>
<polygon points="647.1,796.9 645.1,795.9 647.1,794.8 649.1,795.7" fill="rgb(252,229,229)" stroke="rgb(252,229,229)" stroke-width="0.45"/>
<polygon points="643.1,797.0 641.1,796.1 643.1,795.0 645.1,795.9" fill="rgb(253,230,230)" stroke="rgb(253,230,230)" stroke-width="0.45"/>
<polygon points="635.1,797.3 633.2,796.4 635.2,795.4 637.1,796.3" fill="rgb(253,233,233)" stroke="rgb(253,233,233)" stroke-width="0.45"/>
<polygon points="631.2,797.3 629.2,796.4 631.2,795.4 633.2,796.4" fill="rgb(253,233,233)" stroke="rgb(253,233,233)" stroke-width="0.45"/>
<polygon points="627.2,797.3 625.3,796.3 627.3,795.4 629.2,796.4" fill="rgb(253,233,233)" stroke="rgb(253,233,233)" stroke-width="0.45"/>
<polygon points="619.4,797.2 617.4,796.3 619.4,795.4 621.3,796.3" fill="rgb(253,233,233)" stroke="rgb(253,233,233)" stroke-width="0.45"/>
<polygon points="615.4,797.2 613.4,796.3 615.4,795.4 617.4,796.3" fill="rgb(253,233,233)" stroke="rgb(253,233,233)" stroke-width="0.45"/>
<polygon points="607.5,796.0 605.6,793.9 607.6,793.3 609.5,795.3" fill="rgb(252,220,220)" stroke="rgb(252,220,220)" stroke-width="0.45"/>
<polygon points="603.6,794.7 601.6,792.6 603.6,791.8 605.6,793.9" fill="rgb(251,207,207)" stroke="rgb(251,207,207)" stroke-width="0.45"/>
<polygon points="599.6,793.5 597.6,790.6 599.6,789.7 601.6,792.6" fill="rgb(250,192,192)" stroke="rgb(250,192,192)" stroke-width="0.45"/>
<polygon points="591.5,787.6 589.3,782.5 591.4,781.4 593.5,786.6" fill="rgb(245,127,127)" stroke="rgb(245,127,127)" stroke-width="0.45"/>
<polygon points="587.3,783.7 585.0,778.8 587.1,777.5 589.3,782.5" fill="rgb(242,98,98)" stroke="rgb(242,98,98)" stroke-width="0.45"/>
<polygon points="583.0,780.0 580.7,776.8 582.8,775.6 585.0,778.8" fill="rgb(240,77,77)" stroke="rgb(240,77,77)" stroke-width="0.45"/>
<polygon points="574.4,777.5 572.2,775.6 574.3,774.5 576.5,776.2" fill="rgb(239,64,64)" stroke="rgb(239,64,64)" stroke-width="0.45"/>
<polygon points="566.0,776.7 564.1,778.2 566.1,776.7 568.0,775.2" fill="rgb(239,69,69)" stroke="rgb(239,69,69)" stroke-width="0.45"/>
<polygon points="562.1,779.7 560.4,782.3 562.4,780.8 564.1,778.2" fill="rgb(242,95,95)" stroke="rgb(242,95,95)" stroke-width="0.45"/>
<polygon points="558.5,784.7 556.9,786.9 558.8,784.8 560.4,782.3" fill="rgb(245,128,128)" stroke="rgb(245,128,128)" stroke-width="0.45"/>
<polygon points="611.5,797.3 609.5,795.3 611.5,794.5 613.4,796.3" fill="rgb(252,229,229)" stroke="rgb(252,229,229)" stroke-width="0.45"/>
<polygon points="595.6,791.5 593.5,786.6 595.6,785.6 597.6,790.6" fill="rgb(248,163,163)" stroke="rgb(248,163,163)" stroke-width="0.45"/>
<polygon points="649.0,797.8 647.1,796.9 649.1,795.7 651.1,796.7" fill="rgb(252,229,229)" stroke="rgb(252,229,229)" stroke-width="0.45"/>
<polygon points="645.1,798.0 643.1,797.0 645.1,795.9 647.1,796.9" fill="rgb(253,230,230)" stroke="rgb(253,230,230)" stroke-width="0.45"/>
<polygon points="637.1,798.3 635.1,797.3 637.1,796.3 639.1,797.2" fill="rgb(253,233,233)" stroke="rgb(253,233,233)" stroke-width="0.45"/>
<polygon points="633.2,798.2 631.2,797.3 633.2,796.4 635.1,797.3" fill="rgb(253,233,233)" stroke="rgb(253,233,233)" stroke-width="0.45"/>
<polygon points="629.2,798.2 627.2,797.3 629.2,796.4 631.2,797.3" fill="rgb(253,233,233)" stroke="rgb(253,233,233)" stroke-width="0.45"/>
<polygon points="621.3,798.1 619.4,797.2 621.3,796.3 623.3,797.3" fill="rgb(253,233,233)" stroke="rgb(253,233,233)" stroke-width="0.45"/>
<polygon points="617.4,798.1 615.4,797.2 617.4,796.3 619.4,797.2" fill="rgb(253,233,233)" stroke="rgb(253,233,233)" stroke-width="0.45"/>
<polygon points="605.5,796.9 603.6,794.7 605.6,793.9 607.5,796.0" fill="rgb(252,219,219)" stroke="rgb(252,219,219)" stroke-width="0.45"/>
<polygon points="589.4,788.6 587.3,783.7 589.3,782.5 591.5,787.6" fill="rgb(245,129,129)" stroke="rgb(245,129,129)" stroke-width="0.45"/>
<polygon points="576.6,779.4 574.4,777.5 576.5,776.2 578.7,778.0" fill="rgb(239,72,72)" stroke="rgb(239,72,72)" stroke-width="0.45"/>
<polygon points="568.2,778.8 566.0,776.7 568.0,775.2 570.2,777.2" fill="rgb(239,67,67)" stroke="rgb(239,67,67)" stroke-width="0.45"/>
<polygon points="560.2,782.5 558.5,784.7 560.4,782.3 562.1,779.7" fill="rgb(243,105,105)" stroke="rgb(243,105,105)" stroke-width="0.45"/>
<polygon points="556.8,788.1 555.1,789.4 556.9,786.9 558.5,784.7" fill="rgb(246,143,143)" stroke="rgb(246,143,143)" stroke-width="0.45"/>
<polygon points="553.3,792.0 551.5,792.6 553.4,790.7 555.1,789.4" fill="rgb(249,179,179)" stroke="rgb(249,179,179)" stroke-width="0.45"/>
<polygon points="641.1,798.1 639.1,797.2 641.1,796.1 643.1,797.0" fill="rgb(253,232,232)" stroke="rgb(253,232,232)" stroke-width="0.45"/>
<polygon points="625.3,798.2 623.3,797.3 625.3,796.3 627.2,797.3" fill="rgb(253,233,233)" stroke="rgb(253,233,233)" stroke-width="0.45"/>
<polygon points="613.4,798.1 611.5,797.3 613.4,796.3 615.4,797.2" fill="rgb(253,233,233)" stroke="rgb(253,233,233)" stroke-width="0.45"/>
<polygon points="609.5,798.2 607.5,796.0 609.5,795.3 611.5,797.3" fill="rgb(252,229,229)" stroke="rgb(252,229,229)" stroke-width="0.45"/>
<polygon points="601.6,795.7 599.6,793.5 601.6,792.6 603.6,794.7" fill="rgb(251,207,207)" stroke="rgb(251,207,207)" stroke-width="0.45"/>
<polygon points="597.6,794.4 595.6,791.5 597.6,790.6 599.6,793.5" fill="rgb(250,192,192)" stroke="rgb(250,192,192)" stroke-width="0.45"/>
<polygon points="593.6,792.4 591.5,787.6 593.5,786.6 595.6,791.5" fill="rgb(248,164,164)" stroke="rgb(248,164,164)" stroke-width="0.45"/>
<polygon points="585.2,784.8 583.0,780.0 585.0,778.8 587.3,783.7" fill="rgb(242,101,101)" stroke="rgb(242,101,101)" stroke-width="0.45"/>
<polygon points="580.9,781.2 578.7,778.0 580.7,776.8 583.0,780.0" fill="rgb(240,81,81)" stroke="rgb(240,81,81)" stroke-width="0.45"/>
<polygon points="572.4,779.2 570.2,777.2 572.2,775.6 574.4,777.5" fill="rgb(239,69,69)" stroke="rgb(239,69,69)" stroke-width="0.45"/>
<polygon points="563.9,778.2 562.1,779.7 564.1,778.2 566.0,776.7" fill="rgb(240,75,75)" stroke="rgb(240,75,75)" stroke-width="0.45"/>
<polygon points="558.6,786.5 556.8,788.1 558.5,784.7 560.2,782.5" fill="rgb(245,122,122)" stroke="rgb(245,122,122)" stroke-width="0.45"/>
<polygon points="651.0,798.7 649.0,797.8 651.1,796.7 653.0,797.6" fill="rgb(252,229,229)" stroke="rgb(252,229,229)" stroke-width="0.45"/>
<polygon points="647.0,798.9 645.1,798.0 647.1,796.9 649.0,797.8" fill="rgb(253,230,230)" stroke="rgb(253,230,230)" stroke-width="0.45"/>
<polygon points="643.0,799.1 641.1,798.1 643.1,797.0 645.1,798.0" fill="rgb(253,232,232)" stroke="rgb(253,232,232)" stroke-width="0.45"/>
<polygon points="639.1,799.2 637.1,798.3 639.1,797.2 641.1,798.1" fill="rgb(253,233,233)" stroke="rgb(253,233,233)" stroke-width="0.45"/>
<polygon points="635.1,799.2 633.2,798.2 635.1,797.3 637.1,798.3" fill="rgb(253,233,233)" stroke="rgb(253,233,233)" stroke-width="0.45"/>
<polygon points="631.2,799.2 629.2,798.2 631.2,797.3 633.2,798.2" fill="rgb(253,233,233)" stroke="rgb(253,233,233)" stroke-width="0.45"/>
<polygon points="627.2,799.2 625.3,798.2 627.2,797.3 629.2,798.2" fill="rgb(253,233,233)" stroke="rgb(253,233,233)" stroke-width="0.45"/>
<polygon points="623.3,799.1 621.3,798.1 623.3,797.3 625.3,798.2" fill="rgb(253,233,233)" stroke="rgb(253,233,233)" stroke-width="0.45"/>
<polygon points="619.3,798.9 617.4,798.1 619.4,797.2 621.3,798.1" fill="rgb(253,232,232)" stroke="rgb(253,232,232)" stroke-width="0.45"/>
<polygon points="615.4,798.9 613.4,798.1 615.4,797.2 617.4,798.1" fill="rgb(253,232,232)" stroke="rgb(253,232,232)" stroke-width="0.45"/>
<polygon points="611.4,799.0 609.5,798.2 611.5,797.3 613.4,798.1" fill="rgb(253,233,233)" stroke="rgb(253,233,233)" stroke-width="0.45"/>
<polygon points="607.5,799.1 605.5,796.9 607.5,796.0 609.5,798.2" fill="rgb(252,228,228)" stroke="rgb(252,228,228)" stroke-width="0.45"/>
<polygon points="603.6,797.9 601.6,795.7 603.6,794.7 605.5,796.9" fill="rgb(252,219,219)" stroke="rgb(252,219,219)" stroke-width="0.45"/>
<polygon points="599.6,796.6 597.6,794.4 599.6,793.5 601.6,795.7" fill="rgb(251,207,207)" stroke="rgb(251,207,207)" stroke-width="0.45"/>
<polygon points="595.6,795.3 593.6,792.4 595.6,791.5 597.6,794.4" fill="rgb(250,192,192)" stroke="rgb(250,192,192)" stroke-width="0.45"/>
<polygon points="591.6,793.3 589.4,788.6 591.5,787.6 593.6,792.4" fill="rgb(248,165,165)" stroke="rgb(248,165,165)" stroke-width="0.45"/>
<polygon points="587.4,789.6 585.2,784.8 587.3,783.7 589.4,788.6" fill="rgb(246,131,131)" stroke="rgb(246,131,131)" stroke-width="0.45"/>
<polygon points="583.2,785.9 580.9,781.2 583.0,780.0 585.2,784.8" fill="rgb(243,105,105)" stroke="rgb(243,105,105)" stroke-width="0.45"/>
<polygon points="578.9,782.7 576.6,779.4 578.7,778.0 580.9,781.2" fill="rgb(241,86,86)" stroke="rgb(241,86,86)" stroke-width="0.45"/>
<polygon points="574.6,781.3 572.4,779.2 574.4,777.5 576.6,779.4" fill="rgb(240,79,79)" stroke="rgb(240,79,79)" stroke-width="0.45"/>
<polygon points="570.4,781.0 568.2,778.8 570.2,777.2 572.4,779.2" fill="rgb(240,76,76)" stroke="rgb(240,76,76)" stroke-width="0.45"/>
<polygon points="566.2,780.5 563.9,778.2 566.0,776.7 568.2,778.8" fill="rgb(239,73,73)" stroke="rgb(239,73,73)" stroke-width="0.45"/>
<polygon points="562.1,781.2 560.2,782.5 562.1,779.7 563.9,778.2" fill="rgb(241,86,86)" stroke="rgb(241,86,86)" stroke-width="0.45"/>
<polygon points="555.1,791.3 553.3,792.0 555.1,789.4 556.8,788.1" fill="rgb(248,162,162)" stroke="rgb(248,162,162)" stroke-width="0.45"/>
<polygon points="551.5,794.6 549.7,794.6 551.5,792.6 553.3,792.0" fill="rgb(250,192,192)" stroke="rgb(250,192,192)" stroke-width="0.45"/>
<polygon points="653.0,799.7 651.0,798.7 653.0,797.6 655.0,798.6" fill="rgb(252,229,229)" stroke="rgb(252,229,229)" stroke-width="0.45"/>
<polygon points="649.0,799.9 647.0,798.9 649.0,797.8 651.0,798.7" fill="rgb(253,230,230)" stroke="rgb(253,230,230)" stroke-width="0.45"/>
<polygon points="645.0,800.0 643.0,799.1 645.1,798.0 647.0,798.9" fill="rgb(253,232,232)" stroke="rgb(253,232,232)" stroke-width="0.45"/>
<polygon points="641.0,800.2 639.1,799.2 641.1,798.1 643.0,799.1" fill="rgb(253,233,233)" stroke="rgb(253,233,233)" stroke-width="0.45"/>
<polygon points="637.1,800.1 635.1,799.2 637.1,798.3 639.1,799.2" fill="rgb(253,233,233)" stroke="rgb(253,233,233)" stroke-width="0.45"/>
<polygon points="633.1,800.1 631.2,799.2 633.2,798.2 635.1,799.2" fill="rgb(253,233,233)" stroke="rgb(253,233,233)" stroke-width="0.45"/>
<polygon points="629.2,800.1 627.2,799.2 629.2,798.2 631.2,799.2" fill="rgb(253,233,233)" stroke="rgb(253,233,233)" stroke-width="0.45"/>
<polygon points="617.4,799.7 615.4,798.9 617.4,798.1 619.3,798.9" fill="rgb(253,231,231)" stroke="rgb(253,231,231)" stroke-width="0.45"/>
<polygon points="609.5,799.9 607.5,799.1 609.5,798.2 611.4,799.0" fill="rgb(253,233,233)" stroke="rgb(253,233,233)" stroke-width="0.45"/>
<polygon points="601.6,798.8 599.6,796.6 601.6,795.7 603.6,797.9" fill="rgb(252,219,219)" stroke="rgb(252,219,219)" stroke-width="0.45"/>
<polygon points="593.6,796.2 591.6,793.3 593.6,792.4 595.6,795.3" fill="rgb(250,192,192)" stroke="rgb(250,192,192)" stroke-width="0.45"/>
<polygon points="585.4,790.6 583.2,785.9 585.2,784.8 587.4,789.6" fill="rgb(246,134,134)" stroke="rgb(246,134,134)" stroke-width="0.45"/>
<polygon points="572.6,783.2 570.4,781.0 572.4,779.2 574.6,781.3" fill="rgb(241,86,86)" stroke="rgb(241,86,86)" stroke-width="0.45"/>
<polygon points="564.3,783.5 562.1,781.2 563.9,778.2 566.2,780.5" fill="rgb(241,84,84)" stroke="rgb(241,84,84)" stroke-width="0.45"/>
<polygon points="556.9,790.6 555.1,791.3 556.8,788.1 558.6,786.5" fill="rgb(247,145,145)" stroke="rgb(247,145,145)" stroke-width="0.45"/>
<polygon points="549.7,796.4 547.8,796.1 549.7,794.6 551.5,794.6" fill="rgb(250,202,202)" stroke="rgb(250,202,202)" stroke-width="0.45"/>
<polygon points="625.3,800.0 623.3,799.1 625.3,798.2 627.2,799.2" fill="rgb(253,233,233)" stroke="rgb(253,233,233)" stroke-width="0.45"/>
<polygon points="621.3,799.8 619.3,798.9 621.3,798.1 623.3,799.1" fill="rgb(253,232,232)" stroke="rgb(253,232,232)" stroke-width="0.45"/>
<polygon points="613.4,799.7 611.4,799.0 613.4,798.1 615.4,798.9" fill="rgb(253,232,232)" stroke="rgb(253,232,232)" stroke-width="0.45"/>
<polygon points="605.5,800.1 603.6,797.9 605.5,796.9 607.5,799.1" fill="rgb(252,228,228)" stroke="rgb(252,228,228)" stroke-width="0.45"/>
<polygon points="597.6,797.5 595.6,795.3 597.6,794.4 599.6,796.6" fill="rgb(251,207,207)" stroke="rgb(251,207,207)" stroke-width="0.45"/>
<polygon points="589.5,794.2 587.4,789.6 589.4,788.6 591.6,793.3" fill="rgb(248,166,166)" stroke="rgb(248,166,166)" stroke-width="0.45"/>
<polygon points="581.1,787.2 578.9,782.7 580.9,781.2 583.2,785.9" fill="rgb(243,108,108)" stroke="rgb(243,108,108)" stroke-width="0.45"/>
<polygon points="576.8,784.5 574.6,781.3 576.6,779.4 578.9,782.7" fill="rgb(242,92,92)" stroke="rgb(242,92,92)" stroke-width="0.45"/>
<polygon points="568.4,782.8 566.2,780.5 568.2,778.8 570.4,781.0" fill="rgb(241,84,84)" stroke="rgb(241,84,84)" stroke-width="0.45"/>
<polygon points="560.4,785.8 558.6,786.5 560.2,782.5 562.1,781.2" fill="rgb(243,106,106)" stroke="rgb(243,106,106)" stroke-width="0.45"/>
<polygon points="553.4,794.6 551.5,794.6 553.3,792.0 555.1,791.3" fill="rgb(249,181,181)" stroke="rgb(249,181,181)" stroke-width="0.45"/>
<polygon points="631.2,801.1 629.2,800.1 631.2,799.2 633.1,800.1" fill="rgb(253,233,233)" stroke="rgb(253,233,233)" stroke-width="0.45"/>
<polygon points="547.8,797.9 545.8,797.4 547.8,796.1 549.7,796.4" fill="rgb(251,207,207)" stroke="rgb(251,207,207)" stroke-width="0.45"/>
<polygon points="654.9,800.6 653.0,799.7 655.0,798.6 657.0,799.5" fill="rgb(252,229,229)" stroke="rgb(252,229,229)" stroke-width="0.45"/>
<polygon points="651.0,800.8 649.0,799.9 651.0,798.7 653.0,799.7" fill="rgb(253,230,230)" stroke="rgb(253,230,230)" stroke-width="0.45"/>
<polygon points="647.0,801.0 645.0,800.0 647.0,798.9 649.0,799.9" fill="rgb(253,232,232)" stroke="rgb(253,232,232)" stroke-width="0.45"/>
<polygon points="643.0,801.1 641.0,800.2 643.0,799.1 645.0,800.0" fill="rgb(253,233,233)" stroke="rgb(253,233,233)" stroke-width="0.45"/>
<polygon points="639.1,801.1 637.1,800.1 639.1,799.2 641.0,800.2" fill="rgb(253,233,233)" stroke="rgb(253,233,233)" stroke-width="0.45"/>
<polygon points="635.1,801.1 633.1,800.1 635.1,799.2 637.1,800.1" fill="rgb(253,233,233)" stroke="rgb(253,233,233)" stroke-width="0.45"/>
<polygon points="627.2,800.9 625.3,800.0 627.2,799.2 629.2,800.1" fill="rgb(253,233,233)" stroke="rgb(253,233,233)" stroke-width="0.45"/>
<polygon points="623.3,800.7 621.3,799.8 623.3,799.1 625.3,800.0" fill="rgb(253,232,232)" stroke="rgb(253,232,232)" stroke-width="0.45"/>
<polygon points="615.4,800.5 613.4,799.7 615.4,798.9 617.4,799.7" fill="rgb(253,231,231)" stroke="rgb(253,231,231)" stroke-width="0.45"/>
<polygon points="611.4,800.6 609.5,799.9 611.4,799.0 613.4,799.7" fill="rgb(253,231,231)" stroke="rgb(253,231,231)" stroke-width="0.45"/>
<polygon points="607.5,800.8 605.5,800.1 607.5,799.1 609.5,799.9" fill="rgb(253,232,232)" stroke="rgb(253,232,232)" stroke-width="0.45"/>
<polygon points="599.6,799.7 597.6,797.5 599.6,796.6 601.6,798.8" fill="rgb(252,219,219)" stroke="rgb(252,219,219)" stroke-width="0.45"/>
<polygon points="595.6,798.4 593.6,796.2 595.6,795.3 597.6,797.5" fill="rgb(251,207,207)" stroke="rgb(251,207,207)" stroke-width="0.45"/>
<polygon points="591.6,797.1 589.5,794.2 591.6,793.3 593.6,796.2" fill="rgb(250,192,192)" stroke="rgb(250,192,192)" stroke-width="0.45"/>
<polygon points="583.3,791.8 581.1,787.2 583.2,785.9 585.4,790.6" fill="rgb(246,137,137)" stroke="rgb(246,137,137)" stroke-width="0.45"/>
<polygon points="574.9,786.5 572.6,783.2 574.6,781.3 576.8,784.5" fill="rgb(242,100,100)" stroke="rgb(242,100,100)" stroke-width="0.45"/>
<polygon points="570.6,785.1 568.4,782.8 570.4,781.0 572.6,783.2" fill="rgb(242,94,94)" stroke="rgb(242,94,94)" stroke-width="0.45"/>
<polygon points="566.5,785.8 564.3,783.5 566.2,780.5 568.4,782.8" fill="rgb(242,95,95)" stroke="rgb(242,95,95)" stroke-width="0.45"/>
<polygon points="562.6,787.9 560.4,785.8 562.1,781.2 564.3,783.5" fill="rgb(243,105,105)" stroke="rgb(243,105,105)" stroke-width="0.45"/>
<polygon points="558.8,790.5 556.9,790.6 558.6,786.5 560.4,785.8" fill="rgb(246,132,132)" stroke="rgb(246,132,132)" stroke-width="0.45"/>
<polygon points="555.3,794.5 553.4,794.6 555.1,791.3 556.9,790.6" fill="rgb(248,170,170)" stroke="rgb(248,170,170)" stroke-width="0.45"/>
<polygon points="551.6,796.7 549.7,796.4 551.5,794.6 553.4,794.6" fill="rgb(250,195,195)" stroke="rgb(250,195,195)" stroke-width="0.45"/>
<polygon points="619.3,800.5 617.4,799.7 619.3,798.9 621.3,799.8" fill="rgb(253,231,231)" stroke="rgb(253,231,231)" stroke-width="0.45"/>
<polygon points="603.5,801.0 601.6,798.8 603.6,797.9 605.5,800.1" fill="rgb(252,228,228)" stroke="rgb(252,228,228)" stroke-width="0.45"/>
<polygon points="587.5,795.2 585.4,790.6 587.4,789.6 589.5,794.2" fill="rgb(248,167,167)" stroke="rgb(248,167,167)" stroke-width="0.45"/>
<polygon points="579.1,789.0 576.8,784.5 578.9,782.7 581.1,787.2" fill="rgb(244,114,114)" stroke="rgb(244,114,114)" stroke-width="0.45"/>
<polygon points="652.9,801.7 651.0,800.8 653.0,799.7 654.9,800.6" fill="rgb(253,230,230)" stroke="rgb(253,230,230)" stroke-width="0.45"/>
<polygon points="645.0,802.0 643.0,801.1 645.0,800.0 647.0,801.0" fill="rgb(253,233,233)" stroke="rgb(253,233,233)" stroke-width="0.45"/>
<polygon points="641.0,802.0 639.1,801.1 641.0,800.2 643.0,801.1" fill="rgb(253,233,233)" stroke="rgb(253,233,233)" stroke-width="0.45"/>
<polygon points="637.1,802.0 635.1,801.1 637.1,800.1 639.1,801.1" fill="rgb(253,233,233)" stroke="rgb(253,233,233)" stroke-width="0.45"/>
<polygon points="609.4,801.4 607.5,800.8 609.5,799.9 611.4,800.6" fill="rgb(253,231,231)" stroke="rgb(253,231,231)" stroke-width="0.45"/>
<polygon points="597.6,800.6 595.6,798.4 597.6,797.5 599.6,799.7" fill="rgb(252,219,219)" stroke="rgb(252,219,219)" stroke-width="0.45"/>
<polygon points="568.7,788.1 566.5,785.8 568.4,782.8 570.6,785.1" fill="rgb(243,106,106)" stroke="rgb(243,106,106)" stroke-width="0.45"/>
<polygon points="561.0,792.3 558.8,790.5 560.4,785.8 562.6,787.9" fill="rgb(246,131,131)" stroke="rgb(246,131,131)" stroke-width="0.45"/>
<polygon points="553.5,797.0 551.6,796.7 553.4,794.6 555.3,794.5" fill="rgb(250,188,188)" stroke="rgb(250,188,188)" stroke-width="0.45"/>
<polygon points="545.9,799.5 543.9,798.7 545.8,797.4 547.8,797.9" fill="rgb(251,212,212)" stroke="rgb(251,212,212)" stroke-width="0.45"/>
<polygon points="656.9,801.6 654.9,800.6 657.0,799.5 658.9,800.5" fill="rgb(252,229,229)" stroke="rgb(252,229,229)" stroke-width="0.45"/>
<polygon points="648.9,801.9 647.0,801.0 649.0,799.9 651.0,800.8" fill="rgb(253,232,232)" stroke="rgb(253,232,232)" stroke-width="0.45"/>
<polygon points="633.1,802.0 631.2,801.1 633.1,800.1 635.1,801.1" fill="rgb(253,233,233)" stroke="rgb(253,233,233)" stroke-width="0.45"/>
<polygon points="629.2,801.8 627.2,800.9 629.2,800.1 631.2,801.1" fill="rgb(253,233,233)" stroke="rgb(253,233,233)" stroke-width="0.45"/>
<polygon points="625.3,801.5 623.3,800.7 625.3,800.0 627.2,800.9" fill="rgb(253,231,231)" stroke="rgb(253,231,231)" stroke-width="0.45"/>
<polygon points="621.3,801.4 619.3,800.5 621.3,799.8 623.3,800.7" fill="rgb(253,230,230)" stroke="rgb(253,230,230)" stroke-width="0.45"/>
<polygon points="617.4,801.3 615.4,800.5 617.4,799.7 619.3,800.5" fill="rgb(252,229,229)" stroke="rgb(252,229,229)" stroke-width="0.45"/>
<polygon points="613.4,801.3 611.4,800.6 613.4,799.7 615.4,800.5" fill="rgb(252,230,230)" stroke="rgb(252,230,230)" stroke-width="0.45"/>
<polygon points="605.5,801.6 603.5,801.0 605.5,800.1 607.5,800.8" fill="rgb(253,232,232)" stroke="rgb(253,232,232)" stroke-width="0.45"/>
<polygon points="601.5,802.0 599.6,799.7 601.6,798.8 603.5,801.0" fill="rgb(252,228,228)" stroke="rgb(252,228,228)" stroke-width="0.45"/>
<polygon points="593.6,799.3 591.6,797.1 593.6,796.2 595.6,798.4" fill="rgb(251,207,207)" stroke="rgb(251,207,207)" stroke-width="0.45"/>
<polygon points="589.6,798.0 587.5,795.2 589.5,794.2 591.6,797.1" fill="rgb(250,193,193)" stroke="rgb(250,193,193)" stroke-width="0.45"/>
<polygon points="585.5,796.2 583.3,791.8 585.4,790.6 587.5,795.2" fill="rgb(248,169,169)" stroke="rgb(248,169,169)" stroke-width="0.45"/>
<polygon points="581.4,793.4 579.1,789.0 581.1,787.2 583.3,791.8" fill="rgb(246,142,142)" stroke="rgb(246,142,142)" stroke-width="0.45"/>
<polygon points="577.1,790.8 574.9,786.5 576.8,784.5 579.1,789.0" fill="rgb(245,121,121)" stroke="rgb(245,121,121)" stroke-width="0.45"/>
<polygon points="572.9,788.4 570.6,785.1 572.6,783.2 574.9,786.5" fill="rgb(243,108,108)" stroke="rgb(243,108,108)" stroke-width="0.45"/>
<polygon points="564.8,790.0 562.6,787.9 564.3,783.5 566.5,785.8" fill="rgb(244,115,115)" stroke="rgb(244,115,115)" stroke-width="0.45"/>
<polygon points="557.2,794.9 555.3,794.5 556.9,790.6 558.8,790.5" fill="rgb(248,161,161)" stroke="rgb(248,161,161)" stroke-width="0.45"/>
<polygon points="549.7,798.5 547.8,797.9 549.7,796.4 551.6,796.7" fill="rgb(251,203,203)" stroke="rgb(251,203,203)" stroke-width="0.45"/>
<polygon points="658.9,802.5 656.9,801.6 658.9,800.5 660.9,801.4" fill="rgb(252,229,229)" stroke="rgb(252,229,229)" stroke-width="0.45"/>
<polygon points="654.9,802.7 652.9,801.7 654.9,800.6 656.9,801.6" fill="rgb(253,230,230)" stroke="rgb(253,230,230)" stroke-width="0.45"/>
<polygon points="650.9,802.9 648.9,801.9 651.0,800.8 652.9,801.7" fill="rgb(253,232,232)" stroke="rgb(253,232,232)" stroke-width="0.45"/>
<polygon points="646.9,803.0 645.0,802.0 647.0,801.0 648.9,801.9" fill="rgb(253,233,233)" stroke="rgb(253,233,233)" stroke-width="0.45"/>
<polygon points="643.0,803.0 641.0,802.0 643.0,801.1 645.0,802.0" fill="rgb(253,233,233)" stroke="rgb(253,233,233)" stroke-width="0.45"/>
<polygon points="639.0,803.0 637.1,802.0 639.1,801.1 641.0,802.0" fill="rgb(253,233,233)" stroke="rgb(253,233,233)" stroke-width="0.45"/>
<polygon points="635.1,803.0 633.1,802.0 635.1,801.1 637.1,802.0" fill="rgb(253,233,233)" stroke="rgb(253,233,233)" stroke-width="0.45"/>
<polygon points="631.2,802.8 629.2,801.8 631.2,801.1 633.1,802.0" fill="rgb(253,233,233)" stroke="rgb(253,233,233)" stroke-width="0.45"/>
<polygon points="627.2,802.4 625.3,801.5 627.2,800.9 629.2,801.8" fill="rgb(253,231,231)" stroke="rgb(253,231,231)" stroke-width="0.45"/>
<polygon points="619.3,802.0 617.4,801.3 619.3,800.5 621.3,801.4" fill="rgb(252,228,228)" stroke="rgb(252,228,228)" stroke-width="0.45"/>
<polygon points="615.4,802.0 613.4,801.3 615.4,800.5 617.4,801.3" fill="rgb(252,228,228)" stroke="rgb(252,228,228)" stroke-width="0.45"/>
<polygon points="611.4,802.1 609.4,801.4 611.4,800.6 613.4,801.3" fill="rgb(252,229,229)" stroke="rgb(252,229,229)" stroke-width="0.45"/>
<polygon points="607.5,802.2 605.5,801.6 607.5,800.8 609.4,801.4" fill="rgb(253,230,230)" stroke="rgb(253,230,230)" stroke-width="0.45"/>
<polygon points="603.5,802.5 601.5,802.0 603.5,801.0 605.5,801.6" fill="rgb(253,232,232)" stroke="rgb(253,232,232)" stroke-width="0.45"/>
<polygon points="599.5,802.9 597.6,800.6 599.6,799.7 601.5,802.0" fill="rgb(252,228,228)" stroke="rgb(252,228,228)" stroke-width="0.45"/>
<polygon points="595.6,801.6 593.6,799.3 595.6,798.4 597.6,800.6" fill="rgb(252,219,219)" stroke="rgb(252,219,219)" stroke-width="0.45"/>
<polygon points="587.6,799.0 585.5,796.2 587.5,795.2 589.6,798.0" fill="rgb(250,193,193)" stroke="rgb(250,193,193)" stroke-width="0.45"/>
<polygon points="579.4,795.0 577.1,790.8 579.1,789.0 581.4,793.4" fill="rgb(247,150,150)" stroke="rgb(247,150,150)" stroke-width="0.45"/>
<polygon points="571.0,791.2 568.7,788.1 570.6,785.1 572.9,788.4" fill="rgb(244,119,119)" stroke="rgb(244,119,119)" stroke-width="0.45"/>
<polygon points="567.0,792.2 564.8,790.0 566.5,785.8 568.7,788.1" fill="rgb(245,125,125)" stroke="rgb(245,125,125)" stroke-width="0.45"/>
<polygon points="563.1,794.2 561.0,792.3 562.6,787.9 564.8,790.0" fill="rgb(246,141,141)" stroke="rgb(246,141,141)" stroke-width="0.45"/>
<polygon points="559.3,796.6 557.2,794.9 558.8,790.5 561.0,792.3" fill="rgb(248,162,162)" stroke="rgb(248,162,162)" stroke-width="0.45"/>
<polygon points="555.4,797.6 553.5,797.0 555.3,794.5 557.2,794.9" fill="rgb(249,183,183)" stroke="rgb(249,183,183)" stroke-width="0.45"/>
<polygon points="551.6,799.1 549.7,798.5 551.6,796.7 553.5,797.0" fill="rgb(250,199,199)" stroke="rgb(250,199,199)" stroke-width="0.45"/>
<polygon points="547.8,800.3 545.9,799.5 547.8,797.9 549.7,798.5" fill="rgb(251,210,210)" stroke="rgb(251,210,210)" stroke-width="0.45"/>
<polygon points="544.0,801.1 542.0,800.0 543.9,798.7 545.9,799.5" fill="rgb(251,216,216)" stroke="rgb(251,216,216)" stroke-width="0.45"/>
<polygon points="623.3,802.2 621.3,801.4 623.3,800.7 625.3,801.5" fill="rgb(252,229,229)" stroke="rgb(252,229,229)" stroke-width="0.45"/>
<polygon points="591.6,800.2 589.6,798.0 591.6,797.1 593.6,799.3" fill="rgb(251,207,207)" stroke="rgb(251,207,207)" stroke-width="0.45"/>
<polygon points="583.5,797.7 581.4,793.4 583.3,791.8 585.5,796.2" fill="rgb(248,173,173)" stroke="rgb(248,173,173)" stroke-width="0.45"/>
<polygon points="575.2,792.6 572.9,788.4 574.9,786.5 577.1,790.8" fill="rgb(245,129,129)" stroke="rgb(245,129,129)" stroke-width="0.45"/>
<polygon points="648.9,803.9 646.9,803.0 648.9,801.9 650.9,802.9" fill="rgb(253,233,233)" stroke="rgb(253,233,233)" stroke-width="0.45"/>
<polygon points="641.0,803.9 639.0,803.0 641.0,802.0 643.0,803.0" fill="rgb(253,233,233)" stroke="rgb(253,233,233)" stroke-width="0.45"/>
<polygon points="565.2,796.0 563.1,794.2 564.8,790.0 567.0,792.2" fill="rgb(247,151,151)" stroke="rgb(247,151,151)" stroke-width="0.45"/>
<polygon points="557.5,799.1 555.4,797.6 557.2,794.9 559.3,796.6" fill="rgb(249,185,185)" stroke="rgb(249,185,185)" stroke-width="0.45"/>
<polygon points="549.8,801.2 547.8,800.3 549.7,798.5 551.6,799.1" fill="rgb(251,208,208)" stroke="rgb(251,208,208)" stroke-width="0.45"/>
<polygon points="656.9,803.6 654.9,802.7 656.9,801.6 658.9,802.5" fill="rgb(253,230,230)" stroke="rgb(253,230,230)" stroke-width="0.45"/>
<polygon points="652.9,803.8 650.9,802.9 652.9,801.7 654.9,802.7" fill="rgb(253,232,232)" stroke="rgb(253,232,232)" stroke-width="0.45"/>
<polygon points="645.0,803.9 643.0,803.0 645.0,802.0 646.9,803.0" fill="rgb(253,233,233)" stroke="rgb(253,233,233)" stroke-width="0.45"/>
<polygon points="637.1,803.9 635.1,803.0 637.1,802.0 639.0,803.0" fill="rgb(253,233,233)" stroke="rgb(253,233,233)" stroke-width="0.45"/>
<polygon points="625.3,803.0 623.3,802.2 625.3,801.5 627.2,802.4" fill="rgb(252,228,228)" stroke="rgb(252,228,228)" stroke-width="0.45"/>
<polygon points="609.4,802.8 607.5,802.2 609.4,801.4 611.4,802.1" fill="rgb(252,228,228)" stroke="rgb(252,228,228)" stroke-width="0.45"/>
<polygon points="601.5,803.4 599.5,802.9 601.5,802.0 603.5,802.5" fill="rgb(253,232,232)" stroke="rgb(253,232,232)" stroke-width="0.45"/>
<polygon points="593.6,802.5 591.6,800.2 593.6,799.3 595.6,801.6" fill="rgb(252,219,219)" stroke="rgb(252,219,219)" stroke-width="0.45"/>
<polygon points="585.6,800.3 583.5,797.7 585.5,796.2 587.6,799.0" fill="rgb(250,196,196)" stroke="rgb(250,196,196)" stroke-width="0.45"/>
<polygon points="577.4,796.6 575.2,792.6 577.1,790.8 579.4,795.0" fill="rgb(247,157,157)" stroke="rgb(247,157,157)" stroke-width="0.45"/>
<polygon points="569.2,794.7 567.0,792.2 568.7,788.1 571.0,791.2" fill="rgb(246,138,138)" stroke="rgb(246,138,138)" stroke-width="0.45"/>
<polygon points="561.4,798.3 559.3,796.6 561.0,792.3 563.1,794.2" fill="rgb(248,170,170)" stroke="rgb(248,170,170)" stroke-width="0.45"/>
<polygon points="553.6,799.8 551.6,799.1 553.5,797.0 555.4,797.6" fill="rgb(250,196,196)" stroke="rgb(250,196,196)" stroke-width="0.45"/>
<polygon points="546.0,802.2 544.0,801.1 545.9,799.5 547.8,800.3" fill="rgb(251,217,217)" stroke="rgb(251,217,217)" stroke-width="0.45"/>
<polygon points="633.1,803.7 631.2,802.8 633.1,802.0 635.1,803.0" fill="rgb(253,233,233)" stroke="rgb(253,233,233)" stroke-width="0.45"/>
<polygon points="629.2,803.3 627.2,802.4 629.2,801.8 631.2,802.8" fill="rgb(253,231,231)" stroke="rgb(253,231,231)" stroke-width="0.45"/>
<polygon points="621.3,802.8 619.3,802.0 621.3,801.4 623.3,802.2" fill="rgb(252,227,227)" stroke="rgb(252,227,227)" stroke-width="0.45"/>
<polygon points="617.4,802.6 615.4,802.0 617.4,801.3 619.3,802.0" fill="rgb(252,226,226)" stroke="rgb(252,226,226)" stroke-width="0.45"/>
<polygon points="613.4,802.7 611.4,802.1 613.4,801.3 615.4,802.0" fill="rgb(252,227,227)" stroke="rgb(252,227,227)" stroke-width="0.45"/>
<polygon points="605.5,803.1 603.5,802.5 605.5,801.6 607.5,802.2" fill="rgb(252,229,229)" stroke="rgb(252,229,229)" stroke-width="0.45"/>
<polygon points="597.6,803.9 595.6,801.6 597.6,800.6 599.5,802.9" fill="rgb(252,228,228)" stroke="rgb(252,228,228)" stroke-width="0.45"/>
<polygon points="589.6,801.2 587.6,799.0 589.6,798.0 591.6,800.2" fill="rgb(251,207,207)" stroke="rgb(251,207,207)" stroke-width="0.45"/>
<polygon points="581.5,799.2 579.4,795.0 581.4,793.4 583.5,797.7" fill="rgb(249,179,179)" stroke="rgb(249,179,179)" stroke-width="0.45"/>
<polygon points="573.2,794.9 571.0,791.2 572.9,788.4 575.2,792.6" fill="rgb(246,140,140)" stroke="rgb(246,140,140)" stroke-width="0.45"/>
<polygon points="563.5,800.0 561.4,798.3 563.1,794.2 565.2,796.0" fill="rgb(249,178,178)" stroke="rgb(249,178,178)" stroke-width="0.45"/>
<polygon points="555.6,801.1 553.6,799.8 555.4,797.6 557.5,799.1" fill="rgb(250,198,198)" stroke="rgb(250,198,198)" stroke-width="0.45"/>
<polygon points="548.0,803.3 546.0,802.2 547.8,800.3 549.8,801.2" fill="rgb(251,217,217)" stroke="rgb(251,217,217)" stroke-width="0.45"/>
<polygon points="654.8,804.8 652.9,803.8 654.9,802.7 656.9,803.6" fill="rgb(253,232,232)" stroke="rgb(253,232,232)" stroke-width="0.45"/>
<polygon points="650.9,804.9 648.9,803.9 650.9,802.9 652.9,803.8" fill="rgb(253,233,233)" stroke="rgb(253,233,233)" stroke-width="0.45"/>
<polygon points="646.9,804.9 645.0,803.9 646.9,803.0 648.9,803.9" fill="rgb(253,233,233)" stroke="rgb(253,233,233)" stroke-width="0.45"/>
<polygon points="643.0,804.9 641.0,803.9 643.0,803.0 645.0,803.9" fill="rgb(253,233,233)" stroke="rgb(253,233,233)" stroke-width="0.45"/>
<polygon points="639.0,804.9 637.1,803.9 639.0,803.0 641.0,803.9" fill="rgb(253,233,233)" stroke="rgb(253,233,233)" stroke-width="0.45"/>
<polygon points="635.1,804.6 633.1,803.7 635.1,803.0 637.1,803.9" fill="rgb(253,233,233)" stroke="rgb(253,233,233)" stroke-width="0.45"/>
<polygon points="631.2,804.2 629.2,803.3 631.2,802.8 633.1,803.7" fill="rgb(253,231,231)" stroke="rgb(253,231,231)" stroke-width="0.45"/>
<polygon points="623.3,803.5 621.3,802.8 623.3,802.2 625.3,803.0" fill="rgb(252,226,226)" stroke="rgb(252,226,226)" stroke-width="0.45"/>
<polygon points="619.4,803.3 617.4,802.6 619.3,802.0 621.3,802.8" fill="rgb(252,225,225)" stroke="rgb(252,225,225)" stroke-width="0.45"/>
<polygon points="615.4,803.2 613.4,802.7 615.4,802.0 617.4,802.6" fill="rgb(252,225,225)" stroke="rgb(252,225,225)" stroke-width="0.45"/>
<polygon points="607.5,803.6 605.5,803.1 607.5,802.2 609.4,802.8" fill="rgb(252,227,227)" stroke="rgb(252,227,227)" stroke-width="0.45"/>
<polygon points="603.5,803.9 601.5,803.4 603.5,802.5 605.5,803.1" fill="rgb(252,229,229)" stroke="rgb(252,229,229)" stroke-width="0.45"/>
<polygon points="599.5,804.3 597.6,803.9 599.5,802.9 601.5,803.4" fill="rgb(253,232,232)" stroke="rgb(253,232,232)" stroke-width="0.45"/>
<polygon points="591.6,803.5 589.6,801.2 591.6,800.2 593.6,802.5" fill="rgb(252,219,219)" stroke="rgb(252,219,219)" stroke-width="0.45"/>
<polygon points="583.6,801.7 581.5,799.2 583.5,797.7 585.6,800.3" fill="rgb(250,201,201)" stroke="rgb(250,201,201)" stroke-width="0.45"/>
<polygon points="575.4,798.5 573.2,794.9 575.2,792.6 577.4,796.6" fill="rgb(248,166,166)" stroke="rgb(248,166,166)" stroke-width="0.45"/>
<polygon points="567.4,798.1 565.2,796.0 567.0,792.2 569.2,794.7" fill="rgb(248,162,162)" stroke="rgb(248,162,162)" stroke-width="0.45"/>
<polygon points="559.6,800.6 557.5,799.1 559.3,796.6 561.4,798.3" fill="rgb(250,191,191)" stroke="rgb(250,191,191)" stroke-width="0.45"/>
<polygon points="551.8,802.1 549.8,801.2 551.6,799.1 553.6,799.8" fill="rgb(251,207,207)" stroke="rgb(251,207,207)" stroke-width="0.45"/>
<polygon points="627.3,803.8 625.3,803.0 627.2,802.4 629.2,803.3" fill="rgb(252,228,228)" stroke="rgb(252,228,228)" stroke-width="0.45"/>
<polygon points="611.4,803.4 609.4,802.8 611.4,802.1 613.4,802.7" fill="rgb(252,225,225)" stroke="rgb(252,225,225)" stroke-width="0.45"/>
<polygon points="595.6,804.8 593.6,802.5 595.6,801.6 597.6,803.9" fill="rgb(252,228,228)" stroke="rgb(252,228,228)" stroke-width="0.45"/>
<polygon points="587.6,802.4 585.6,800.3 587.6,799.0 589.6,801.2" fill="rgb(251,210,210)" stroke="rgb(251,210,210)" stroke-width="0.45"/>
<polygon points="579.6,800.7 577.4,796.6 579.4,795.0 581.5,799.2" fill="rgb(249,185,185)" stroke="rgb(249,185,185)" stroke-width="0.45"/>
<polygon points="571.3,797.6 569.2,794.7 571.0,791.2 573.2,794.9" fill="rgb(247,157,157)" stroke="rgb(247,157,157)" stroke-width="0.45"/>
<polygon points="644.9,805.8 643.0,804.9 645.0,803.9 646.9,804.9" fill="rgb(253,233,233)" stroke="rgb(253,233,233)" stroke-width="0.45"/>
<polygon points="601.5,804.7 599.5,804.3 601.5,803.4 603.5,803.9" fill="rgb(252,228,228)" stroke="rgb(252,228,228)" stroke-width="0.45"/>
<polygon points="561.6,802.2 559.6,800.6 561.4,798.3 563.5,800.0" fill="rgb(250,197,197)" stroke="rgb(250,197,197)" stroke-width="0.45"/>
<polygon points="553.8,803.2 551.8,802.1 553.6,799.8 555.6,801.1" fill="rgb(251,208,208)" stroke="rgb(251,208,208)" stroke-width="0.45"/>
<polygon points="652.8,805.8 650.9,804.9 652.9,803.8 654.8,804.8" fill="rgb(253,233,233)" stroke="rgb(253,233,233)" stroke-width="0.45"/>
<polygon points="648.9,805.8 646.9,804.9 648.9,803.9 650.9,804.9" fill="rgb(253,233,233)" stroke="rgb(253,233,233)" stroke-width="0.45"/>
<polygon points="641.0,805.8 639.0,804.9 641.0,803.9 643.0,804.9" fill="rgb(253,233,233)" stroke="rgb(253,233,233)" stroke-width="0.45"/>
<polygon points="629.2,804.8 627.3,803.8 629.2,803.3 631.2,804.2" fill="rgb(252,228,228)" stroke="rgb(252,228,228)" stroke-width="0.45"/>
<polygon points="613.4,803.8 611.4,803.4 613.4,802.7 615.4,803.2" fill="rgb(252,223,223)" stroke="rgb(252,223,223)" stroke-width="0.45"/>
<polygon points="605.5,804.4 603.5,803.9 605.5,803.1 607.5,803.6" fill="rgb(252,226,226)" stroke="rgb(252,226,226)" stroke-width="0.45"/>
<polygon points="597.5,805.2 595.6,804.8 597.6,803.9 599.5,804.3" fill="rgb(253,231,231)" stroke="rgb(253,231,231)" stroke-width="0.45"/>
<polygon points="589.6,804.5 587.6,802.4 589.6,801.2 591.6,803.5" fill="rgb(252,220,220)" stroke="rgb(252,220,220)" stroke-width="0.45"/>
<polygon points="581.6,803.1 579.6,800.7 581.5,799.2 583.6,801.7" fill="rgb(251,206,206)" stroke="rgb(251,206,206)" stroke-width="0.45"/>
<polygon points="573.5,800.7 571.3,797.6 573.2,794.9 575.4,798.5" fill="rgb(249,178,178)" stroke="rgb(249,178,178)" stroke-width="0.45"/>
<polygon points="565.6,801.7 563.5,800.0 565.2,796.0 567.4,798.1" fill="rgb(249,186,186)" stroke="rgb(249,186,186)" stroke-width="0.45"/>
<polygon points="557.7,802.5 555.6,801.1 557.5,799.1 559.6,800.6" fill="rgb(250,202,202)" stroke="rgb(250,202,202)" stroke-width="0.45"/>
<polygon points="550.0,804.3 548.0,803.3 549.8,801.2 551.8,802.1" fill="rgb(252,218,218)" stroke="rgb(252,218,218)" stroke-width="0.45"/>
<polygon points="637.1,805.6 635.1,804.6 637.1,803.9 639.0,804.9" fill="rgb(253,233,233)" stroke="rgb(253,233,233)" stroke-width="0.45"/>
<polygon points="633.1,805.2 631.2,804.2 633.1,803.7 635.1,804.6" fill="rgb(253,231,231)" stroke="rgb(253,231,231)" stroke-width="0.45"/>
<polygon points="625.3,804.4 623.3,803.5 625.3,803.0 627.3,803.8" fill="rgb(252,225,225)" stroke="rgb(252,225,225)" stroke-width="0.45"/>
<polygon points="621.4,803.9 619.4,803.3 621.3,802.8 623.3,803.5" fill="rgb(252,223,223)" stroke="rgb(252,223,223)" stroke-width="0.45"/>
<polygon points="617.4,803.8 615.4,803.2 617.4,802.6 619.4,803.3" fill="rgb(252,222,222)" stroke="rgb(252,222,222)" stroke-width="0.45"/>
<polygon points="609.4,804.1 607.5,803.6 609.4,802.8 611.4,803.4" fill="rgb(252,224,224)" stroke="rgb(252,224,224)" stroke-width="0.45"/>
<polygon points="593.6,805.7 591.6,803.5 593.6,802.5 595.6,804.8" fill="rgb(252,228,228)" stroke="rgb(252,228,228)" stroke-width="0.45"/>
<polygon points="585.6,803.7 583.6,801.7 585.6,800.3 587.6,802.4" fill="rgb(251,213,213)" stroke="rgb(251,213,213)" stroke-width="0.45"/>
<polygon points="577.6,802.2 575.4,798.5 577.4,796.6 579.6,800.7" fill="rgb(250,192,192)" stroke="rgb(250,192,192)" stroke-width="0.45"/>
<polygon points="569.5,800.5 567.4,798.1 569.2,794.7 571.3,797.6" fill="rgb(249,176,176)" stroke="rgb(249,176,176)" stroke-width="0.45"/>
<polygon points="559.7,803.8 557.7,802.5 559.6,800.6 561.6,802.2" fill="rgb(251,207,207)" stroke="rgb(251,207,207)" stroke-width="0.45"/>
<polygon points="551.9,805.2 550.0,804.3 551.8,802.1 553.8,803.2" fill="rgb(252,218,218)" stroke="rgb(252,218,218)" stroke-width="0.45"/>
<polygon points="650.9,806.8 648.9,805.8 650.9,804.9 652.8,805.8" fill="rgb(253,233,233)" stroke="rgb(253,233,233)" stroke-width="0.45"/>
<polygon points="646.9,806.8 644.9,805.8 646.9,804.9 648.9,805.8" fill="rgb(253,233,233)" stroke="rgb(253,233,233)" stroke-width="0.45"/>
<polygon points="643.0,806.7 641.0,805.8 643.0,804.9 644.9,805.8" fill="rgb(253,233,233)" stroke="rgb(253,233,233)" stroke-width="0.45"/>
<polygon points="639.0,806.6 637.1,805.6 639.0,804.9 641.0,805.8" fill="rgb(253,233,233)" stroke="rgb(253,233,233)" stroke-width="0.45"/>
<polygon points="635.1,806.1 633.1,805.2 635.1,804.6 637.1,805.6" fill="rgb(253,231,231)" stroke="rgb(253,231,231)" stroke-width="0.45"/>
<polygon points="627.3,805.3 625.3,804.4 627.3,803.8 629.2,804.8" fill="rgb(252,225,225)" stroke="rgb(252,225,225)" stroke-width="0.45"/>
<polygon points="623.3,804.7 621.4,803.9 623.3,803.5 625.3,804.4" fill="rgb(252,222,222)" stroke="rgb(252,222,222)" stroke-width="0.45"/>
<polygon points="619.4,804.3 617.4,803.8 619.4,803.3 621.4,803.9" fill="rgb(252,220,220)" stroke="rgb(252,220,220)" stroke-width="0.45"/>
<polygon points="611.4,804.4 609.4,804.1 611.4,803.4 613.4,803.8" fill="rgb(252,221,221)" stroke="rgb(252,221,221)" stroke-width="0.45"/>
<polygon points="607.5,804.8 605.5,804.4 607.5,803.6 609.4,804.1" fill="rgb(252,223,223)" stroke="rgb(252,223,223)" stroke-width="0.45"/>
<polygon points="603.5,805.1 601.5,804.7 603.5,803.9 605.5,804.4" fill="rgb(252,225,225)" stroke="rgb(252,225,225)" stroke-width="0.45"/>
<polygon points="599.5,805.5 597.5,805.2 599.5,804.3 601.5,804.7" fill="rgb(252,228,228)" stroke="rgb(252,228,228)" stroke-width="0.45"/>
<polygon points="595.6,806.1 593.6,805.7 595.6,804.8 597.5,805.2" fill="rgb(253,231,231)" stroke="rgb(253,231,231)" stroke-width="0.45"/>
<polygon points="587.6,805.6 585.6,803.7 587.6,802.4 589.6,804.5" fill="rgb(252,222,222)" stroke="rgb(252,222,222)" stroke-width="0.45"/>
<polygon points="579.7,804.4 577.6,802.2 579.6,800.7 581.6,803.1" fill="rgb(251,210,210)" stroke="rgb(251,210,210)" stroke-width="0.45"/>
<polygon points="571.6,802.8 569.5,800.5 571.3,797.6 573.5,800.7" fill="rgb(250,191,191)" stroke="rgb(250,191,191)" stroke-width="0.45"/>
<polygon points="563.7,803.6 561.6,802.2 563.5,800.0 565.6,801.7" fill="rgb(251,203,203)" stroke="rgb(251,203,203)" stroke-width="0.45"/>
<polygon points="555.8,804.3 553.8,803.2 555.6,801.1 557.7,802.5" fill="rgb(251,211,211)" stroke="rgb(251,211,211)" stroke-width="0.45"/>
<polygon points="631.2,805.7 629.2,804.8 631.2,804.2 633.1,805.2" fill="rgb(252,228,228)" stroke="rgb(252,228,228)" stroke-width="0.45"/>
<polygon points="615.4,804.2 613.4,803.8 615.4,803.2 617.4,803.8" fill="rgb(252,219,219)" stroke="rgb(252,219,219)" stroke-width="0.45"/>
<polygon points="591.6,806.7 589.6,804.5 591.6,803.5 593.6,805.7" fill="rgb(252,229,229)" stroke="rgb(252,229,229)" stroke-width="0.45"/>
<polygon points="583.6,804.9 581.6,803.1 583.6,801.7 585.6,803.7" fill="rgb(251,216,216)" stroke="rgb(251,216,216)" stroke-width="0.45"/>
<polygon points="575.6,803.7 573.5,800.7 575.4,798.5 577.6,802.2" fill="rgb(250,199,199)" stroke="rgb(250,199,199)" stroke-width="0.45"/>
<polygon points="567.6,803.3 565.6,801.7 567.4,798.1 569.5,800.5" fill="rgb(250,195,195)" stroke="rgb(250,195,195)" stroke-width="0.45"/>
<polygon points="557.8,805.4 555.8,804.3 557.7,802.5 559.7,803.8" fill="rgb(251,214,214)" stroke="rgb(251,214,214)" stroke-width="0.45"/>
<polygon points="648.9,807.7 646.9,806.8 648.9,805.8 650.9,806.8" fill="rgb(253,233,233)" stroke="rgb(253,233,233)" stroke-width="0.45"/>
<polygon points="644.9,807.7 643.0,806.7 644.9,805.8 646.9,806.8" fill="rgb(253,233,233)" stroke="rgb(253,233,233)" stroke-width="0.45"/>
<polygon points="617.4,804.7 615.4,804.2 617.4,803.8 619.4,804.3" fill="rgb(251,216,216)" stroke="rgb(251,216,216)" stroke-width="0.45"/>
<polygon points="601.5,805.9 599.5,805.5 601.5,804.7 603.5,805.1" fill="rgb(252,224,224)" stroke="rgb(252,224,224)" stroke-width="0.45"/>
<polygon points="593.6,807.1 591.6,806.7 593.6,805.7 595.6,806.1" fill="rgb(253,231,231)" stroke="rgb(253,231,231)" stroke-width="0.45"/>
<polygon points="585.7,806.7 583.6,804.9 585.6,803.7 587.6,805.6" fill="rgb(252,223,223)" stroke="rgb(252,223,223)" stroke-width="0.45"/>
<polygon points="577.7,805.6 575.6,803.7 577.6,802.2 579.7,804.4" fill="rgb(251,214,214)" stroke="rgb(251,214,214)" stroke-width="0.45"/>
<polygon points="569.7,805.0 567.6,803.3 569.5,800.5 571.6,802.8" fill="rgb(251,205,205)" stroke="rgb(251,205,205)" stroke-width="0.45"/>
<polygon points="561.7,805.1 559.7,803.8 561.6,802.2 563.7,803.6" fill="rgb(251,211,211)" stroke="rgb(251,211,211)" stroke-width="0.45"/>
<polygon points="553.9,806.2 551.9,805.2 553.8,803.2 555.8,804.3" fill="rgb(252,219,219)" stroke="rgb(252,219,219)" stroke-width="0.45"/>
<polygon points="641.0,807.6 639.0,806.6 641.0,805.8 643.0,806.7" fill="rgb(253,233,233)" stroke="rgb(253,233,233)" stroke-width="0.45"/>
<polygon points="637.1,807.2 635.1,806.1 637.1,805.6 639.0,806.6" fill="rgb(253,231,231)" stroke="rgb(253,231,231)" stroke-width="0.45"/>
<polygon points="633.2,806.6 631.2,805.7 633.1,805.2 635.1,806.1" fill="rgb(252,228,228)" stroke="rgb(252,228,228)" stroke-width="0.45"/>
<polygon points="629.2,806.2 627.3,805.3 629.2,804.8 631.2,805.7" fill="rgb(252,225,225)" stroke="rgb(252,225,225)" stroke-width="0.45"/>
<polygon points="625.3,805.7 623.3,804.7 625.3,804.4 627.3,805.3" fill="rgb(252,222,222)" stroke="rgb(252,222,222)" stroke-width="0.45"/>
<polygon points="621.4,805.1 619.4,804.3 621.4,803.9 623.3,804.7" fill="rgb(252,218,218)" stroke="rgb(252,218,218)" stroke-width="0.45"/>
<polygon points="613.4,804.7 611.4,804.4 613.4,803.8 615.4,804.2" fill="rgb(251,217,217)" stroke="rgb(251,217,217)" stroke-width="0.45"/>
<polygon points="609.5,805.1 607.5,804.8 609.4,804.1 611.4,804.4" fill="rgb(252,219,219)" stroke="rgb(252,219,219)" stroke-width="0.45"/>
<polygon points="605.5,805.5 603.5,805.1 605.5,804.4 607.5,804.8" fill="rgb(252,221,221)" stroke="rgb(252,221,221)" stroke-width="0.45"/>
<polygon points="597.5,806.4 595.6,806.1 597.5,805.2 599.5,805.5" fill="rgb(252,227,227)" stroke="rgb(252,227,227)" stroke-width="0.45"/>
<polygon points="589.6,807.6 587.6,805.6 589.6,804.5 591.6,806.7" fill="rgb(252,229,229)" stroke="rgb(252,229,229)" stroke-width="0.45"/>
<polygon points="581.7,806.1 579.7,804.4 581.6,803.1 583.6,804.9" fill="rgb(252,219,219)" stroke="rgb(252,219,219)" stroke-width="0.45"/>
<polygon points="573.7,805.2 571.6,802.8 573.5,800.7 575.6,803.7" fill="rgb(251,207,207)" stroke="rgb(251,207,207)" stroke-width="0.45"/>
<polygon points="565.7,805.1 563.7,803.6 565.6,801.7 567.6,803.3" fill="rgb(251,209,209)" stroke="rgb(251,209,209)" stroke-width="0.45"/>
<polygon points="555.9,807.1 553.9,806.2 555.8,804.3 557.8,805.4" fill="rgb(252,220,220)" stroke="rgb(252,220,220)" stroke-width="0.45"/>
<polygon points="646.9,808.6 644.9,807.7 646.9,806.8 648.9,807.7" fill="rgb(253,233,233)" stroke="rgb(253,233,233)" stroke-width="0.45"/>
<polygon points="642.9,808.6 641.0,807.6 643.0,806.7 644.9,807.7" fill="rgb(253,233,233)" stroke="rgb(253,233,233)" stroke-width="0.45"/>
<polygon points="639.0,808.3 637.1,807.2 639.0,806.6 641.0,807.6" fill="rgb(253,231,231)" stroke="rgb(253,231,231)" stroke-width="0.45"/>
<polygon points="631.2,807.1 629.2,806.2 631.2,805.7 633.2,806.6" fill="rgb(252,225,225)" stroke="rgb(252,225,225)" stroke-width="0.45"/>
<polygon points="627.3,806.7 625.3,805.7 627.3,805.3 629.2,806.2" fill="rgb(252,222,222)" stroke="rgb(252,222,222)" stroke-width="0.45"/>
<polygon points="623.4,806.1 621.4,805.1 623.3,804.7 625.3,805.7" fill="rgb(252,218,218)" stroke="rgb(252,218,218)" stroke-width="0.45"/>
<polygon points="615.5,805.0 613.4,804.7 615.4,804.2 617.4,804.7" fill="rgb(251,212,212)" stroke="rgb(251,212,212)" stroke-width="0.45"/>
<polygon points="611.5,805.4 609.5,805.1 611.4,804.4 613.4,804.7" fill="rgb(251,214,214)" stroke="rgb(251,214,214)" stroke-width="0.45"/>
<polygon points="607.5,805.8 605.5,805.5 607.5,804.8 609.5,805.1" fill="rgb(252,218,218)" stroke="rgb(252,218,218)" stroke-width="0.45"/>
<polygon points="599.5,806.7 597.5,806.4 599.5,805.5 601.5,805.9" fill="rgb(252,223,223)" stroke="rgb(252,223,223)" stroke-width="0.45"/>
<polygon points="595.5,807.4 593.6,807.1 595.6,806.1 597.5,806.4" fill="rgb(252,227,227)" stroke="rgb(252,227,227)" stroke-width="0.45"/>
<polygon points="583.7,807.7 581.7,806.1 583.6,804.9 585.7,806.7" fill="rgb(252,225,225)" stroke="rgb(252,225,225)" stroke-width="0.45"/>
<polygon points="575.7,806.8 573.7,805.2 575.6,803.7 577.7,805.6" fill="rgb(252,218,218)" stroke="rgb(252,218,218)" stroke-width="0.45"/>
<polygon points="567.7,806.5 565.7,805.1 567.6,803.3 569.7,805.0" fill="rgb(251,215,215)" stroke="rgb(251,215,215)" stroke-width="0.45"/>
<polygon points="559.8,806.6 557.8,805.4 559.7,803.8 561.7,805.1" fill="rgb(251,216,216)" stroke="rgb(251,216,216)" stroke-width="0.45"/>
<polygon points="635.1,807.8 633.2,806.6 635.1,806.1 637.1,807.2" fill="rgb(252,228,228)" stroke="rgb(252,228,228)" stroke-width="0.45"/>
<polygon points="619.4,805.4 617.4,804.7 619.4,804.3 621.4,805.1" fill="rgb(251,214,214)" stroke="rgb(251,214,214)" stroke-width="0.45"/>
<polygon points="603.5,806.2 601.5,805.9 603.5,805.1 605.5,805.5" fill="rgb(252,220,220)" stroke="rgb(252,220,220)" stroke-width="0.45"/>
<polygon points="591.6,808.1 589.6,807.6 591.6,806.7 593.6,807.1" fill="rgb(253,232,232)" stroke="rgb(253,232,232)" stroke-width="0.45"/>
<polygon points="587.6,808.6 585.7,806.7 587.6,805.6 589.6,807.6" fill="rgb(253,230,230)" stroke="rgb(253,230,230)" stroke-width="0.45"/>
<polygon points="579.7,807.1 577.7,805.6 579.7,804.4 581.7,806.1" fill="rgb(252,221,221)" stroke="rgb(252,221,221)" stroke-width="0.45"/>
<polygon points="571.7,806.7 569.7,805.0 571.6,802.8 573.7,805.2" fill="rgb(251,214,214)" stroke="rgb(251,214,214)" stroke-width="0.45"/>
<polygon points="563.8,806.5 561.7,805.1 563.7,803.6 565.7,805.1" fill="rgb(251,215,215)" stroke="rgb(251,215,215)" stroke-width="0.45"/>
<polygon points="605.5,806.5 603.5,806.2 605.5,805.5 607.5,805.8" fill="rgb(251,216,216)" stroke="rgb(251,216,216)" stroke-width="0.45"/>
<polygon points="597.5,807.8 595.5,807.4 597.5,806.4 599.5,806.7" fill="rgb(252,223,223)" stroke="rgb(252,223,223)" stroke-width="0.45"/>
<polygon points="589.6,809.0 587.6,808.6 589.6,807.6 591.6,808.1" fill="rgb(253,232,232)" stroke="rgb(253,232,232)" stroke-width="0.45"/>
<polygon points="581.7,808.6 579.7,807.1 581.7,806.1 583.7,807.7" fill="rgb(252,225,225)" stroke="rgb(252,225,225)" stroke-width="0.45"/>
<polygon points="573.7,808.0 571.7,806.7 573.7,805.2 575.7,806.8" fill="rgb(252,221,221)" stroke="rgb(252,221,221)" stroke-width="0.45"/>
<polygon points="565.8,807.8 563.8,806.5 565.7,805.1 567.7,806.5" fill="rgb(252,219,219)" stroke="rgb(252,219,219)" stroke-width="0.45"/>
<polygon points="557.9,808.1 555.9,807.1 557.8,805.4 559.8,806.6" fill="rgb(252,221,221)" stroke="rgb(252,221,221)" stroke-width="0.45"/>
<polygon points="644.9,809.6 642.9,808.6 644.9,807.7 646.9,808.6" fill="rgb(253,233,233)" stroke="rgb(253,233,233)" stroke-width="0.45"/>
<polygon points="641.0,809.4 639.0,808.3 641.0,807.6 642.9,808.6" fill="rgb(253,232,232)" stroke="rgb(253,232,232)" stroke-width="0.45"/>
<polygon points="637.1,809.0 635.1,807.8 637.1,807.2 639.0,808.3" fill="rgb(252,230,230)" stroke="rgb(252,230,230)" stroke-width="0.45"/>
<polygon points="633.2,808.4 631.2,807.1 633.2,806.6 635.1,807.8" fill="rgb(252,226,226)" stroke="rgb(252,226,226)" stroke-width="0.45"/>
<polygon points="629.3,807.6 627.3,806.7 629.2,806.2 631.2,807.1" fill="rgb(252,222,222)" stroke="rgb(252,222,222)" stroke-width="0.45"/>
<polygon points="625.3,807.1 623.4,806.1 625.3,805.7 627.3,806.7" fill="rgb(252,218,218)" stroke="rgb(252,218,218)" stroke-width="0.45"/>
<polygon points="621.4,806.4 619.4,805.4 621.4,805.1 623.4,806.1" fill="rgb(251,213,213)" stroke="rgb(251,213,213)" stroke-width="0.45"/>
<polygon points="617.5,805.7 615.5,805.0 617.4,804.7 619.4,805.4" fill="rgb(251,209,209)" stroke="rgb(251,209,209)" stroke-width="0.45"/>
<polygon points="613.5,805.7 611.5,805.4 613.4,804.7 615.5,805.0" fill="rgb(251,209,209)" stroke="rgb(251,209,209)" stroke-width="0.45"/>
<polygon points="609.5,806.1 607.5,805.8 609.5,805.1 611.5,805.4" fill="rgb(251,212,212)" stroke="rgb(251,212,212)" stroke-width="0.45"/>
<polygon points="601.5,807.0 599.5,806.7 601.5,805.9 603.5,806.2" fill="rgb(252,219,219)" stroke="rgb(252,219,219)" stroke-width="0.45"/>
<polygon points="593.5,808.5 591.6,808.1 593.6,807.1 595.5,807.4" fill="rgb(252,228,228)" stroke="rgb(252,228,228)" stroke-width="0.45"/>
<polygon points="585.7,809.4 583.7,807.7 585.7,806.7 587.6,808.6" fill="rgb(253,230,230)" stroke="rgb(253,230,230)" stroke-width="0.45"/>
<polygon points="577.7,808.2 575.7,806.8 577.7,805.6 579.7,807.1" fill="rgb(252,222,222)" stroke="rgb(252,222,222)" stroke-width="0.45"/>
<polygon points="569.8,808.0 567.7,806.5 569.7,805.0 571.7,806.7" fill="rgb(252,220,220)" stroke="rgb(252,220,220)" stroke-width="0.45"/>
<polygon points="561.8,807.8 559.8,806.6 561.7,805.1 563.8,806.5" fill="rgb(252,219,219)" stroke="rgb(252,219,219)" stroke-width="0.45"/>
<polygon points="635.1,809.7 633.2,808.4 635.1,807.8 637.1,809.0" fill="rgb(252,228,228)" stroke="rgb(252,228,228)" stroke-width="0.45"/>
<polygon points="627.3,808.1 625.3,807.1 627.3,806.7 629.3,807.6" fill="rgb(252,219,219)" stroke="rgb(252,219,219)" stroke-width="0.45"/>
<polygon points="623.4,807.5 621.4,806.4 623.4,806.1 625.3,807.1" fill="rgb(251,214,214)" stroke="rgb(251,214,214)" stroke-width="0.45"/>
<polygon points="619.4,806.8 617.5,805.7 619.4,805.4 621.4,806.4" fill="rgb(251,209,209)" stroke="rgb(251,209,209)" stroke-width="0.45"/>
<polygon points="615.5,806.4 613.5,805.7 615.5,805.0 617.5,805.7" fill="rgb(251,206,206)" stroke="rgb(251,206,206)" stroke-width="0.45"/>
<polygon points="611.5,806.4 609.5,806.1 611.5,805.4 613.5,805.7" fill="rgb(251,207,207)" stroke="rgb(251,207,207)" stroke-width="0.45"/>
<polygon points="603.5,807.3 601.5,807.0 603.5,806.2 605.5,806.5" fill="rgb(251,215,215)" stroke="rgb(251,215,215)" stroke-width="0.45"/>
<polygon points="591.6,809.5 589.6,809.0 591.6,808.1 593.5,808.5" fill="rgb(252,229,229)" stroke="rgb(252,229,229)" stroke-width="0.45"/>
<polygon points="579.7,809.5 577.7,808.2 579.7,807.1 581.7,808.6" fill="rgb(252,225,225)" stroke="rgb(252,225,225)" stroke-width="0.45"/>
<polygon points="571.7,809.2 569.8,808.0 571.7,806.7 573.7,808.0" fill="rgb(252,223,223)" stroke="rgb(252,223,223)" stroke-width="0.45"/>
<polygon points="563.8,809.1 561.8,807.8 563.8,806.5 565.8,807.8" fill="rgb(252,222,222)" stroke="rgb(252,222,222)" stroke-width="0.45"/>
<polygon points="642.9,810.5 641.0,809.4 642.9,808.6 644.9,809.6" fill="rgb(253,233,233)" stroke="rgb(253,233,233)" stroke-width="0.45"/>
<polygon points="639.0,810.2 637.1,809.0 639.0,808.3 641.0,809.4" fill="rgb(253,231,231)" stroke="rgb(253,231,231)" stroke-width="0.45"/>
<polygon points="631.2,808.9 629.3,807.6 631.2,807.1 633.2,808.4" fill="rgb(252,223,223)" stroke="rgb(252,223,223)" stroke-width="0.45"/>
<polygon points="607.5,806.8 605.5,806.5 607.5,805.8 609.5,806.1" fill="rgb(251,211,211)" stroke="rgb(251,211,211)" stroke-width="0.45"/>
<polygon points="599.5,808.2 597.5,807.8 599.5,806.7 601.5,807.0" fill="rgb(252,220,220)" stroke="rgb(252,220,220)" stroke-width="0.45"/>
<polygon points="595.5,808.9 593.5,808.5 595.5,807.4 597.5,807.8" fill="rgb(252,224,224)" stroke="rgb(252,224,224)" stroke-width="0.45"/>
<polygon points="587.6,810.0 585.7,809.4 587.6,808.6 589.6,809.0" fill="rgb(253,232,232)" stroke="rgb(253,232,232)" stroke-width="0.45"/>
<polygon points="583.7,810.1 581.7,808.6 583.7,807.7 585.7,809.4" fill="rgb(252,230,230)" stroke="rgb(252,230,230)" stroke-width="0.45"/>
<polygon points="575.7,809.2 573.7,808.0 575.7,806.8 577.7,808.2" fill="rgb(252,223,223)" stroke="rgb(252,223,223)" stroke-width="0.45"/>
<polygon points="567.8,809.1 565.8,807.8 567.7,806.5 569.8,808.0" fill="rgb(252,222,222)" stroke="rgb(252,222,222)" stroke-width="0.45"/>
<polygon points="559.9,809.2 557.9,808.1 559.8,806.6 561.8,807.8" fill="rgb(252,222,222)" stroke="rgb(252,222,222)" stroke-width="0.45"/>
<polygon points="593.5,810.0 591.6,809.5 593.5,808.5 595.5,808.9" fill="rgb(252,225,225)" stroke="rgb(252,225,225)" stroke-width="0.45"/>
<polygon points="585.6,810.9 583.7,810.1 585.7,809.4 587.6,810.0" fill="rgb(253,231,231)" stroke="rgb(253,231,231)" stroke-width="0.45"/>
<polygon points="577.7,810.4 575.7,809.2 577.7,808.2 579.7,809.5" fill="rgb(252,226,226)" stroke="rgb(252,226,226)" stroke-width="0.45"/>
<polygon points="569.8,810.3 567.8,809.1 569.8,808.0 571.7,809.2" fill="rgb(252,225,225)" stroke="rgb(252,225,225)" stroke-width="0.45"/>
<polygon points="561.9,810.4 559.9,809.2 561.8,807.8 563.8,809.1" fill="rgb(252,224,224)" stroke="rgb(252,224,224)" stroke-width="0.45"/>
<polygon points="640.9,811.4 639.0,810.2 641.0,809.4 642.9,810.5" fill="rgb(253,233,233)" stroke="rgb(253,233,233)" stroke-width="0.45"/>
<polygon points="637.0,811.0 635.1,809.7 637.1,809.0 639.0,810.2" fill="rgb(253,230,230)" stroke="rgb(253,230,230)" stroke-width="0.45"/>
<polygon points="633.1,810.4 631.2,808.9 633.2,808.4 635.1,809.7" fill="rgb(252,226,226)" stroke="rgb(252,226,226)" stroke-width="0.45"/>
<polygon points="629.2,809.5 627.3,808.1 629.3,807.6 631.2,808.9" fill="rgb(252,221,221)" stroke="rgb(252,221,221)" stroke-width="0.45"/>
<polygon points="625.3,808.6 623.4,807.5 625.3,807.1 627.3,808.1" fill="rgb(251,215,215)" stroke="rgb(251,215,215)" stroke-width="0.45"/>
<polygon points="621.4,807.9 619.4,806.8 621.4,806.4 623.4,807.5" fill="rgb(251,210,210)" stroke="rgb(251,210,210)" stroke-width="0.45"/>
<polygon points="617.4,807.6 615.5,806.4 617.5,805.7 619.4,806.8" fill="rgb(251,206,206)" stroke="rgb(251,206,206)" stroke-width="0.45"/>
<polygon points="613.5,807.1 611.5,806.4 613.5,805.7 615.5,806.4" fill="rgb(251,204,204)" stroke="rgb(251,204,204)" stroke-width="0.45"/>
<polygon points="609.5,807.0 607.5,806.8 609.5,806.1 611.5,806.4" fill="rgb(251,206,206)" stroke="rgb(251,206,206)" stroke-width="0.45"/>
<polygon points="605.5,807.6 603.5,807.3 605.5,806.5 607.5,806.8" fill="rgb(251,210,210)" stroke="rgb(251,210,210)" stroke-width="0.45"/>
<polygon points="601.5,808.4 599.5,808.2 601.5,807.0 603.5,807.3" fill="rgb(251,215,215)" stroke="rgb(251,215,215)" stroke-width="0.45"/>
<polygon points="597.5,809.3 595.5,808.9 597.5,807.8 599.5,808.2" fill="rgb(252,221,221)" stroke="rgb(252,221,221)" stroke-width="0.45"/>
<polygon points="589.6,810.6 587.6,810.0 589.6,809.0 591.6,809.5" fill="rgb(252,229,229)" stroke="rgb(252,229,229)" stroke-width="0.45"/>
<polygon points="581.7,810.8 579.7,809.5 581.7,808.6 583.7,810.1" fill="rgb(252,229,229)" stroke="rgb(252,229,229)" stroke-width="0.45"/>
<polygon points="573.7,810.3 571.7,809.2 573.7,808.0 575.7,809.2" fill="rgb(252,225,225)" stroke="rgb(252,225,225)" stroke-width="0.45"/>
<polygon points="565.8,810.3 563.8,809.1 565.8,807.8 567.8,809.1" fill="rgb(252,224,224)" stroke="rgb(252,224,224)" stroke-width="0.45"/>
<polygon points="631.2,811.1 629.2,809.5 631.2,808.9 633.1,810.4" fill="rgb(252,224,224)" stroke="rgb(252,224,224)" stroke-width="0.45"/>
<polygon points="623.4,809.0 621.4,807.9 623.4,807.5 625.3,808.6" fill="rgb(251,212,212)" stroke="rgb(251,212,212)" stroke-width="0.45"/>
<polygon points="619.4,808.7 617.4,807.6 619.4,806.8 621.4,807.9" fill="rgb(251,208,208)" stroke="rgb(251,208,208)" stroke-width="0.45"/>
<polygon points="615.4,808.3 613.5,807.1 615.5,806.4 617.4,807.6" fill="rgb(251,205,205)" stroke="rgb(251,205,205)" stroke-width="0.45"/>
<polygon points="611.5,807.8 609.5,807.0 611.5,806.4 613.5,807.1" fill="rgb(250,203,203)" stroke="rgb(250,203,203)" stroke-width="0.45"/>
<polygon points="607.5,807.8 605.5,807.6 607.5,806.8 609.5,807.0" fill="rgb(251,205,205)" stroke="rgb(251,205,205)" stroke-width="0.45"/>
<polygon points="587.6,811.6 585.6,810.9 587.6,810.0 589.6,810.6" fill="rgb(252,229,229)" stroke="rgb(252,229,229)" stroke-width="0.45"/>
<polygon points="575.7,811.5 573.7,810.3 575.7,809.2 577.7,810.4" fill="rgb(252,226,226)" stroke="rgb(252,226,226)" stroke-width="0.45"/>
<polygon points="567.8,811.5 565.8,810.3 567.8,809.1 569.8,810.3" fill="rgb(252,226,226)" stroke="rgb(252,226,226)" stroke-width="0.45"/>
<polygon points="638.9,812.4 637.0,811.0 639.0,810.2 640.9,811.4" fill="rgb(253,232,232)" stroke="rgb(253,232,232)" stroke-width="0.45"/>
<polygon points="635.0,811.8 633.1,810.4 635.1,809.7 637.0,811.0" fill="rgb(252,229,229)" stroke="rgb(252,229,229)" stroke-width="0.45"/>
<polygon points="627.3,810.1 625.3,808.6 627.3,808.1 629.2,809.5" fill="rgb(252,218,218)" stroke="rgb(252,218,218)" stroke-width="0.45"/>
<polygon points="603.5,808.7 601.5,808.4 603.5,807.3 605.5,807.6" fill="rgb(251,210,210)" stroke="rgb(251,210,210)" stroke-width="0.45"/>
<polygon points="599.5,809.5 597.5,809.3 599.5,808.2 601.5,808.4" fill="rgb(251,217,217)" stroke="rgb(251,217,217)" stroke-width="0.45"/>
<polygon points="595.5,810.4 593.5,810.0 595.5,808.9 597.5,809.3" fill="rgb(252,222,222)" stroke="rgb(252,222,222)" stroke-width="0.45"/>
<polygon points="591.5,811.2 589.6,810.6 591.6,809.5 593.5,810.0" fill="rgb(252,226,226)" stroke="rgb(252,226,226)" stroke-width="0.45"/>
<polygon points="583.6,811.8 581.7,810.8 583.7,810.1 585.6,810.9" fill="rgb(253,230,230)" stroke="rgb(253,230,230)" stroke-width="0.45"/>
<polygon points="579.7,811.6 577.7,810.4 579.7,809.5 581.7,810.8" fill="rgb(252,228,228)" stroke="rgb(252,228,228)" stroke-width="0.45"/>
<polygon points="571.8,811.5 569.8,810.3 571.7,809.2 573.7,810.3" fill="rgb(252,226,226)" stroke="rgb(252,226,226)" stroke-width="0.45"/>
<polygon points="563.8,811.5 561.9,810.4 563.8,809.1 565.8,810.3" fill="rgb(252,226,226)" stroke="rgb(252,226,226)" stroke-width="0.45"/>
<polygon points="589.6,812.4 587.6,811.6 589.6,810.6 591.5,811.2" fill="rgb(252,228,228)" stroke="rgb(252,228,228)" stroke-width="0.45"/>
<polygon points="581.7,812.7 579.7,811.6 581.7,810.8 583.6,811.8" fill="rgb(252,229,229)" stroke="rgb(252,229,229)" stroke-width="0.45"/>
<polygon points="573.7,812.6 571.8,811.5 573.7,810.3 575.7,811.5" fill="rgb(252,228,228)" stroke="rgb(252,228,228)" stroke-width="0.45"/>
<polygon points="565.8,812.6 563.8,811.5 565.8,810.3 567.8,811.5" fill="rgb(252,228,228)" stroke="rgb(252,228,228)" stroke-width="0.45"/>
<polygon points="637.0,813.3 635.0,811.8 637.0,811.0 638.9,812.4" fill="rgb(253,232,232)" stroke="rgb(253,232,232)" stroke-width="0.45"/>
<polygon points="633.1,812.6 631.2,811.1 633.1,810.4 635.0,811.8" fill="rgb(252,228,228)" stroke="rgb(252,228,228)" stroke-width="0.45"/>
<polygon points="629.2,811.8 627.3,810.1 629.2,809.5 631.2,811.1" fill="rgb(252,222,222)" stroke="rgb(252,222,222)" stroke-width="0.45"/>
<polygon points="625.3,810.6 623.4,809.0 625.3,808.6 627.3,810.1" fill="rgb(251,215,215)" stroke="rgb(251,215,215)" stroke-width="0.45"/>
<polygon points="621.4,809.9 619.4,808.7 621.4,807.9 623.4,809.0" fill="rgb(251,210,210)" stroke="rgb(251,210,210)" stroke-width="0.45"/>
<polygon points="617.4,809.6 615.4,808.3 617.4,807.6 619.4,808.7" fill="rgb(251,207,207)" stroke="rgb(251,207,207)" stroke-width="0.45"/>
<polygon points="613.4,809.1 611.5,807.8 613.5,807.1 615.4,808.3" fill="rgb(251,204,204)" stroke="rgb(251,204,204)" stroke-width="0.45"/>
<polygon points="609.5,808.6 607.5,807.8 609.5,807.0 611.5,807.8" fill="rgb(250,202,202)" stroke="rgb(250,202,202)" stroke-width="0.45"/>
<polygon points="605.5,808.9 603.5,808.7 605.5,807.6 607.5,807.8" fill="rgb(251,205,205)" stroke="rgb(251,205,205)" stroke-width="0.45"/>
<polygon points="601.5,809.8 599.5,809.5 601.5,808.4 603.5,808.7" fill="rgb(251,212,212)" stroke="rgb(251,212,212)" stroke-width="0.45"/>
<polygon points="597.5,810.7 595.5,810.4 597.5,809.3 599.5,809.5" fill="rgb(252,218,218)" stroke="rgb(252,218,218)" stroke-width="0.45"/>
<polygon points="593.5,811.7 591.5,811.2 593.5,810.0 595.5,810.4" fill="rgb(252,224,224)" stroke="rgb(252,224,224)" stroke-width="0.45"/>
<polygon points="585.6,812.7 583.6,811.8 585.6,810.9 587.6,811.6" fill="rgb(252,230,230)" stroke="rgb(252,230,230)" stroke-width="0.45"/>
<polygon points="577.7,812.6 575.7,811.5 577.7,810.4 579.7,811.6" fill="rgb(252,228,228)" stroke="rgb(252,228,228)" stroke-width="0.45"/>
<polygon points="569.8,812.6 567.8,811.5 569.8,810.3 571.8,811.5" fill="rgb(252,228,228)" stroke="rgb(252,228,228)" stroke-width="0.45"/>
<polygon points="627.2,812.4 625.3,810.6 627.3,810.1 629.2,811.8" fill="rgb(252,220,220)" stroke="rgb(252,220,220)" stroke-width="0.45"/>
<polygon points="619.4,810.8 617.4,809.6 619.4,808.7 621.4,809.9" fill="rgb(251,209,209)" stroke="rgb(251,209,209)" stroke-width="0.45"/>
<polygon points="615.4,810.4 613.4,809.1 615.4,808.3 617.4,809.6" fill="rgb(251,206,206)" stroke="rgb(251,206,206)" stroke-width="0.45"/>
<polygon points="611.4,810.0 609.5,808.6 611.5,807.8 613.4,809.1" fill="rgb(250,203,203)" stroke="rgb(250,203,203)" stroke-width="0.45"/>
<polygon points="583.6,813.8 581.7,812.7 583.6,811.8 585.6,812.7" fill="rgb(253,230,230)" stroke="rgb(253,230,230)" stroke-width="0.45"/>
<polygon points="571.8,813.8 569.8,812.6 571.8,811.5 573.7,812.6" fill="rgb(252,229,229)" stroke="rgb(252,229,229)" stroke-width="0.45"/>
<polygon points="635.0,814.2 633.1,812.6 635.0,811.8 637.0,813.3" fill="rgb(253,231,231)" stroke="rgb(253,231,231)" stroke-width="0.45"/>
<polygon points="631.1,813.4 629.2,811.8 631.2,811.1 633.1,812.6" fill="rgb(252,227,227)" stroke="rgb(252,227,227)" stroke-width="0.45"/>
<polygon points="623.3,811.6 621.4,809.9 623.4,809.0 625.3,810.6" fill="rgb(251,214,214)" stroke="rgb(251,214,214)" stroke-width="0.45"/>
<polygon points="607.4,809.8 605.5,808.9 607.5,807.8 609.5,808.6" fill="rgb(250,202,202)" stroke="rgb(250,202,202)" stroke-width="0.45"/>
<polygon points="603.4,810.0 601.5,809.8 603.5,808.7 605.5,808.9" fill="rgb(251,207,207)" stroke="rgb(251,207,207)" stroke-width="0.45"/>
<polygon points="599.4,810.9 597.5,810.7 599.5,809.5 601.5,809.8" fill="rgb(251,213,213)" stroke="rgb(251,213,213)" stroke-width="0.45"/>
<polygon points="595.5,812.0 593.5,811.7 595.5,810.4 597.5,810.7" fill="rgb(252,220,220)" stroke="rgb(252,220,220)" stroke-width="0.45"/>
<polygon points="591.5,813.1 589.6,812.4 591.5,811.2 593.5,811.7" fill="rgb(252,226,226)" stroke="rgb(252,226,226)" stroke-width="0.45"/>
<polygon points="587.6,813.6 585.6,812.7 587.6,811.6 589.6,812.4" fill="rgb(252,229,229)" stroke="rgb(252,229,229)" stroke-width="0.45"/>
<polygon points="579.7,813.8 577.7,812.6 579.7,811.6 581.7,812.7" fill="rgb(252,229,229)" stroke="rgb(252,229,229)" stroke-width="0.45"/>
<polygon points="575.7,813.8 573.7,812.6 575.7,811.5 577.7,812.6" fill="rgb(252,229,229)" stroke="rgb(252,229,229)" stroke-width="0.45"/>
<polygon points="567.8,813.8 565.8,812.6 567.8,811.5 569.8,812.6" fill="rgb(252,229,229)" stroke="rgb(252,229,229)" stroke-width="0.45"/>
<polygon points="577.7,814.9 575.7,813.8 577.7,812.6 579.7,813.8" fill="rgb(253,231,231)" stroke="rgb(253,231,231)" stroke-width="0.45"/>
<polygon points="569.8,814.9 567.8,813.8 569.8,812.6 571.8,813.8" fill="rgb(253,231,231)" stroke="rgb(253,231,231)" stroke-width="0.45"/>
<polygon points="633.0,815.2 631.1,813.4 633.1,812.6 635.0,814.2" fill="rgb(253,231,231)" stroke="rgb(253,231,231)" stroke-width="0.45"/>
<polygon points="629.1,814.3 627.2,812.4 629.2,811.8 631.1,813.4" fill="rgb(252,225,225)" stroke="rgb(252,225,225)" stroke-width="0.45"/>
<polygon points="625.2,813.5 623.3,811.6 625.3,810.6 627.2,812.4" fill="rgb(252,219,219)" stroke="rgb(252,219,219)" stroke-width="0.45"/>
<polygon points="621.3,812.5 619.4,810.8 621.4,809.9 623.3,811.6" fill="rgb(251,214,214)" stroke="rgb(251,214,214)" stroke-width="0.45"/>
<polygon points="617.4,811.7 615.4,810.4 617.4,809.6 619.4,810.8" fill="rgb(251,209,209)" stroke="rgb(251,209,209)" stroke-width="0.45"/>
<polygon points="613.4,811.3 611.4,810.0 613.4,809.1 615.4,810.4" fill="rgb(251,206,206)" stroke="rgb(251,206,206)" stroke-width="0.45"/>
<polygon points="609.4,811.2 607.4,809.8 609.5,808.6 611.4,810.0" fill="rgb(251,204,204)" stroke="rgb(251,204,204)" stroke-width="0.45"/>
<polygon points="605.4,810.9 603.4,810.0 605.5,808.9 607.4,809.8" fill="rgb(251,204,204)" stroke="rgb(251,204,204)" stroke-width="0.45"/>
<polygon points="601.4,811.2 599.4,810.9 601.5,809.8 603.4,810.0" fill="rgb(251,208,208)" stroke="rgb(251,208,208)" stroke-width="0.45"/>
<polygon points="597.4,812.4 595.5,812.0 597.5,810.7 599.4,810.9" fill="rgb(251,216,216)" stroke="rgb(251,216,216)" stroke-width="0.45"/>
<polygon points="593.5,813.6 591.5,813.1 593.5,811.7 595.5,812.0" fill="rgb(252,223,223)" stroke="rgb(252,223,223)" stroke-width="0.45"/>
<polygon points="589.5,814.5 587.6,813.6 589.6,812.4 591.5,813.1" fill="rgb(252,228,228)" stroke="rgb(252,228,228)" stroke-width="0.45"/>
<polygon points="585.6,814.9 583.6,813.8 585.6,812.7 587.6,813.6" fill="rgb(253,231,231)" stroke="rgb(253,231,231)" stroke-width="0.45"/>
<polygon points="581.6,814.9 579.7,813.8 581.7,812.7 583.6,813.8" fill="rgb(253,231,231)" stroke="rgb(253,231,231)" stroke-width="0.45"/>
<polygon points="573.7,814.9 571.8,813.8 573.7,812.6 575.7,813.8" fill="rgb(253,231,231)" stroke="rgb(253,231,231)" stroke-width="0.45"/>
<polygon points="623.2,814.5 621.3,812.5 623.3,811.6 625.2,813.5" fill="rgb(252,220,220)" stroke="rgb(252,220,220)" stroke-width="0.45"/>
<polygon points="631.0,816.1 629.1,814.3 631.1,813.4 633.0,815.2" fill="rgb(253,231,231)" stroke="rgb(253,231,231)" stroke-width="0.45"/>
<polygon points="627.1,815.3 625.2,813.5 627.2,812.4 629.1,814.3" fill="rgb(252,225,225)" stroke="rgb(252,225,225)" stroke-width="0.45"/>
<polygon points="619.3,813.5 617.4,811.7 619.4,810.8 621.3,812.5" fill="rgb(251,214,214)" stroke="rgb(251,214,214)" stroke-width="0.45"/>
<polygon points="615.4,812.7 613.4,811.3 615.4,810.4 617.4,811.7" fill="rgb(251,209,209)" stroke="rgb(251,209,209)" stroke-width="0.45"/>
<polygon points="611.4,812.6 609.4,811.2 611.4,810.0 613.4,811.3" fill="rgb(251,207,207)" stroke="rgb(251,207,207)" stroke-width="0.45"/>
<polygon points="607.4,812.4 605.4,810.9 607.4,809.8 609.4,811.2" fill="rgb(251,206,206)" stroke="rgb(251,206,206)" stroke-width="0.45"/>
<polygon points="603.4,812.0 601.4,811.2 603.4,810.0 605.4,810.9" fill="rgb(251,206,206)" stroke="rgb(251,206,206)" stroke-width="0.45"/>
<polygon points="599.4,812.7 597.4,812.4 599.4,810.9 601.4,811.2" fill="rgb(251,211,211)" stroke="rgb(251,211,211)" stroke-width="0.45"/>
<polygon points="595.5,814.1 593.5,813.6 595.5,812.0 597.4,812.4" fill="rgb(252,220,220)" stroke="rgb(252,220,220)" stroke-width="0.45"/>
<polygon points="591.5,815.2 589.5,814.5 591.5,813.1 593.5,813.6" fill="rgb(252,227,227)" stroke="rgb(252,227,227)" stroke-width="0.45"/>
<polygon points="587.6,815.9 585.6,814.9 587.6,813.6 589.5,814.5" fill="rgb(253,231,231)" stroke="rgb(253,231,231)" stroke-width="0.45"/>
<polygon points="583.6,816.1 581.6,814.9 583.6,813.8 585.6,814.9" fill="rgb(253,232,232)" stroke="rgb(253,232,232)" stroke-width="0.45"/>
<polygon points="579.7,816.1 577.7,814.9 579.7,813.8 581.6,814.9" fill="rgb(253,232,232)" stroke="rgb(253,232,232)" stroke-width="0.45"/>
<polygon points="575.7,816.1 573.7,814.9 575.7,813.8 577.7,814.9" fill="rgb(253,232,232)" stroke="rgb(253,232,232)" stroke-width="0.45"/>
<polygon points="571.8,816.1 569.8,814.9 571.8,813.8 573.7,814.9" fill="rgb(253,232,232)" stroke="rgb(253,232,232)" stroke-width="0.45"/>
<polygon points="629.0,817.2 627.1,815.3 629.1,814.3 631.0,816.1" fill="rgb(253,231,231)" stroke="rgb(253,231,231)" stroke-width="0.45"/>
<polygon points="625.1,816.4 623.2,814.5 625.2,813.5 627.1,815.3" fill="rgb(252,226,226)" stroke="rgb(252,226,226)" stroke-width="0.45"/>
<polygon points="621.2,815.5 619.3,813.5 621.3,812.5 623.2,814.5" fill="rgb(252,220,220)" stroke="rgb(252,220,220)" stroke-width="0.45"/>
<polygon points="617.3,814.5 615.4,812.7 617.4,811.7 619.3,813.5" fill="rgb(251,214,214)" stroke="rgb(251,214,214)" stroke-width="0.45"/>
<polygon points="613.3,814.0 611.4,812.6 613.4,811.3 615.4,812.7" fill="rgb(251,211,211)" stroke="rgb(251,211,211)" stroke-width="0.45"/>
<polygon points="609.4,813.9 607.4,812.4 609.4,811.2 611.4,812.6" fill="rgb(251,210,210)" stroke="rgb(251,210,210)" stroke-width="0.45"/>
<polygon points="605.4,813.6 603.4,812.0 605.4,810.9 607.4,812.4" fill="rgb(251,208,208)" stroke="rgb(251,208,208)" stroke-width="0.45"/>
<polygon points="601.4,813.6 599.4,812.7 601.4,811.2 603.4,812.0" fill="rgb(251,209,209)" stroke="rgb(251,209,209)" stroke-width="0.45"/>
<polygon points="597.4,814.6 595.5,814.1 597.4,812.4 599.4,812.7" fill="rgb(251,217,217)" stroke="rgb(251,217,217)" stroke-width="0.45"/>
<polygon points="593.5,815.9 591.5,815.2 593.5,813.6 595.5,814.1" fill="rgb(252,225,225)" stroke="rgb(252,225,225)" stroke-width="0.45"/>
<polygon points="581.6,817.2 579.7,816.1 581.6,814.9 583.6,816.1" fill="rgb(253,233,233)" stroke="rgb(253,233,233)" stroke-width="0.45"/>
<polygon points="577.7,817.2 575.7,816.1 577.7,814.9 579.7,816.1" fill="rgb(253,233,233)" stroke="rgb(253,233,233)" stroke-width="0.45"/>
<polygon points="573.8,817.2 571.8,816.1 573.7,814.9 575.7,816.1" fill="rgb(253,233,233)" stroke="rgb(253,233,233)" stroke-width="0.45"/>
<polygon points="589.5,816.8 587.6,815.9 589.5,814.5 591.5,815.2" fill="rgb(253,231,231)" stroke="rgb(253,231,231)" stroke-width="0.45"/>
<polygon points="585.6,817.2 583.6,816.1 585.6,814.9 587.6,815.9" fill="rgb(253,233,233)" stroke="rgb(253,233,233)" stroke-width="0.45"/>
<polygon points="627.0,818.4 625.1,816.4 627.1,815.3 629.0,817.2" fill="rgb(253,232,232)" stroke="rgb(253,232,232)" stroke-width="0.45"/>
<polygon points="623.1,817.5 621.2,815.5 623.2,814.5 625.1,816.4" fill="rgb(252,227,227)" stroke="rgb(252,227,227)" stroke-width="0.45"/>
<polygon points="619.2,816.6 617.3,814.5 619.3,813.5 621.2,815.5" fill="rgb(252,221,221)" stroke="rgb(252,221,221)" stroke-width="0.45"/>
<polygon points="615.3,815.9 613.3,814.0 615.4,812.7 617.3,814.5" fill="rgb(251,216,216)" stroke="rgb(251,216,216)" stroke-width="0.45"/>
<polygon points="611.3,815.4 609.4,813.9 611.4,812.6 613.3,814.0" fill="rgb(251,214,214)" stroke="rgb(251,214,214)" stroke-width="0.45"/>
<polygon points="607.4,815.2 605.4,813.6 607.4,812.4 609.4,813.9" fill="rgb(251,212,212)" stroke="rgb(251,212,212)" stroke-width="0.45"/>
<polygon points="603.4,815.1 601.4,813.6 603.4,812.0 605.4,813.6" fill="rgb(251,211,211)" stroke="rgb(251,211,211)" stroke-width="0.45"/>
<polygon points="599.4,815.6 597.4,814.6 599.4,812.7 601.4,813.6" fill="rgb(251,215,215)" stroke="rgb(251,215,215)" stroke-width="0.45"/>
<polygon points="595.4,816.6 593.5,815.9 595.5,814.1 597.4,814.6" fill="rgb(252,223,223)" stroke="rgb(252,223,223)" stroke-width="0.45"/>
<polygon points="579.7,818.4 577.7,817.2 579.7,816.1 581.6,817.2" fill="rgb(253,235,235)" stroke="rgb(253,235,235)" stroke-width="0.45"/>
<polygon points="575.7,818.4 573.8,817.2 575.7,816.1 577.7,817.2" fill="rgb(253,235,235)" stroke="rgb(253,235,235)" stroke-width="0.45"/>
<polygon points="591.5,817.7 589.5,816.8 591.5,815.2 593.5,815.9" fill="rgb(252,230,230)" stroke="rgb(252,230,230)" stroke-width="0.45"/>
<polygon points="587.6,818.2 585.6,817.2 587.6,815.9 589.5,816.8" fill="rgb(253,234,234)" stroke="rgb(253,234,234)" stroke-width="0.45"/>
<polygon points="583.6,818.4 581.6,817.2 583.6,816.1 585.6,817.2" fill="rgb(253,235,235)" stroke="rgb(253,235,235)" stroke-width="0.45"/>
<polygon points="625.0,819.6 623.1,817.5 625.1,816.4 627.0,818.4" fill="rgb(253,234,234)" stroke="rgb(253,234,234)" stroke-width="0.45"/>
<polygon points="621.1,818.7 619.2,816.6 621.2,815.5 623.1,817.5" fill="rgb(252,228,228)" stroke="rgb(252,228,228)" stroke-width="0.45"/>
<polygon points="617.2,817.9 615.3,815.9 617.3,814.5 619.2,816.6" fill="rgb(252,223,223)" stroke="rgb(252,223,223)" stroke-width="0.45"/>
<polygon points="613.3,817.2 611.3,815.4 613.3,814.0 615.3,815.9" fill="rgb(252,219,219)" stroke="rgb(252,219,219)" stroke-width="0.45"/>
<polygon points="609.3,816.7 607.4,815.2 609.4,813.9 611.3,815.4" fill="rgb(251,217,217)" stroke="rgb(251,217,217)" stroke-width="0.45"/>
<polygon points="605.3,816.7 603.4,815.1 605.4,813.6 607.4,815.2" fill="rgb(251,216,216)" stroke="rgb(251,216,216)" stroke-width="0.45"/>
<polygon points="601.4,817.0 599.4,815.6 601.4,813.6 603.4,815.1" fill="rgb(251,217,217)" stroke="rgb(251,217,217)" stroke-width="0.45"/>
<polygon points="597.4,817.6 595.4,816.6 597.4,814.6 599.4,815.6" fill="rgb(252,222,222)" stroke="rgb(252,222,222)" stroke-width="0.45"/>
<polygon points="577.7,819.6 575.7,818.4 577.7,817.2 579.7,818.4" fill="rgb(253,236,236)" stroke="rgb(253,236,236)" stroke-width="0.45"/>
<polygon points="593.5,818.6 591.5,817.7 593.5,815.9 595.4,816.6" fill="rgb(252,229,229)" stroke="rgb(252,229,229)" stroke-width="0.45"/>
<polygon points="589.5,819.1 587.6,818.2 589.5,816.8 591.5,817.7" fill="rgb(253,234,234)" stroke="rgb(253,234,234)" stroke-width="0.45"/>
<polygon points="585.6,819.4 583.6,818.4 585.6,817.2 587.6,818.2" fill="rgb(253,235,235)" stroke="rgb(253,235,235)" stroke-width="0.45"/>
<polygon points="581.6,819.6 579.7,818.4 581.6,817.2 583.6,818.4" fill="rgb(253,236,236)" stroke="rgb(253,236,236)" stroke-width="0.45"/>
<polygon points="623.0,820.7 621.1,818.7 623.1,817.5 625.0,819.6" fill="rgb(253,235,235)" stroke="rgb(253,235,235)" stroke-width="0.45"/>
<polygon points="619.1,819.9 617.2,817.9 619.2,816.6 621.1,818.7" fill="rgb(252,230,230)" stroke="rgb(252,230,230)" stroke-width="0.45"/>
<polygon points="615.2,819.1 613.3,817.2 615.3,815.9 617.2,817.9" fill="rgb(252,225,225)" stroke="rgb(252,225,225)" stroke-width="0.45"/>
<polygon points="611.3,818.5 609.3,816.7 611.3,815.4 613.3,817.2" fill="rgb(252,222,222)" stroke="rgb(252,222,222)" stroke-width="0.45"/>
<polygon points="607.3,818.2 605.3,816.7 607.4,815.2 609.3,816.7" fill="rgb(252,220,220)" stroke="rgb(252,220,220)" stroke-width="0.45"/>
<polygon points="603.3,818.4 601.4,817.0 603.4,815.1 605.3,816.7" fill="rgb(252,221,221)" stroke="rgb(252,221,221)" stroke-width="0.45"/>
<polygon points="599.4,818.9 597.4,817.6 599.4,815.6 601.4,817.0" fill="rgb(252,224,224)" stroke="rgb(252,224,224)" stroke-width="0.45"/>
<polygon points="595.4,819.6 593.5,818.6 595.4,816.6 597.4,817.6" fill="rgb(252,229,229)" stroke="rgb(252,229,229)" stroke-width="0.45"/>
<polygon points="591.5,820.1 589.5,819.1 591.5,817.7 593.5,818.6" fill="rgb(253,234,234)" stroke="rgb(253,234,234)" stroke-width="0.45"/>
<polygon points="587.5,820.5 585.6,819.4 587.6,818.2 589.5,819.1" fill="rgb(253,236,236)" stroke="rgb(253,236,236)" stroke-width="0.45"/>
<polygon points="583.6,820.7 581.6,819.6 583.6,818.4 585.6,819.4" fill="rgb(253,237,237)" stroke="rgb(253,237,237)" stroke-width="0.45"/>
<polygon points="579.7,820.7 577.7,819.6 579.7,818.4 581.6,819.6" fill="rgb(253,238,238)" stroke="rgb(253,238,238)" stroke-width="0.45"/>
<polygon points="617.1,821.1 615.2,819.1 617.2,817.9 619.1,819.9" fill="rgb(253,232,232)" stroke="rgb(253,232,232)" stroke-width="0.45"/>
<polygon points="613.2,820.4 611.3,818.5 613.3,817.2 615.2,819.1" fill="rgb(252,227,227)" stroke="rgb(252,227,227)" stroke-width="0.45"/>
<polygon points="609.3,820.0 607.3,818.2 609.3,816.7 611.3,818.5" fill="rgb(252,225,225)" stroke="rgb(252,225,225)" stroke-width="0.45"/>
<polygon points="605.3,819.9 603.3,818.4 605.3,816.7 607.3,818.2" fill="rgb(252,224,224)" stroke="rgb(252,224,224)" stroke-width="0.45"/>
<polygon points="601.3,820.2 599.4,818.9 601.4,817.0 603.3,818.4" fill="rgb(252,226,226)" stroke="rgb(252,226,226)" stroke-width="0.45"/>
<polygon points="621.0,821.9 619.1,819.9 621.1,818.7 623.0,820.7" fill="rgb(253,236,236)" stroke="rgb(253,236,236)" stroke-width="0.45"/>
<polygon points="597.4,820.8 595.4,819.6 597.4,817.6 599.4,818.9" fill="rgb(253,230,230)" stroke="rgb(253,230,230)" stroke-width="0.45"/>
<polygon points="593.4,821.2 591.5,820.1 593.5,818.6 595.4,819.6" fill="rgb(253,234,234)" stroke="rgb(253,234,234)" stroke-width="0.45"/>
<polygon points="589.5,821.5 587.5,820.5 589.5,819.1 591.5,820.1" fill="rgb(253,236,236)" stroke="rgb(253,236,236)" stroke-width="0.45"/>
<polygon points="585.6,821.8 583.6,820.7 585.6,819.4 587.5,820.5" fill="rgb(253,238,238)" stroke="rgb(253,238,238)" stroke-width="0.45"/>
<polygon points="581.6,821.9 579.7,820.7 581.6,819.6 583.6,820.7" fill="rgb(253,239,239)" stroke="rgb(253,239,239)" stroke-width="0.45"/>
<polygon points="615.1,822.4 613.2,820.4 615.2,819.1 617.1,821.1" fill="rgb(253,233,233)" stroke="rgb(253,233,233)" stroke-width="0.45"/>
<polygon points="611.2,821.8 609.3,820.0 611.3,818.5 613.2,820.4" fill="rgb(253,230,230)" stroke="rgb(253,230,230)" stroke-width="0.45"/>
<polygon points="607.3,821.5 605.3,819.9 607.3,818.2 609.3,820.0" fill="rgb(252,228,228)" stroke="rgb(252,228,228)" stroke-width="0.45"/>
<polygon points="603.3,821.6 601.3,820.2 603.3,818.4 605.3,819.9" fill="rgb(252,229,229)" stroke="rgb(252,229,229)" stroke-width="0.45"/>
<polygon points="619.0,823.1 617.1,821.1 619.1,819.9 621.0,821.9" fill="rgb(253,238,238)" stroke="rgb(253,238,238)" stroke-width="0.45"/>
<polygon points="599.3,822.0 597.4,820.8 599.4,818.9 601.3,820.2" fill="rgb(253,232,232)" stroke="rgb(253,232,232)" stroke-width="0.45"/>
<polygon points="595.4,822.4 593.4,821.2 595.4,819.6 597.4,820.8" fill="rgb(253,235,235)" stroke="rgb(253,235,235)" stroke-width="0.45"/>
<polygon points="591.5,822.6 589.5,821.5 591.5,820.1 593.4,821.2" fill="rgb(253,237,237)" stroke="rgb(253,237,237)" stroke-width="0.45"/>
<polygon points="587.5,822.9 585.6,821.8 587.5,820.5 589.5,821.5" fill="rgb(253,239,239)" stroke="rgb(253,239,239)" stroke-width="0.45"/>
<polygon points="583.6,823.1 581.6,821.9 583.6,820.7 585.6,821.8" fill="rgb(253,240,240)" stroke="rgb(253,240,240)" stroke-width="0.45"/>
<polygon points="613.1,823.6 611.2,821.8 613.2,820.4 615.1,822.4" fill="rgb(253,236,236)" stroke="rgb(253,236,236)" stroke-width="0.45"/>
<polygon points="609.2,823.2 607.3,821.5 609.3,820.0 611.2,821.8" fill="rgb(253,233,233)" stroke="rgb(253,233,233)" stroke-width="0.45"/>
<polygon points="605.3,823.1 603.3,821.6 605.3,819.9 607.3,821.5" fill="rgb(253,232,232)" stroke="rgb(253,232,232)" stroke-width="0.45"/>
<polygon points="617.0,824.3 615.1,822.4 617.1,821.1 619.0,823.1" fill="rgb(253,240,240)" stroke="rgb(253,240,240)" stroke-width="0.45"/>
<polygon points="601.3,823.2 599.3,822.0 601.3,820.2 603.3,821.6" fill="rgb(253,234,234)" stroke="rgb(253,234,234)" stroke-width="0.45"/>
<polygon points="597.4,823.6 595.4,822.4 597.4,820.8 599.3,822.0" fill="rgb(253,237,237)" stroke="rgb(253,237,237)" stroke-width="0.45"/>
<polygon points="593.4,823.8 591.5,822.6 593.4,821.2 595.4,822.4" fill="rgb(253,238,238)" stroke="rgb(253,238,238)" stroke-width="0.45"/>
<polygon points="589.5,824.0 587.5,822.9 589.5,821.5 591.5,822.6" fill="rgb(253,240,240)" stroke="rgb(253,240,240)" stroke-width="0.45"/>
<polygon points="585.6,824.3 583.6,823.1 585.6,821.8 587.5,822.9" fill="rgb(253,241,241)" stroke="rgb(253,241,241)" stroke-width="0.45"/>
<polygon points="611.1,824.9 609.2,823.2 611.2,821.8 613.1,823.6" fill="rgb(253,238,238)" stroke="rgb(253,238,238)" stroke-width="0.45"/>
<polygon points="607.2,824.7 605.3,823.1 607.3,821.5 609.2,823.2" fill="rgb(253,236,236)" stroke="rgb(253,236,236)" stroke-width="0.45"/>
<polygon points="615.0,825.5 613.1,823.6 615.1,822.4 617.0,824.3" fill="rgb(253,241,241)" stroke="rgb(253,241,241)" stroke-width="0.45"/>
<polygon points="603.3,824.6 601.3,823.2 603.3,821.6 605.3,823.1" fill="rgb(253,236,236)" stroke="rgb(253,236,236)" stroke-width="0.45"/>
<polygon points="599.3,824.7 597.4,823.6 599.3,822.0 601.3,823.2" fill="rgb(253,238,238)" stroke="rgb(253,238,238)" stroke-width="0.45"/>
<polygon points="595.4,825.0 593.4,823.8 595.4,822.4 597.4,823.6" fill="rgb(253,240,240)" stroke="rgb(253,240,240)" stroke-width="0.45"/>
<polygon points="591.5,825.2 589.5,824.0 591.5,822.6 593.4,823.8" fill="rgb(253,241,241)" stroke="rgb(253,241,241)" stroke-width="0.45"/>
<polygon points="587.5,825.5 585.6,824.3 587.5,822.9 589.5,824.0" fill="rgb(254,243,243)" stroke="rgb(254,243,243)" stroke-width="0.45"/>
<polygon points="613.1,826.7 611.1,824.9 613.1,823.6 615.0,825.5" fill="rgb(254,243,243)" stroke="rgb(254,243,243)" stroke-width="0.45"/>
<polygon points="609.1,826.3 607.2,824.7 609.2,823.2 611.1,824.9" fill="rgb(253,241,241)" stroke="rgb(253,241,241)" stroke-width="0.45"/>
<polygon points="605.2,826.1 603.3,824.6 605.3,823.1 607.2,824.7" fill="rgb(253,240,240)" stroke="rgb(253,240,240)" stroke-width="0.45"/>
<polygon points="601.3,826.1 599.3,824.7 601.3,823.2 603.3,824.6" fill="rgb(253,240,240)" stroke="rgb(253,240,240)" stroke-width="0.45"/>
<polygon points="597.3,826.2 595.4,825.0 597.4,823.6 599.3,824.7" fill="rgb(253,241,241)" stroke="rgb(253,241,241)" stroke-width="0.45"/>
<polygon points="593.4,826.4 591.5,825.2 593.4,823.8 595.4,825.0" fill="rgb(254,243,243)" stroke="rgb(254,243,243)" stroke-width="0.45"/>
<polygon points="589.5,826.7 587.5,825.5 589.5,824.0 591.5,825.2" fill="rgb(254,244,244)" stroke="rgb(254,244,244)" stroke-width="0.45"/>
<polygon points="611.1,827.9 609.1,826.3 611.1,824.9 613.1,826.7" fill="rgb(254,245,245)" stroke="rgb(254,245,245)" stroke-width="0.45"/>
<polygon points="607.2,827.6 605.2,826.1 607.2,824.7 609.1,826.3" fill="rgb(254,243,243)" stroke="rgb(254,243,243)" stroke-width="0.45"/>
<polygon points="603.2,827.5 601.3,826.1 603.3,824.6 605.2,826.1" fill="rgb(254,243,243)" stroke="rgb(254,243,243)" stroke-width="0.45"/>
<polygon points="599.3,827.5 597.3,826.2 599.3,824.7 601.3,826.1" fill="rgb(254,243,243)" stroke="rgb(254,243,243)" stroke-width="0.45"/>
<polygon points="591.4,827.9 589.5,826.7 591.5,825.2 593.4,826.4" fill="rgb(254,245,245)" stroke="rgb(254,245,245)" stroke-width="0.45"/>
<polygon points="595.4,827.6 593.4,826.4 595.4,825.0 597.3,826.2" fill="rgb(254,244,244)" stroke="rgb(254,244,244)" stroke-width="0.45"/>
<polygon points="605.2,828.9 603.2,827.5 605.2,826.1 607.2,827.6" fill="rgb(254,245,245)" stroke="rgb(254,245,245)" stroke-width="0.45"/>
<polygon points="601.2,828.8 599.3,827.5 601.3,826.1 603.2,827.5" fill="rgb(254,245,245)" stroke="rgb(254,245,245)" stroke-width="0.45"/>
<polygon points="609.1,829.1 607.2,827.6 609.1,826.3 611.1,827.9" fill="rgb(254,246,246)" stroke="rgb(254,246,246)" stroke-width="0.45"/>
<polygon points="597.3,828.9 595.4,827.6 597.3,826.2 599.3,827.5" fill="rgb(254,246,246)" stroke="rgb(254,246,246)" stroke-width="0.45"/>
<polygon points="593.4,829.1 591.4,827.9 593.4,826.4 595.4,827.6" fill="rgb(254,247,247)" stroke="rgb(254,247,247)" stroke-width="0.45"/>
<polygon points="603.2,830.1 601.2,828.8 603.2,827.5 605.2,828.9" fill="rgb(254,247,247)" stroke="rgb(254,247,247)" stroke-width="0.45"/>
<polygon points="607.1,830.3 605.2,828.9 607.2,827.6 609.1,829.1" fill="rgb(254,248,248)" stroke="rgb(254,248,248)" stroke-width="0.45"/>
<polygon points="599.3,830.1 597.3,828.9 599.3,827.5 601.2,828.8" fill="rgb(254,247,247)" stroke="rgb(254,247,247)" stroke-width="0.45"/>
<polygon points="595.4,830.3 593.4,829.1 595.4,827.6 597.3,828.9" fill="rgb(254,248,248)" stroke="rgb(254,248,248)" stroke-width="0.45"/>
<polygon points="605.1,831.5 603.2,830.1 605.2,828.9 607.1,830.3" fill="rgb(254,250,250)" stroke="rgb(254,250,250)" stroke-width="0.45"/>
<polygon points="601.2,831.4 599.3,830.1 601.2,828.8 603.2,830.1" fill="rgb(254,249,249)" stroke="rgb(254,249,249)" stroke-width="0.45"/>
<polygon points="597.3,831.5 595.4,830.3 597.3,828.9 599.3,830.1" fill="rgb(254,250,250)" stroke="rgb(254,250,250)" stroke-width="0.45"/>
<polygon points="603.2,832.7 601.2,831.4 603.2,830.1 605.1,831.5" fill="rgb(254,251,251)" stroke="rgb(254,251,251)" stroke-width="0.45"/>
<polygon points="599.2,832.7 597.3,831.5 599.3,830.1 601.2,831.4" fill="rgb(254,251,251)" stroke="rgb(254,251,251)" stroke-width="0.45"/>
<polygon points="601.2,833.9 599.2,832.7 601.2,831.4 603.2,832.7" fill="rgb(254,253,253)" stroke="rgb(254,253,253)" stroke-width="0.45"/>
<polyline points="601.19,833.93 602.42,833.17 603.66,832.41 604.89,831.65 606.12,830.89 607.36,830.13 608.60,829.38 609.83,828.62 611.07,827.87 612.31,827.12 613.55,826.37 614.79,825.63 616.03,824.88 617.28,824.14 618.52,823.40 619.76,822.66 621.01,821.92 622.26,821.19 623.50,820.45 624.75,819.72 626.00,818.99 627.25,818.26 628.50,817.53 629.75,816.81 631.00,816.08 632.24,815.50 633.48,814.92 634.72,814.34 635.97,813.76 637.21,813.17 638.45,812.59 639.69,812.01 640.93,811.43 642.17,810.85 643.41,810.26 644.65,809.68 645.89,809.10 647.13,808.52 648.37,807.94 649.61,807.35 650.85,806.77 652.09,806.19 653.33,805.61 654.59,804.90 655.86,804.20 657.12,803.49 658.38,802.79 659.65,802.09 660.91,801.40" fill="none" stroke="#333" stroke-width="0.5" stroke-linejoin="round" stroke-linecap="butt" stroke-opacity="0.85"/>
<polyline points="595.35,830.28 596.58,829.40 597.82,828.52 599.05,827.65 600.29,826.77 601.53,825.90 602.77,825.04 604.01,824.06 605.25,823.08 606.50,822.10 607.75,821.13 609.00,820.17 610.26,819.20 611.51,818.36 612.77,817.53 614.02,816.69 615.28,815.86 616.54,815.04 617.80,814.21 619.05,813.62 620.30,813.02 621.55,812.43 622.80,811.83 624.05,811.24 625.30,810.64 626.53,810.29 627.76,809.94 628.99,809.59 630.22,809.23 631.45,808.87 632.67,808.50 633.90,808.14 635.12,807.77 636.34,807.40 637.56,807.02 638.78,806.64 639.99,806.26 641.23,805.68 642.47,805.10 643.71,804.51 644.95,803.93 646.20,803.35 647.44,802.76 648.69,802.06 649.95,801.36 651.21,800.66 652.48,799.96 653.74,799.26 655.00,798.57" fill="none" stroke="#333" stroke-width="0.5" stroke-linejoin="round" stroke-linecap="butt" stroke-opacity="0.85"/>
<polyline points="589.49,826.67 590.72,825.77 591.95,824.87 593.18,823.98 594.42,823.09 595.65,822.20 596.89,821.32 598.13,820.11 599.38,818.91 600.62,817.72 601.88,816.54 603.13,815.37 604.39,814.20 605.64,813.44 606.90,812.68 608.16,811.92 609.41,811.16 610.67,810.41 611.93,809.66 613.18,809.18 614.43,808.71 615.68,808.23 616.93,807.75 618.18,807.27 619.43,806.79 620.66,806.57 621.89,806.35 623.12,806.12 624.34,805.89 625.56,805.65 626.78,805.41 628.00,805.09 629.23,804.76 630.45,804.43 631.67,804.10 632.88,803.77 634.10,803.43 635.34,802.84 636.58,802.26 637.82,801.67 639.06,801.09 640.30,800.50 641.54,799.92 642.80,799.22 644.05,798.52 645.31,797.82 646.57,797.13 647.83,796.44 649.09,795.75" fill="none" stroke="#333" stroke-width="0.5" stroke-linejoin="round" stroke-linecap="butt" stroke-opacity="0.85"/>
<polyline points="583.61,823.10 584.84,822.27 586.07,821.44 587.30,820.62 588.53,819.80 589.76,818.98 591.00,818.16 592.23,817.03 593.47,815.91 594.71,814.79 595.95,813.68 597.20,812.58 598.45,811.49 599.70,810.78 600.95,810.08 602.20,809.38 603.46,808.69 604.71,807.99 605.96,807.30 607.21,806.87 608.46,806.44 609.71,806.01 610.96,805.57 612.20,805.14 613.45,804.70 614.68,804.41 615.92,804.12 617.15,803.83 618.38,803.53 619.61,803.23 620.84,802.93 622.07,802.54 623.30,802.16 624.53,801.77 625.75,801.38 626.98,800.99 628.20,800.59 629.44,800.00 630.68,799.42 631.92,798.83 633.16,798.25 634.40,797.66 635.64,797.08 636.89,796.42 638.14,795.77 639.39,795.12 640.64,794.47 641.89,793.82 643.14,793.18" fill="none" stroke="#333" stroke-width="0.5" stroke-linejoin="round" stroke-linecap="butt" stroke-opacity="0.85"/>
<polyline points="577.70,819.57 578.94,818.84 580.17,818.11 581.40,817.37 582.63,816.64 583.87,815.92 585.10,815.19 586.34,814.41 587.57,813.63 588.81,812.86 590.05,812.09 591.29,811.32 592.53,810.55 593.77,809.86 595.02,809.18 596.26,808.50 597.51,807.82 598.75,807.14 600.00,806.46 601.24,805.99 602.49,805.51 603.73,805.04 604.97,804.56 606.22,804.09 607.46,803.61 608.70,803.13 609.94,802.65 611.18,802.16 612.42,801.68 613.66,801.19 614.90,800.71 616.13,800.22 617.37,799.73 618.60,799.24 619.84,798.74 621.07,798.25 622.31,797.75 623.55,797.17 624.79,796.58 626.03,795.99 627.27,795.41 628.51,794.82 629.75,794.23 630.99,793.64 632.23,793.06 633.47,792.47 634.71,791.88 635.95,791.30 637.19,790.71" fill="none" stroke="#333" stroke-width="0.5" stroke-linejoin="round" stroke-linecap="butt" stroke-opacity="0.85"/>
<polyline points="571.78,816.08 573.01,815.36 574.24,814.63 575.47,813.91 576.71,813.18 577.94,812.46 579.18,811.74 580.43,811.30 581.67,810.85 582.92,810.39 584.17,809.94 585.41,809.49 586.66,809.03 587.90,808.44 589.14,807.85 590.38,807.26 591.62,806.68 592.86,806.09 594.10,805.50 595.33,804.91 596.57,804.32 597.81,803.74 599.05,803.15 600.29,802.56 601.53,801.97 602.77,801.38 604.01,800.80 605.25,800.21 606.49,799.62 607.73,799.03 608.97,798.44 610.21,797.86 611.45,797.27 612.69,796.68 613.93,796.09 615.17,795.50 616.41,794.92 617.65,794.33 618.89,793.74 620.13,793.15 621.37,792.56 622.61,791.98 623.85,791.39 625.09,790.80 626.33,790.21 627.57,789.62 628.81,789.04 630.05,788.45 631.29,787.86" fill="none" stroke="#333" stroke-width="0.5" stroke-linejoin="round" stroke-linecap="butt" stroke-opacity="0.85"/>
<polyline points="565.83,812.64 567.06,811.91 568.30,811.20 569.53,810.48 570.76,809.76 572.00,809.05 573.23,808.34 574.46,807.58 575.70,806.82 576.93,806.06 578.17,805.31 579.40,804.55 580.64,803.80 581.88,802.93 583.11,802.06 584.35,801.20 585.59,800.34 586.83,799.49 588.07,798.64 589.33,798.08 590.58,797.52 591.84,796.96 593.09,796.40 594.34,795.84 595.60,795.28 596.85,794.72 598.11,794.16 599.36,793.60 600.61,793.04 601.87,792.48 603.12,791.92 604.37,791.63 605.62,791.32 606.87,791.02 608.11,790.71 609.35,790.39 610.59,790.07 611.83,789.67 613.07,789.26 614.31,788.85 615.55,788.43 616.78,788.01 618.02,787.59 619.25,787.09 620.49,786.59 621.73,786.08 622.96,785.58 624.20,785.07 625.43,784.56" fill="none" stroke="#333" stroke-width="0.5" stroke-linejoin="round" stroke-linecap="butt" stroke-opacity="0.85"/>
<polyline points="559.87,809.23 561.08,808.36 562.30,807.49 563.52,806.62 564.73,805.77 565.96,804.91 567.18,804.06 568.32,802.25 569.48,800.46 570.64,798.69 571.81,796.94 572.98,795.20 574.17,793.49 575.40,792.39 576.64,791.29 577.88,790.15 579.13,789.02 580.38,787.91 581.63,786.80 582.91,786.08 584.18,785.37 585.46,784.66 586.75,783.95 588.03,783.24 589.31,782.54 590.60,781.85 591.89,781.15 593.18,780.46 594.47,779.78 595.77,779.09 597.06,778.41 598.36,777.53 599.66,776.66 600.96,775.79 602.27,774.93 603.58,774.07 604.89,773.22 606.20,772.41 607.52,771.59 608.85,770.79 610.17,769.99 611.50,769.20 612.83,768.41 614.16,767.72 615.50,767.03 616.83,766.34 618.17,765.66 619.51,764.98 620.86,764.31" fill="none" stroke="#333" stroke-width="0.5" stroke-linejoin="round" stroke-linecap="butt" stroke-opacity="0.85"/>
<polyline points="553.92,806.16 555.09,805.00 556.27,803.84 557.45,802.69 558.63,801.55 559.82,800.42 561.01,799.29 562.05,796.71 563.11,794.16 564.18,791.64 565.24,788.96 566.32,786.31 567.42,783.69 568.66,782.56 569.91,781.45 571.16,780.34 572.41,779.24 573.67,778.15 574.94,777.08 576.24,776.38 577.54,775.68 578.84,774.99 580.14,774.30 581.44,773.62 582.75,772.94 584.07,772.41 585.38,771.87 586.70,771.34 588.02,770.81 589.34,770.29 590.66,769.76 591.96,768.51 593.27,767.27 594.59,766.05 595.91,764.84 597.24,763.64 598.58,762.46 599.92,761.48 601.27,760.51 602.63,759.56 603.99,758.61 605.36,757.68 606.73,756.76 608.10,756.09 609.48,755.43 610.86,754.77 612.24,754.12 613.62,753.47 615.01,752.84" fill="none" stroke="#333" stroke-width="0.5" stroke-linejoin="round" stroke-linecap="butt" stroke-opacity="0.85"/>
<polyline points="547.98,803.27 549.12,801.95 550.26,800.64 551.41,799.35 552.56,798.06 553.72,796.78 554.88,795.52 555.89,793.04 556.92,790.59 557.95,788.07 558.98,785.50 560.02,782.95 561.08,780.44 562.33,779.50 563.59,778.56 564.84,777.62 566.10,776.70 567.37,775.78 568.63,774.87 569.93,774.25 571.23,773.64 572.53,773.03 573.84,772.42 575.14,771.81 576.45,771.21 577.77,770.87 579.10,770.54 580.42,770.20 581.75,769.87 583.07,769.53 584.39,769.19 585.68,768.09 586.97,767.00 588.26,765.92 589.56,764.86 590.87,763.80 592.18,762.76 593.51,762.01 594.84,761.27 596.17,760.53 597.51,759.80 598.85,759.08 600.19,758.37 601.54,757.89 602.89,757.41 604.23,756.93 605.58,756.46 606.94,755.99 608.29,755.52" fill="none" stroke="#333" stroke-width="0.5" stroke-linejoin="round" stroke-linecap="butt" stroke-opacity="0.85"/>
<polyline points="541.96,799.96 543.17,799.14 544.38,798.33 545.59,797.52 546.80,796.72 548.01,795.92 549.23,795.12 550.37,793.87 551.53,792.63 552.68,791.41 553.85,790.19 555.01,788.99 556.19,787.79 557.39,786.83 558.60,785.87 559.82,784.91 561.04,783.97 562.26,783.03 563.48,782.10 564.71,781.14 565.93,780.18 567.16,779.23 568.40,778.29 569.64,777.36 570.88,776.44 572.12,775.52 573.37,774.61 574.62,773.71 575.88,772.82 577.14,771.94 578.41,771.06 579.67,770.19 580.95,769.33 582.22,768.48 583.50,767.63 584.78,766.80 586.07,765.97 587.37,765.34 588.67,764.71 589.98,764.09 591.28,763.47 592.59,762.85 593.90,762.24 595.21,761.63 596.53,761.03 597.84,760.43 599.16,759.83 600.48,759.24 601.80,758.66" fill="none" stroke="#333" stroke-width="0.5" stroke-linejoin="round" stroke-linecap="butt" stroke-opacity="0.85"/>
<polyline points="601.19,833.93 599.98,833.17 598.76,832.41 597.54,831.65 596.33,830.89 595.11,830.13 593.89,829.38 592.67,828.62 591.45,827.87 590.22,827.12 589.00,826.37 587.78,825.63 586.55,824.88 585.33,824.14 584.10,823.40 582.87,822.66 581.64,821.92 580.41,821.19 579.18,820.45 577.95,819.72 576.72,818.99 575.48,818.26 574.25,817.53 573.02,816.81 571.78,816.08 570.54,815.36 569.30,814.64 568.07,813.92 566.83,813.21 565.59,812.49 564.34,811.78 563.10,811.07 561.86,810.36 560.61,809.65 559.37,808.94 558.12,808.24 556.88,807.54 555.64,806.96 554.41,806.39 553.18,805.82 551.94,805.25 550.71,804.68 549.48,804.11 548.23,803.41 546.98,802.72 545.72,802.02 544.47,801.33 543.22,800.64 541.96,799.96" fill="none" stroke="#333" stroke-width="0.5" stroke-linejoin="round" stroke-linecap="butt" stroke-opacity="0.85"/>
<polyline points="609.66,828.73 608.45,827.78 607.24,826.83 606.02,825.89 604.81,824.94 603.59,824.01 602.37,823.08 601.14,822.30 599.92,821.52 598.69,820.75 597.46,819.97 596.24,819.20 595.01,818.44 593.78,817.92 592.55,817.40 591.32,816.88 590.09,816.36 588.87,815.84 587.64,815.32 586.41,814.65 585.18,813.99 583.95,813.33 582.71,812.67 581.48,812.02 580.25,811.36 579.01,810.59 577.77,809.82 576.53,809.06 575.28,808.29 574.04,807.53 572.79,806.78 571.51,805.58 570.23,804.39 568.94,803.21 567.64,802.04 566.34,800.88 565.04,799.73 563.74,798.62 562.43,797.52 561.12,796.42 559.80,795.34 558.48,794.26 557.15,793.19 555.98,793.36 554.82,793.52 553.66,793.66 552.50,793.80 551.35,793.93 550.21,794.05" fill="none" stroke="#333" stroke-width="0.5" stroke-linejoin="round" stroke-linecap="butt" stroke-opacity="0.85"/>
<polyline points="618.16,823.61 616.97,822.38 615.78,821.15 614.58,819.94 613.37,818.73 612.17,817.53 610.95,816.33 609.73,815.37 608.51,814.41 607.28,813.46 606.05,812.52 604.82,811.57 603.58,810.64 602.33,810.49 601.09,810.34 599.85,810.19 598.61,810.03 597.37,809.87 596.14,809.70 594.91,809.43 593.68,809.16 592.45,808.88 591.23,808.60 590.00,808.31 588.78,808.02 587.54,806.81 586.28,805.62 585.03,804.43 583.77,803.25 582.50,802.08 581.24,800.92 579.88,798.29 578.51,795.70 577.13,793.14 575.72,790.52 574.29,787.82 572.84,785.16 571.48,783.73 570.10,782.32 568.72,780.93 567.33,779.55 565.93,778.18 564.53,776.83 563.44,778.50 562.38,780.13 561.33,781.72 560.29,783.29 559.28,784.82 558.26,786.14" fill="none" stroke="#333" stroke-width="0.5" stroke-linejoin="round" stroke-linecap="butt" stroke-opacity="0.85"/>
<polyline points="626.71,818.57 625.53,817.33 624.35,816.10 623.16,814.87 621.97,813.65 620.77,812.44 619.57,811.24 618.35,810.45 617.12,809.68 615.89,808.90 614.66,808.13 613.42,807.35 612.19,806.59 610.93,806.43 609.68,806.26 608.42,806.09 607.18,805.91 605.93,805.73 604.69,805.54 603.45,805.29 602.21,805.04 600.97,804.78 599.74,804.52 598.51,804.26 597.28,803.99 596.05,802.55 594.81,801.12 593.56,799.71 592.31,798.31 591.05,796.92 589.78,795.54 588.46,792.64 587.11,789.76 585.75,786.78 584.36,783.75 582.95,780.77 581.51,777.82 580.17,776.76 578.82,775.70 577.46,774.66 576.10,773.63 574.74,772.60 573.37,771.59 572.21,773.01 571.06,774.40 569.93,775.75 568.82,777.08 567.72,778.37 566.64,779.64" fill="none" stroke="#333" stroke-width="0.5" stroke-linejoin="round" stroke-linecap="butt" stroke-opacity="0.85"/>
<polyline points="635.26,814.09 634.07,813.11 632.87,812.13 631.68,811.16 630.48,810.20 629.28,809.24 628.08,808.29 626.84,807.66 625.61,807.03 624.38,806.40 623.15,805.77 621.91,805.14 620.68,804.52 619.43,804.18 618.18,803.84 616.93,803.50 615.69,803.15 614.44,802.80 613.20,802.45 611.96,802.04 610.72,801.63 609.48,801.21 608.25,800.80 607.02,800.38 605.78,799.96 604.57,798.56 603.35,797.17 602.12,795.80 600.89,794.44 599.65,793.09 598.40,791.76 597.14,788.59 595.85,785.47 594.53,782.15 593.20,778.86 591.83,775.62 590.44,772.43 589.12,771.88 587.80,771.33 586.47,770.79 585.14,770.25 583.82,769.71 582.49,769.17 581.24,769.91 580.00,770.64 578.78,771.34 577.56,772.02 576.36,772.69 575.16,773.33" fill="none" stroke="#333" stroke-width="0.5" stroke-linejoin="round" stroke-linecap="butt" stroke-opacity="0.85"/>
<polyline points="643.76,810.10 642.54,809.43 641.32,808.77 640.10,808.10 638.88,807.44 637.66,806.78 636.44,806.12 635.21,805.53 633.98,804.95 632.75,804.36 631.52,803.77 630.29,803.18 629.06,802.60 627.83,802.04 626.60,801.49 625.36,800.93 624.13,800.38 622.90,799.82 621.67,799.27 620.44,798.71 619.21,798.16 617.98,797.60 616.75,797.04 615.52,796.48 614.29,795.92 613.08,794.80 611.87,793.69 610.66,792.58 609.44,791.49 608.22,790.40 606.99,789.32 605.82,785.34 604.62,781.36 603.39,777.17 602.13,773.04 600.83,768.97 599.50,764.95 598.16,764.76 596.83,764.57 595.49,764.38 594.15,764.18 592.82,763.97 591.49,763.77 590.19,764.43 588.91,765.06 587.63,765.67 586.37,766.27 585.11,766.84 583.87,767.39" fill="none" stroke="#333" stroke-width="0.5" stroke-linejoin="round" stroke-linecap="butt" stroke-opacity="0.85"/>
<polyline points="652.27,806.11 651.04,805.51 649.81,804.92 648.58,804.33 647.36,803.74 646.13,803.14 644.90,802.55 643.67,801.96 642.44,801.37 641.21,800.78 639.98,800.18 638.76,799.59 637.53,799.00 636.30,798.41 635.07,797.81 633.84,797.22 632.61,796.63 631.39,796.04 630.16,795.45 628.93,794.85 627.70,794.26 626.47,793.67 625.24,793.08 624.01,792.48 622.79,791.89 621.58,791.06 620.36,790.24 619.15,789.42 617.93,788.60 616.71,787.79 615.49,786.98 614.48,782.12 613.43,777.23 612.36,772.11 611.24,767.08 610.07,762.12 608.86,757.23 607.48,757.37 606.10,757.50 604.73,757.62 603.37,757.74 602.01,757.84 600.65,757.94 599.31,758.81 597.98,759.66 596.66,760.48 595.35,761.27 594.06,762.03 592.78,762.76" fill="none" stroke="#333" stroke-width="0.5" stroke-linejoin="round" stroke-linecap="butt" stroke-opacity="0.85"/>
<polyline points="660.91,801.40 659.68,800.81 658.45,800.22 657.22,799.63 655.99,799.04 654.75,798.45 653.52,797.86 652.29,797.28 651.06,796.69 649.83,796.10 648.60,795.51 647.37,794.92 646.13,794.33 644.89,793.85 643.64,793.37 642.39,792.89 641.15,792.40 639.90,791.91 638.66,791.42 637.43,790.83 636.20,790.24 634.97,789.64 633.75,789.05 632.52,788.45 631.29,787.86 630.07,787.17 628.85,786.48 627.63,785.79 626.41,785.11 625.19,784.42 623.97,783.74 623.15,778.47 622.29,773.13 621.41,767.59 620.47,762.15 619.49,756.77 618.45,751.50 617.01,752.07 615.58,752.62 614.16,753.16 612.75,753.67 611.35,754.17 609.95,754.65 608.56,755.38 607.19,756.09 605.82,756.77 604.47,757.43 603.13,758.05 601.80,758.66" fill="none" stroke="#333" stroke-width="0.5" stroke-linejoin="round" stroke-linecap="butt" stroke-opacity="0.85"/>
<text x="527.80" y="777.14" font-size="5.0" text-anchor="end" font-weight="normal" fill="#333" >40</text>
<text x="530.49" y="792.93" font-size="5.0" text-anchor="end" font-weight="normal" fill="#333" >20</text>
<text x="532.94" y="807.31" font-size="5.0" text-anchor="end" font-weight="normal" fill="#333" >0</text>
<text x="535.11" y="820.07" font-size="5.0" text-anchor="end" font-weight="normal" fill="#333" >-20</text>
<text x="537.10" y="831.77" font-size="5.0" text-anchor="end" font-weight="normal" fill="#333" >-40</text>
<text x="502.00" y="814.30" font-size="7.2" text-anchor="start" font-weight="normal" fill="#333" >δ - score</text>
<text x="503.90" y="822.70" font-size="6.2" text-anchor="start" font-weight="normal" fill="#333" >δ - score</text>
<defs><linearGradient id="cbar" x1="0" y1="0" x2="0" y2="1"><stop offset="0" stop-color="#ff1a1a"/><stop offset="0.5" stop-color="#ffffff"/><stop offset="1" stop-color="#1aff1a"/></linearGradient></defs>
<rect x="503.30" y="826.00" width="8.30" height="22.20" fill="url(#cbar)" stroke="none" stroke-width="0" />
<text x="513.00" y="828.50" font-size="4.0" text-anchor="start" font-weight="normal" fill="#333" >50</text>
<text x="513.00" y="838.50" font-size="4.0" text-anchor="start" font-weight="normal" fill="#333" >0</text>
<text x="513.00" y="848.50" font-size="4.0" text-anchor="start" font-weight="normal" fill="#333" >-50</text>
<polygon points="546.0,834.0 557.8,843.6 553.6,846.8" fill="#000"/>
<polygon points="645.5,849.2 654.2,837.4 658.2,841.6" fill="#000"/>
<text transform="translate(537.50,843.50) rotate(40)" font-size="10.5" text-anchor="start" font-weight="normal" fill="#1a1a1a" >40</text>
<text transform="translate(558.60,854.00) rotate(39)" font-size="10.3" text-anchor="start" font-weight="normal" fill="#1a1a1a" >BETd-260</text>
<text transform="translate(561.00,871.50) rotate(39)" font-size="10.6" text-anchor="start" font-weight="normal" fill="#1a1a1a" >(nM)</text>
<text x="603.20" y="882.20" font-size="11.3" text-anchor="middle" font-weight="normal" fill="#1a1a1a" >0</text>
<text transform="translate(614.50,882.00) rotate(-40)" font-size="10.4" text-anchor="start" font-weight="normal" fill="#1a1a1a" >RG7388</text>
<text transform="translate(628.50,887.00) rotate(-40)" font-size="10.6" text-anchor="start" font-weight="normal" fill="#1a1a1a" >(uM)</text>
<text transform="translate(657.50,849.50) rotate(-40)" font-size="11.0" text-anchor="start" font-weight="normal" fill="#1a1a1a" >5</text>
</svg>
</body></html>
